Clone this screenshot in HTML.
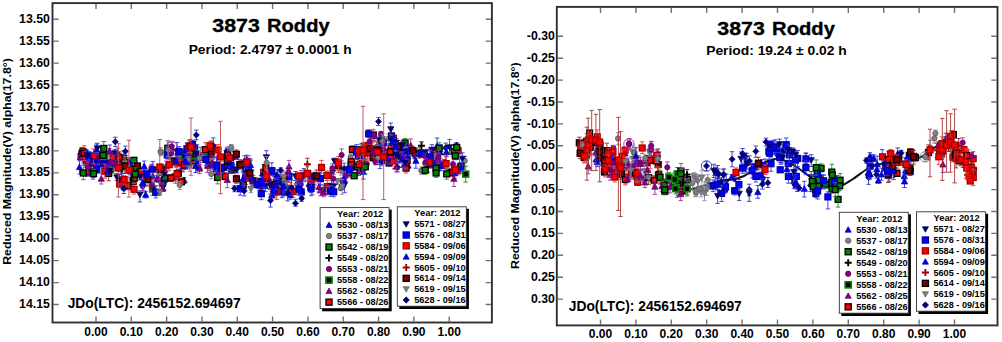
<!DOCTYPE html>
<html><head><meta charset="utf-8"><style>
html,body{margin:0;padding:0;background:#fff;width:1002px;height:342px;overflow:hidden}
svg{display:block}
text{font-family:"Liberation Sans", sans-serif;font-weight:bold;fill:#000}
</style></head><body>
<svg width="1002" height="342" viewBox="0 0 1002 342" font-family='"Liberation Sans", sans-serif' font-weight="bold">
<rect width="1002" height="342" fill="#fff"/>
<g></g>
<g><path d="M86.5 150.1V160.7M84.3 150.1H88.7M84.3 160.7H88.7" stroke="#2a2aff" stroke-width="0.9"/><path d="M86.50 152.37L89.65 158.06L83.35 158.06Z" fill="#0000ee" stroke="#000080" stroke-width="0.70"/><path d="M81.2 153.6V158.6M79.0 153.6H83.4M79.0 158.6H83.4" stroke="#209020" stroke-width="0.9"/><rect x="78.26" y="153.56" width="5.88" height="5.88" fill="#008000" stroke="#000000" stroke-width="1.30"/><path d="M88.5 157.8V170.6M86.3 157.8H90.7M86.3 170.6H90.7" stroke="#ff3030" stroke-width="0.9"/><rect x="85.56" y="160.86" width="5.88" height="5.88" fill="#ff0000" stroke="#000000" stroke-width="1.30"/><path d="M91.5 156.5V170.5M89.3 156.5H93.7M89.3 170.5H93.7" stroke="#2a2aff" stroke-width="0.9"/><path d="M91.50 160.56L94.65 166.26L88.35 166.26Z" fill="#0000ee" stroke="#000080" stroke-width="0.70"/><path d="M82.9 147.9V155.1M80.7 147.9H85.1M80.7 155.1H85.1" stroke="#a02828" stroke-width="0.9"/><rect x="79.96" y="148.46" width="5.88" height="5.88" fill="#800000" stroke="#000000" stroke-width="1.30"/><path d="M92.8 156.1V161.1M90.6 156.1H95.0M90.6 161.1H95.0" stroke="#2a2aff" stroke-width="0.9"/><path d="M92.80 155.77L95.95 161.47L89.65 161.47Z" fill="#0000ee" stroke="#000080" stroke-width="0.70"/><path d="M93.6 152.7V162.3M91.4 152.7H95.8M91.4 162.3H95.8" stroke="#3030ff" stroke-width="0.9"/><rect x="90.66" y="154.76" width="5.88" height="5.88" fill="#0000ff" stroke="#0000a0" stroke-width="1.30"/><path d="M95.9 157.0V168.5M93.7 157.0H98.1M93.7 168.5H98.1" stroke="#3030ff" stroke-width="0.9"/><rect x="92.96" y="159.46" width="5.88" height="5.88" fill="#0000ff" stroke="#0000a0" stroke-width="1.30"/><path d="M94.6 156.8V166.9M92.4 156.8H96.8M92.4 166.9H96.8" stroke="#a030a0" stroke-width="0.9"/><path d="M94.60 158.47L97.75 164.16L91.45 164.16Z" fill="#800080" stroke="#600060" stroke-width="0.70"/><path d="M83.0 149.5V163.1M80.8 149.5H85.2M80.8 163.1H85.2" stroke="#a030a0" stroke-width="0.9"/><circle cx="83.00" cy="156.20" r="2.64" fill="#800080" stroke="#600060" stroke-width="0.70"/><path d="M97.5 153.5V164.8M95.3 153.5H99.7M95.3 164.8H99.7" stroke="#3030ff" stroke-width="0.9"/><rect x="94.56" y="156.26" width="5.88" height="5.88" fill="#0000ff" stroke="#0000a0" stroke-width="1.30"/><path d="M96.8 166.8V172.8M94.6 166.8H99.0M94.6 172.8H99.0" stroke="#3030ff" stroke-width="0.9"/><rect x="93.86" y="166.66" width="5.88" height="5.88" fill="#0000ff" stroke="#0000a0" stroke-width="1.30"/><path d="M92.9 169.5V179.1M90.7 169.5H95.1M90.7 179.1H95.1" stroke="#3434c8" stroke-width="0.9"/><path d="M92.90 177.23L96.05 171.53L89.75 171.53Z" fill="#000080" stroke="#000040" stroke-width="0.70"/><path d="M80.5 154.1V160.3M78.3 154.1H82.7M78.3 160.3H82.7" stroke="#a030a0" stroke-width="0.9"/><path d="M80.50 153.77L83.65 159.47L77.35 159.47Z" fill="#800080" stroke="#600060" stroke-width="0.70"/><path d="M82.6 152.0V157.7M80.4 152.0H84.8M80.4 157.7H84.8" stroke="#a02828" stroke-width="0.9"/><rect x="79.66" y="151.96" width="5.88" height="5.88" fill="#800000" stroke="#000000" stroke-width="1.30"/><path d="M91.0 167.9V175.8M88.8 167.9H93.2M88.8 175.8H93.2" stroke="#a02828" stroke-width="0.9"/><rect x="88.06" y="168.96" width="5.88" height="5.88" fill="#800000" stroke="#000000" stroke-width="1.30"/><path d="M87.2 169.8V176.2M85.0 169.8H89.4M85.0 176.2H89.4" stroke="#a030a0" stroke-width="0.9"/><path d="M87.20 170.17L90.35 175.87L84.05 175.87Z" fill="#800080" stroke="#600060" stroke-width="0.70"/><path d="M84.7 159.1V164.0M82.5 159.1H86.9M82.5 164.0H86.9" stroke="#3434c8" stroke-width="0.9"/><path d="M84.70 164.73L87.85 159.03L81.55 159.03Z" fill="#000080" stroke="#000040" stroke-width="0.70"/><path d="M87.4 161.6V172.5M85.2 161.6H89.6M85.2 172.5H89.6" stroke="#a030a0" stroke-width="0.9"/><circle cx="87.40" cy="166.90" r="2.64" fill="#800080" stroke="#600060" stroke-width="0.70"/><path d="M93.5 148.8V164.0M91.3 148.8H95.7M91.3 164.0H95.7" stroke="#f03838" stroke-width="0.9"/><rect x="90.56" y="153.16" width="5.88" height="5.88" fill="#ff0000" stroke="#a00000" stroke-width="1.30"/><path d="M87.8 152.2V157.0M85.6 152.2H90.0M85.6 157.0H90.0" stroke="#3030ff" stroke-width="0.9"/><rect x="84.86" y="152.06" width="5.88" height="5.88" fill="#0000ff" stroke="#0000a0" stroke-width="1.30"/><path d="M84.2 150.1V154.4M82.0 150.1H86.4M82.0 154.4H86.4" stroke="#2a2aff" stroke-width="0.9"/><path d="M84.20 149.47L87.35 155.16L81.05 155.16Z" fill="#0000ee" stroke="#000080" stroke-width="0.70"/><path d="M82.0 147.6V158.7M79.8 147.6H84.2M79.8 158.7H84.2" stroke="#a02828" stroke-width="0.9"/><rect x="79.06" y="150.56" width="5.88" height="5.88" fill="#800000" stroke="#000000" stroke-width="1.30"/><path d="M85.0 149.4V164.8M82.8 149.4H87.2M82.8 164.8H87.2" stroke="#a030a0" stroke-width="0.9"/><path d="M85.00 153.47L88.15 159.16L81.85 159.16Z" fill="#800080" stroke="#600060" stroke-width="0.70"/><path d="M89.3 152.1V160.4M87.1 152.1H91.5M87.1 160.4H91.5" stroke="#2a2aff" stroke-width="0.9"/><path d="M89.30 153.37L92.45 159.06L86.15 159.06Z" fill="#0000ee" stroke="#000080" stroke-width="0.70"/><path d="M96.6 144.1V154.2M94.4 144.1H98.8M94.4 154.2H98.8" stroke="#3030ff" stroke-width="0.9"/><path d="M96.60 146.37L99.75 152.06L93.45 152.06Z" fill="#0000ff" stroke="#0000a0" stroke-width="0.70"/><path d="M109.8 145.0V159.8M107.6 145.0H112.0M107.6 159.8H112.0" stroke="#3030ff" stroke-width="0.9"/><path d="M109.80 149.06L112.95 154.76L106.65 154.76Z" fill="#0000ff" stroke="#0000a0" stroke-width="0.70"/><path d="M104.7 150.2V161.6M102.5 150.2H106.9M102.5 161.6H106.9" stroke="#a030a0" stroke-width="0.9"/><circle cx="104.70" cy="155.60" r="2.64" fill="#800080" stroke="#600060" stroke-width="0.70"/><path d="M105.9 152.2V167.2M103.7 152.2H108.1M103.7 167.2H108.1" stroke="#3030ff" stroke-width="0.9"/><path d="M105.90 156.27L109.05 161.97L102.75 161.97Z" fill="#0000ff" stroke="#0000a0" stroke-width="0.70"/><path d="M114.7 159.7V167.7M112.5 159.7H116.9M112.5 167.7H116.9" stroke="#3434c8" stroke-width="0.9"/><path d="M114.70 161.14L117.76 164.20L114.70 167.26L111.64 164.20Z" fill="#000080" stroke="#000060" stroke-width="0.70"/><path d="M100.5 146.9V162.4M98.3 146.9H102.7M98.3 162.4H102.7" stroke="#a030a0" stroke-width="0.9"/><circle cx="100.50" cy="154.70" r="2.64" fill="#800080" stroke="#600060" stroke-width="0.70"/><path d="M116.9 173.6V180.5M114.7 173.6H119.1M114.7 180.5H119.1" stroke="#3434c8" stroke-width="0.9"/><path d="M116.90 180.44L120.05 174.74L113.75 174.74Z" fill="#000080" stroke="#000040" stroke-width="0.70"/><path d="M103.5 149.9V164.1M101.3 149.9H105.7M101.3 164.1H105.7" stroke="#209020" stroke-width="0.9"/><rect x="100.56" y="154.06" width="5.88" height="5.88" fill="#000000" stroke="#008000" stroke-width="1.60"/><path d="M111.8 156.5V172.1M109.6 156.5H114.0M109.6 172.1H114.0" stroke="#3030ff" stroke-width="0.9"/><rect x="108.86" y="161.06" width="5.88" height="5.88" fill="#0000ff" stroke="#0000a0" stroke-width="1.30"/><path d="M113.5 153.8V163.0M111.3 153.8H115.7M111.3 163.0H115.7" stroke="#f03838" stroke-width="0.9"/><rect x="110.56" y="155.16" width="5.88" height="5.88" fill="#ff0000" stroke="#a00000" stroke-width="1.30"/><path d="M117.5 152.2V164.5M115.3 152.2H119.7M115.3 164.5H119.7" stroke="#3030ff" stroke-width="0.9"/><path d="M117.50 155.56L120.65 161.26L114.35 161.26Z" fill="#0000ff" stroke="#0000a0" stroke-width="0.70"/><path d="M102.3 155.6V162.9M100.1 155.6H104.5M100.1 162.9H104.5" stroke="#f03838" stroke-width="0.9"/><rect x="99.36" y="155.96" width="5.88" height="5.88" fill="#ff0000" stroke="#a00000" stroke-width="1.30"/><path d="M117.6 160.6V166.0M115.4 160.6H119.8M115.4 166.0H119.8" stroke="#3434c8" stroke-width="0.9"/><path d="M117.60 160.74L120.66 163.80L117.60 166.86L114.54 163.80Z" fill="#000080" stroke="#000060" stroke-width="0.70"/><path d="M117.5 160.6V171.1M115.3 160.6H119.7M115.3 171.1H119.7" stroke="#3030ff" stroke-width="0.9"/><path d="M117.50 162.37L120.65 168.06L114.35 168.06Z" fill="#0000ff" stroke="#0000a0" stroke-width="0.70"/><path d="M114.9 149.4V157.2M112.7 149.4H117.1M112.7 157.2H117.1" stroke="#3434c8" stroke-width="0.9"/><path d="M114.90 156.33L118.05 150.63L111.75 150.63Z" fill="#000080" stroke="#000040" stroke-width="0.70"/><path d="M104.7 151.9V160.7M102.5 151.9H106.9M102.5 160.7H106.9" stroke="#209020" stroke-width="0.9"/><rect x="101.76" y="153.36" width="5.88" height="5.88" fill="#000000" stroke="#008000" stroke-width="1.60"/><path d="M110.5 164.5V175.1M108.3 164.5H112.7M108.3 175.1H112.7" stroke="#209020" stroke-width="0.9"/><rect x="107.56" y="166.86" width="5.88" height="5.88" fill="#000000" stroke="#008000" stroke-width="1.60"/><path d="M109.4 148.6V154.2M107.2 148.6H111.6M107.2 154.2H111.6" stroke="#a030a0" stroke-width="0.9"/><path d="M109.40 147.97L112.55 153.66L106.25 153.66Z" fill="#800080" stroke="#600060" stroke-width="0.70"/><path d="M103.1 159.5V168.1M100.9 159.5H105.3M100.9 168.1H105.3" stroke="#3030ff" stroke-width="0.9"/><rect x="100.16" y="160.86" width="5.88" height="5.88" fill="#0000ff" stroke="#0000a0" stroke-width="1.30"/><path d="M110.0 160.0V167.3M107.8 160.0H112.2M107.8 167.3H112.2" stroke="#3030ff" stroke-width="0.9"/><rect x="107.06" y="160.96" width="5.88" height="5.88" fill="#0000ff" stroke="#0000a0" stroke-width="1.30"/><path d="M113.9 155.3V170.2M111.7 155.3H116.1M111.7 170.2H116.1" stroke="#a030a0" stroke-width="0.9"/><circle cx="113.90" cy="162.80" r="2.64" fill="#800080" stroke="#600060" stroke-width="0.70"/><path d="M111.0 157.2V167.3M108.8 157.2H113.2M108.8 167.3H113.2" stroke="#a030a0" stroke-width="0.9"/><circle cx="111.00" cy="162.20" r="2.64" fill="#800080" stroke="#600060" stroke-width="0.70"/><path d="M108.6 165.8V180.7M106.4 165.8H110.8M106.4 180.7H110.8" stroke="#a02828" stroke-width="0.9"/><rect x="105.66" y="170.56" width="5.88" height="5.88" fill="#800000" stroke="#000000" stroke-width="1.30"/><path d="M130.3 183.4V189.7M128.1 183.4H132.5M128.1 189.7H132.5" stroke="#a030a0" stroke-width="0.9"/><path d="M130.30 183.47L133.45 189.16L127.15 189.16Z" fill="#800080" stroke="#600060" stroke-width="0.70"/><path d="M119.6 153.0V167.4M117.4 153.0H121.8M117.4 167.4H121.8" stroke="#a030a0" stroke-width="0.9"/><circle cx="119.60" cy="159.80" r="2.64" fill="#800080" stroke="#600060" stroke-width="0.70"/><path d="M121.4 171.4V187.1M119.2 171.4H123.6M119.2 187.1H123.6" stroke="#a030a0" stroke-width="0.9"/><path d="M121.40 175.67L124.55 181.37L118.25 181.37Z" fill="#800080" stroke="#600060" stroke-width="0.70"/><path d="M122.8 173.5V190.0M120.6 173.5H125.0M120.6 190.0H125.0" stroke="#3434c8" stroke-width="0.9"/><path d="M122.80 178.34L125.86 181.40L122.80 184.46L119.74 181.40Z" fill="#000080" stroke="#000060" stroke-width="0.70"/><path d="M121.6 166.4V173.2M119.4 166.4H123.8M119.4 173.2H123.8" stroke="#3434c8" stroke-width="0.9"/><path d="M121.60 173.13L124.75 167.44L118.45 167.44Z" fill="#000080" stroke="#000040" stroke-width="0.70"/><path d="M133.9 157.7V162.6M131.7 157.7H136.1M131.7 162.6H136.1" stroke="#209020" stroke-width="0.9"/><rect x="130.96" y="157.36" width="5.88" height="5.88" fill="#008000" stroke="#000000" stroke-width="1.30"/><path d="M131.7 159.6V174.2M129.5 159.6H133.9M129.5 174.2H133.9" stroke="#3030ff" stroke-width="0.9"/><path d="M131.70 163.27L134.85 168.97L128.55 168.97Z" fill="#0000ff" stroke="#0000a0" stroke-width="0.70"/><path d="M120.3 156.0V163.2M118.1 156.0H122.5M118.1 163.2H122.5" stroke="#f03838" stroke-width="0.9"/><rect x="117.36" y="157.06" width="5.88" height="5.88" fill="#ff0000" stroke="#a00000" stroke-width="1.30"/><path d="M127.3 182.3V189.8M125.1 182.3H129.5M125.1 189.8H129.5" stroke="#ff3030" stroke-width="0.9"/><rect x="124.36" y="182.66" width="5.88" height="5.88" fill="#ff0000" stroke="#000000" stroke-width="1.30"/><path d="M130.6 165.1V177.5M128.4 165.1H132.8M128.4 177.5H132.8" stroke="#2a2aff" stroke-width="0.9"/><path d="M130.60 168.27L133.75 173.97L127.45 173.97Z" fill="#0000ee" stroke="#000080" stroke-width="0.70"/><path d="M119.6 181.0V187.7M117.4 181.0H121.8M117.4 187.7H121.8" stroke="#f03838" stroke-width="0.9"/><rect x="116.66" y="181.06" width="5.88" height="5.88" fill="#ff0000" stroke="#a00000" stroke-width="1.30"/><path d="M119.5 174.4V186.3M117.3 174.4H121.7M117.3 186.3H121.7" stroke="#3434c8" stroke-width="0.9"/><path d="M119.50 183.03L122.65 177.34L116.35 177.34Z" fill="#000080" stroke="#000040" stroke-width="0.70"/><path d="M123.9 159.6V165.1M121.7 159.6H126.1M121.7 165.1H126.1" stroke="#ff3030" stroke-width="0.9"/><rect x="120.96" y="159.76" width="5.88" height="5.88" fill="#ff0000" stroke="#000000" stroke-width="1.30"/><path d="M119.1 155.1V168.1M116.9 155.1H121.3M116.9 168.1H121.3" stroke="#3434c8" stroke-width="0.9"/><path d="M119.10 164.94L122.25 159.24L115.95 159.24Z" fill="#000080" stroke="#000040" stroke-width="0.70"/><path d="M129.0 157.8V164.6M126.8 157.8H131.2M126.8 164.6H131.2" stroke="#2a2aff" stroke-width="0.9"/><path d="M129.00 158.56L132.15 164.26L125.85 164.26Z" fill="#0000ee" stroke="#000080" stroke-width="0.70"/><path d="M134.1 161.3V175.8M131.9 161.3H136.3M131.9 175.8H136.3" stroke="#209020" stroke-width="0.9"/><rect x="131.16" y="165.96" width="5.88" height="5.88" fill="#008000" stroke="#000000" stroke-width="1.30"/><path d="M136.0 165.1V174.5M133.8 165.1H138.2M133.8 174.5H138.2" stroke="#a02828" stroke-width="0.9"/><rect x="133.06" y="166.86" width="5.88" height="5.88" fill="#800000" stroke="#000000" stroke-width="1.30"/><path d="M133.1 175.1V188.2M130.9 175.1H135.3M130.9 188.2H135.3" stroke="#a02828" stroke-width="0.9"/><rect x="130.16" y="178.56" width="5.88" height="5.88" fill="#800000" stroke="#000000" stroke-width="1.30"/><path d="M126.9 159.3V165.6M124.7 159.3H129.1M124.7 165.6H129.1" stroke="#a030a0" stroke-width="0.9"/><path d="M126.90 159.06L130.05 164.76L123.75 164.76Z" fill="#800080" stroke="#600060" stroke-width="0.70"/><path d="M123.6 150.8V165.7M121.4 150.8H125.8M121.4 165.7H125.8" stroke="#a02828" stroke-width="0.9"/><rect x="120.66" y="155.16" width="5.88" height="5.88" fill="#800000" stroke="#000000" stroke-width="1.30"/><path d="M124.2 159.2V165.9M122.0 159.2H126.4M122.0 165.9H126.4" stroke="#209020" stroke-width="0.9"/><rect x="121.26" y="159.66" width="5.88" height="5.88" fill="#008000" stroke="#000000" stroke-width="1.30"/><path d="M123.8 184.9V193.5M121.6 184.9H126.0M121.6 193.5H126.0" stroke="#3434c8" stroke-width="0.9"/><path d="M123.80 185.64L126.86 188.70L123.80 191.76L120.74 188.70Z" fill="#000080" stroke="#000060" stroke-width="0.70"/><path d="M124.8 156.7V166.9M122.6 156.7H127.0M122.6 166.9H127.0" stroke="#8888a8" stroke-width="0.9"/><circle cx="124.80" cy="161.80" r="2.64" fill="#808080" stroke="#505050" stroke-width="0.70"/><path d="M122.4 162.5V168.3M120.2 162.5H124.6M120.2 168.3H124.6" stroke="#3434c8" stroke-width="0.9"/><path d="M122.40 168.63L125.55 162.94L119.25 162.94Z" fill="#000080" stroke="#000040" stroke-width="0.70"/><path d="M118.9 151.6V163.1M116.7 151.6H121.1M116.7 163.1H121.1" stroke="#ff3030" stroke-width="0.9"/><rect x="115.96" y="154.36" width="5.88" height="5.88" fill="#ff0000" stroke="#000000" stroke-width="1.30"/><path d="M134.5 173.4V182.3M132.3 173.4H136.7M132.3 182.3H136.7" stroke="#a02828" stroke-width="0.9"/><rect x="131.56" y="175.06" width="5.88" height="5.88" fill="#800000" stroke="#000000" stroke-width="1.30"/><path d="M164.6 169.2V175.3M162.4 169.2H166.8M162.4 175.3H166.8" stroke="#a030a0" stroke-width="0.9"/><circle cx="164.60" cy="171.90" r="2.64" fill="#800080" stroke="#600060" stroke-width="0.70"/><path d="M162.3 179.9V186.5M160.1 179.9H164.5M160.1 186.5H164.5" stroke="#a02828" stroke-width="0.9"/><rect x="159.36" y="180.26" width="5.88" height="5.88" fill="#800000" stroke="#000000" stroke-width="1.30"/><path d="M152.6 183.2V195.4M150.4 183.2H154.8M150.4 195.4H154.8" stroke="#209020" stroke-width="0.9"/><rect x="149.66" y="185.96" width="5.88" height="5.88" fill="#000000" stroke="#008000" stroke-width="1.60"/><path d="M157.1 175.7V181.9M154.9 175.7H159.3M154.9 181.9H159.3" stroke="#2a2aff" stroke-width="0.9"/><path d="M157.10 175.77L160.25 181.47L153.95 181.47Z" fill="#0000ee" stroke="#000080" stroke-width="0.70"/><path d="M142.6 180.1V192.3M140.4 180.1H144.8M140.4 192.3H144.8" stroke="#a030a0" stroke-width="0.9"/><circle cx="142.60" cy="186.00" r="2.64" fill="#800080" stroke="#600060" stroke-width="0.70"/><path d="M152.2 164.1V174.7M150.0 164.1H154.4M150.0 174.7H154.4" stroke="#f03838" stroke-width="0.9"/><rect x="149.26" y="166.46" width="5.88" height="5.88" fill="#ff0000" stroke="#a00000" stroke-width="1.30"/><path d="M156.5 167.2V172.5M154.3 167.2H158.7M154.3 172.5H158.7" stroke="#3434c8" stroke-width="0.9"/><path d="M156.50 173.23L159.65 167.53L153.35 167.53Z" fill="#000080" stroke="#000040" stroke-width="0.70"/><path d="M158.2 168.2V178.4M156.0 168.2H160.4M156.0 178.4H160.4" stroke="#9090a8" stroke-width="0.9"/><path d="M158.20 176.53L161.35 170.84L155.05 170.84Z" fill="#808080" stroke="#606060" stroke-width="0.70"/><path d="M152.0 178.9V190.1M149.8 178.9H154.2M149.8 190.1H154.2" stroke="#a030a0" stroke-width="0.9"/><circle cx="152.00" cy="184.90" r="2.64" fill="#800080" stroke="#600060" stroke-width="0.70"/><path d="M143.7 169.0V179.2M141.5 169.0H145.9M141.5 179.2H145.9" stroke="#3434c8" stroke-width="0.9"/><path d="M143.70 177.73L146.85 172.03L140.55 172.03Z" fill="#000080" stroke="#000040" stroke-width="0.70"/><path d="M141.5 167.9V179.9M139.3 167.9H143.7M139.3 179.9H143.7" stroke="#f03838" stroke-width="0.9"/><rect x="138.56" y="171.16" width="5.88" height="5.88" fill="#ff0000" stroke="#a00000" stroke-width="1.30"/><path d="M152.9 168.9V183.1M150.7 168.9H155.1M150.7 183.1H155.1" stroke="#a030a0" stroke-width="0.9"/><path d="M152.90 173.17L156.05 178.87L149.75 178.87Z" fill="#800080" stroke="#600060" stroke-width="0.70"/><path d="M164.5 175.1V190.0M162.3 175.1H166.7M162.3 190.0H166.7" stroke="#3434c8" stroke-width="0.9"/><path d="M164.50 179.04L167.56 182.10L164.50 185.16L161.44 182.10Z" fill="#000080" stroke="#000060" stroke-width="0.70"/><path d="M151.2 165.0V172.5M149.0 165.0H153.4M149.0 172.5H153.4" stroke="#3030ff" stroke-width="0.9"/><path d="M151.20 165.56L154.35 171.26L148.05 171.26Z" fill="#0000ff" stroke="#0000a0" stroke-width="0.70"/><path d="M143.5 176.3V190.3M141.3 176.3H145.7M141.3 190.3H145.7" stroke="#a030a0" stroke-width="0.9"/><path d="M143.50 180.17L146.65 185.87L140.35 185.87Z" fill="#800080" stroke="#600060" stroke-width="0.70"/><path d="M162.2 173.9V183.3M160.0 173.9H164.4M160.0 183.3H164.4" stroke="#3030ff" stroke-width="0.9"/><path d="M162.20 175.97L165.35 181.66L159.05 181.66Z" fill="#0000ff" stroke="#0000a0" stroke-width="0.70"/><path d="M140.1 173.4V179.7M137.9 173.4H142.3M137.9 179.7H142.3" stroke="#3434c8" stroke-width="0.9"/><path d="M140.10 179.83L143.25 174.13L136.95 174.13Z" fill="#000080" stroke="#000040" stroke-width="0.70"/><path d="M147.9 172.5V186.0M145.7 172.5H150.1M145.7 186.0H150.1" stroke="#a02828" stroke-width="0.9"/><rect x="144.96" y="176.66" width="5.88" height="5.88" fill="#800000" stroke="#000000" stroke-width="1.30"/><path d="M163.2 182.7V191.5M161.0 182.7H165.4M161.0 191.5H165.4" stroke="#3434c8" stroke-width="0.9"/><path d="M163.20 190.33L166.35 184.63L160.05 184.63Z" fill="#000080" stroke="#000040" stroke-width="0.70"/><path d="M165.0 174.0V181.1M162.8 174.0H167.2M162.8 181.1H167.2" stroke="#209020" stroke-width="0.9"/><rect x="162.06" y="175.06" width="5.88" height="5.88" fill="#008000" stroke="#000000" stroke-width="1.30"/><path d="M142.5 178.9V186.2M140.3 178.9H144.7M140.3 186.2H144.7" stroke="#3030ff" stroke-width="0.9"/><path d="M142.50 179.67L145.65 185.37L139.35 185.37Z" fill="#0000ff" stroke="#0000a0" stroke-width="0.70"/><path d="M152.8 161.4V176.8M150.6 161.4H155.0M150.6 176.8H155.0" stroke="#3030ff" stroke-width="0.9"/><path d="M152.80 165.67L155.95 171.37L149.65 171.37Z" fill="#0000ff" stroke="#0000a0" stroke-width="0.70"/><path d="M155.8 185.8V197.9M153.6 185.8H158.0M153.6 197.9H158.0" stroke="#3030ff" stroke-width="0.9"/><rect x="152.86" y="189.36" width="5.88" height="5.88" fill="#0000ff" stroke="#0000a0" stroke-width="1.30"/><path d="M158.3 175.2V182.5M156.1 175.2H160.5M156.1 182.5H160.5" stroke="#a030a0" stroke-width="0.9"/><circle cx="158.30" cy="179.30" r="2.64" fill="#800080" stroke="#600060" stroke-width="0.70"/><path d="M163.2 164.4V173.1M161.0 164.4H165.4M161.0 173.1H165.4" stroke="#8888a8" stroke-width="0.9"/><circle cx="163.20" cy="168.50" r="2.64" fill="#808080" stroke="#505050" stroke-width="0.70"/><path d="M164.4 168.1V179.1M162.2 168.1H166.6M162.2 179.1H166.6" stroke="#3434c8" stroke-width="0.9"/><path d="M164.40 176.83L167.55 171.13L161.25 171.13Z" fill="#000080" stroke="#000040" stroke-width="0.70"/><path d="M144.2 161.0V170.9M142.0 161.0H146.4M142.0 170.9H146.4" stroke="#3030ff" stroke-width="0.9"/><path d="M144.20 163.06L147.35 168.76L141.05 168.76Z" fill="#0000ff" stroke="#0000a0" stroke-width="0.70"/><path d="M162.7 184.9V191.2M160.5 184.9H164.9M160.5 191.2H164.9" stroke="#a030a0" stroke-width="0.9"/><path d="M162.70 185.37L165.85 191.06L159.55 191.06Z" fill="#800080" stroke="#600060" stroke-width="0.70"/><path d="M171.8 146.0V158.0M169.6 146.0H174.0M169.6 158.0H174.0" stroke="#3434c8" stroke-width="0.9"/><path d="M171.80 154.73L174.95 149.03L168.65 149.03Z" fill="#000080" stroke="#000040" stroke-width="0.70"/><path d="M180.0 157.9V166.7M177.8 157.9H182.2M177.8 166.7H182.2" stroke="#3030ff" stroke-width="0.9"/><rect x="177.06" y="159.56" width="5.88" height="5.88" fill="#0000ff" stroke="#0000a0" stroke-width="1.30"/><path d="M166.2 161.0V171.8M164.0 161.0H168.4M164.0 171.8H168.4" stroke="#a030a0" stroke-width="0.9"/><path d="M166.20 163.17L169.35 168.87L163.05 168.87Z" fill="#800080" stroke="#600060" stroke-width="0.70"/><path d="M182.3 150.7V160.0M180.1 150.7H184.5M180.1 160.0H184.5" stroke="#ff3030" stroke-width="0.9"/><rect x="179.36" y="152.46" width="5.88" height="5.88" fill="#ff0000" stroke="#000000" stroke-width="1.30"/><path d="M184.1 177.6V183.4M181.9 177.6H186.3M181.9 183.4H186.3" stroke="#2a2aff" stroke-width="0.9"/><path d="M184.10 177.17L187.25 182.87L180.95 182.87Z" fill="#0000ee" stroke="#000080" stroke-width="0.70"/><path d="M182.9 161.7V171.9M180.7 161.7H185.1M180.7 171.9H185.1" stroke="#2a2aff" stroke-width="0.9"/><path d="M182.90 163.27L186.05 168.97L179.75 168.97Z" fill="#0000ee" stroke="#000080" stroke-width="0.70"/><path d="M181.5 178.7V184.2M179.3 178.7H183.7M179.3 184.2H183.7" stroke="#ff3030" stroke-width="0.9"/><rect x="178.56" y="178.86" width="5.88" height="5.88" fill="#ff0000" stroke="#000000" stroke-width="1.30"/><path d="M175.4 170.6V183.3M173.2 170.6H177.6M173.2 183.3H177.6" stroke="#f03838" stroke-width="0.9"/><rect x="172.46" y="173.76" width="5.88" height="5.88" fill="#ff0000" stroke="#a00000" stroke-width="1.30"/><path d="M174.1 157.4V165.8M171.9 157.4H176.3M171.9 165.8H176.3" stroke="#a02828" stroke-width="0.9"/><rect x="171.16" y="158.26" width="5.88" height="5.88" fill="#800000" stroke="#000000" stroke-width="1.30"/><path d="M177.9 149.8V162.2M175.7 149.8H180.1M175.7 162.2H180.1" stroke="#3434c8" stroke-width="0.9"/><path d="M177.90 158.94L181.05 153.24L174.75 153.24Z" fill="#000080" stroke="#000040" stroke-width="0.70"/><path d="M167.2 150.3V159.0M165.0 150.3H169.4M165.0 159.0H169.4" stroke="#3030ff" stroke-width="0.9"/><rect x="164.26" y="151.96" width="5.88" height="5.88" fill="#0000ff" stroke="#0000a0" stroke-width="1.30"/><path d="M177.0 142.5V158.4M174.8 142.5H179.2M174.8 158.4H179.2" stroke="#3434c8" stroke-width="0.9"/><path d="M177.00 147.24L180.06 150.30L177.00 153.36L173.94 150.30Z" fill="#000080" stroke="#000060" stroke-width="0.70"/><path d="M182.7 154.0V170.0M180.5 154.0H184.9M180.5 170.0H184.9" stroke="#ff3030" stroke-width="0.9"/><rect x="179.76" y="158.86" width="5.88" height="5.88" fill="#ff0000" stroke="#000000" stroke-width="1.30"/><path d="M171.1 148.4V157.5M168.9 148.4H173.3M168.9 157.5H173.3" stroke="#a030a0" stroke-width="0.9"/><circle cx="171.10" cy="153.20" r="2.64" fill="#800080" stroke="#600060" stroke-width="0.70"/><path d="M178.3 169.3V177.9M176.1 169.3H180.5M176.1 177.9H180.5" stroke="#2a2aff" stroke-width="0.9"/><path d="M178.30 170.56L181.45 176.26L175.15 176.26Z" fill="#0000ee" stroke="#000080" stroke-width="0.70"/><path d="M178.7 156.6V166.6M176.5 156.6H180.9M176.5 166.6H180.9" stroke="#f03838" stroke-width="0.9"/><rect x="175.76" y="158.96" width="5.88" height="5.88" fill="#ff0000" stroke="#a00000" stroke-width="1.30"/><path d="M184.4 161.5V169.4M182.2 161.5H186.6M182.2 169.4H186.6" stroke="#ff3030" stroke-width="0.9"/><rect x="181.46" y="162.26" width="5.88" height="5.88" fill="#ff0000" stroke="#000000" stroke-width="1.30"/><path d="M170.9 174.3V181.6M168.7 174.3H173.1M168.7 181.6H173.1" stroke="#ff3030" stroke-width="0.9"/><rect x="167.96" y="175.06" width="5.88" height="5.88" fill="#ff0000" stroke="#000000" stroke-width="1.30"/><path d="M178.3 169.6V177.9M176.1 169.6H180.5M176.1 177.9H180.5" stroke="#209020" stroke-width="0.9"/><rect x="175.36" y="170.36" width="5.88" height="5.88" fill="#008000" stroke="#000000" stroke-width="1.30"/><path d="M167.8 140.8V156.4M165.6 140.8H170.0M165.6 156.4H170.0" stroke="#209020" stroke-width="0.9"/><rect x="164.86" y="145.26" width="5.88" height="5.88" fill="#008000" stroke="#000000" stroke-width="1.30"/><path d="M179.7 181.5V189.4M177.5 181.5H181.9M177.5 189.4H181.9" stroke="#8888a8" stroke-width="0.9"/><circle cx="179.70" cy="185.00" r="2.64" fill="#808080" stroke="#505050" stroke-width="0.70"/><path d="M179.9 151.1V159.9M177.7 151.1H182.1M177.7 159.9H182.1" stroke="#8888a8" stroke-width="0.9"/><circle cx="179.90" cy="155.70" r="2.64" fill="#808080" stroke="#505050" stroke-width="0.70"/><path d="M168.4 142.0V156.8M166.2 142.0H170.6M166.2 156.8H170.6" stroke="#8888a8" stroke-width="0.9"/><circle cx="168.40" cy="149.80" r="2.64" fill="#808080" stroke="#505050" stroke-width="0.70"/><path d="M184.3 149.3V163.2M182.1 149.3H186.5M182.1 163.2H186.5" stroke="#209020" stroke-width="0.9"/><rect x="181.36" y="153.36" width="5.88" height="5.88" fill="#000000" stroke="#008000" stroke-width="1.60"/><path d="M186.5 152.2V159.1M184.3 152.2H188.7M184.3 159.1H188.7" stroke="#3030ff" stroke-width="0.9"/><path d="M186.50 152.67L189.65 158.37L183.35 158.37Z" fill="#0000ff" stroke="#0000a0" stroke-width="0.70"/><path d="M211.9 140.9V153.4M209.7 140.9H214.1M209.7 153.4H214.1" stroke="#a02828" stroke-width="0.9"/><rect x="208.96" y="144.66" width="5.88" height="5.88" fill="#800000" stroke="#000000" stroke-width="1.30"/><path d="M186.0 146.5V160.5M183.8 146.5H188.2M183.8 160.5H188.2" stroke="#3434c8" stroke-width="0.9"/><path d="M186.00 156.23L189.15 150.53L182.85 150.53Z" fill="#000080" stroke="#000040" stroke-width="0.70"/><path d="M195.2 153.6V161.9M193.0 153.6H197.4M193.0 161.9H197.4" stroke="#a030a0" stroke-width="0.9"/><circle cx="195.20" cy="157.50" r="2.64" fill="#800080" stroke="#600060" stroke-width="0.70"/><path d="M194.5 140.9V156.2M192.3 140.9H196.7M192.3 156.2H196.7" stroke="#a02828" stroke-width="0.9"/><rect x="191.56" y="145.46" width="5.88" height="5.88" fill="#800000" stroke="#000000" stroke-width="1.30"/><path d="M213.3 137.9V154.4M211.1 137.9H215.5M211.1 154.4H215.5" stroke="#3434c8" stroke-width="0.9"/><path d="M213.30 142.64L216.36 145.70L213.30 148.76L210.24 145.70Z" fill="#000080" stroke="#000060" stroke-width="0.70"/><path d="M196.6 144.4V159.0M194.4 144.4H198.8M194.4 159.0H198.8" stroke="#3434c8" stroke-width="0.9"/><path d="M196.60 148.94L199.66 152.00L196.60 155.06L193.54 152.00Z" fill="#000080" stroke="#000060" stroke-width="0.70"/><path d="M209.1 159.4V170.7M206.9 159.4H211.3M206.9 170.7H211.3" stroke="#a02828" stroke-width="0.9"/><rect x="206.16" y="162.26" width="5.88" height="5.88" fill="#800000" stroke="#000000" stroke-width="1.30"/><path d="M194.6 154.0V161.7M192.4 154.0H196.8M192.4 161.7H196.8" stroke="#2a2aff" stroke-width="0.9"/><path d="M194.60 154.47L197.75 160.16L191.45 160.16Z" fill="#0000ee" stroke="#000080" stroke-width="0.70"/><path d="M192.4 140.3V149.9M190.2 140.3H194.6M190.2 149.9H194.6" stroke="#3030ff" stroke-width="0.9"/><rect x="189.46" y="141.66" width="5.88" height="5.88" fill="#0000ff" stroke="#0000a0" stroke-width="1.30"/><path d="M211.5 161.7V167.7M209.3 161.7H213.7M209.3 167.7H213.7" stroke="#2a2aff" stroke-width="0.9"/><path d="M211.50 161.56L214.65 167.26L208.35 167.26Z" fill="#0000ee" stroke="#000080" stroke-width="0.70"/><path d="M206.3 148.0V160.2M204.1 148.0H208.5M204.1 160.2H208.5" stroke="#209020" stroke-width="0.9"/><rect x="203.36" y="150.96" width="5.88" height="5.88" fill="#008000" stroke="#000000" stroke-width="1.30"/><path d="M207.4 158.7V172.5M205.2 158.7H209.6M205.2 172.5H209.6" stroke="#a030a0" stroke-width="0.9"/><path d="M207.40 162.67L210.55 168.37L204.25 168.37Z" fill="#800080" stroke="#600060" stroke-width="0.70"/><path d="M202.0 153.4V160.7M199.8 153.4H204.2M199.8 160.7H204.2" stroke="#ff3030" stroke-width="0.9"/><rect x="199.06" y="154.36" width="5.88" height="5.88" fill="#ff0000" stroke="#000000" stroke-width="1.30"/><path d="M189.6 161.0V171.4M187.4 161.0H191.8M187.4 171.4H191.8" stroke="#8888a8" stroke-width="0.9"/><circle cx="189.60" cy="165.70" r="2.64" fill="#808080" stroke="#505050" stroke-width="0.70"/><path d="M200.2 147.3V162.5M198.0 147.3H202.4M198.0 162.5H202.4" stroke="#a030a0" stroke-width="0.9"/><circle cx="200.20" cy="155.30" r="2.64" fill="#800080" stroke="#600060" stroke-width="0.70"/><path d="M199.2 164.3V169.3M197.0 164.3H201.4M197.0 169.3H201.4" stroke="#3030ff" stroke-width="0.9"/><path d="M199.20 163.87L202.35 169.56L196.05 169.56Z" fill="#0000ff" stroke="#0000a0" stroke-width="0.70"/><path d="M188.6 148.5V163.5M186.4 148.5H190.8M186.4 163.5H190.8" stroke="#3030ff" stroke-width="0.9"/><rect x="185.66" y="153.16" width="5.88" height="5.88" fill="#0000ff" stroke="#0000a0" stroke-width="1.30"/><path d="M211.0 146.5V161.1M208.8 146.5H213.2M208.8 161.1H213.2" stroke="#a02828" stroke-width="0.9"/><rect x="208.06" y="151.26" width="5.88" height="5.88" fill="#800000" stroke="#000000" stroke-width="1.30"/><path d="M202.9 153.8V159.8M200.7 153.8H205.1M200.7 159.8H205.1" stroke="#8888a8" stroke-width="0.9"/><circle cx="202.90" cy="157.10" r="2.64" fill="#808080" stroke="#505050" stroke-width="0.70"/><path d="M192.6 158.3V163.1M190.4 158.3H194.8M190.4 163.1H194.8" stroke="#ff3030" stroke-width="0.9"/><rect x="189.66" y="157.96" width="5.88" height="5.88" fill="#ff0000" stroke="#000000" stroke-width="1.30"/><path d="M205.3 142.7V156.6M203.1 142.7H207.5M203.1 156.6H207.5" stroke="#ff3030" stroke-width="0.9"/><rect x="202.36" y="146.66" width="5.88" height="5.88" fill="#ff0000" stroke="#000000" stroke-width="1.30"/><path d="M186.9 142.8V154.0M184.7 142.8H189.1M184.7 154.0H189.1" stroke="#3030ff" stroke-width="0.9"/><rect x="183.96" y="145.86" width="5.88" height="5.88" fill="#0000ff" stroke="#0000a0" stroke-width="1.30"/><path d="M189.9 156.2V165.5M187.7 156.2H192.1M187.7 165.5H192.1" stroke="#3434c8" stroke-width="0.9"/><path d="M189.90 163.53L193.05 157.84L186.75 157.84Z" fill="#000080" stroke="#000040" stroke-width="0.70"/><path d="M194.4 150.1V165.6M192.2 150.1H196.6M192.2 165.6H196.6" stroke="#209020" stroke-width="0.9"/><rect x="191.46" y="154.46" width="5.88" height="5.88" fill="#008000" stroke="#000000" stroke-width="1.30"/><path d="M195.9 151.4V157.2M193.7 151.4H198.1M193.7 157.2H198.1" stroke="#ff3030" stroke-width="0.9"/><rect x="192.96" y="150.96" width="5.88" height="5.88" fill="#ff0000" stroke="#000000" stroke-width="1.30"/><path d="M197.7 157.8V167.2M195.5 157.8H199.9M195.5 167.2H199.9" stroke="#3030ff" stroke-width="0.9"/><path d="M197.70 159.67L200.85 165.37L194.55 165.37Z" fill="#0000ff" stroke="#0000a0" stroke-width="0.70"/><path d="M185.4 156.9V163.1M183.2 156.9H187.6M183.2 163.1H187.6" stroke="#3030ff" stroke-width="0.9"/><path d="M185.40 156.77L188.55 162.47L182.25 162.47Z" fill="#0000ff" stroke="#0000a0" stroke-width="0.70"/><path d="M196.1 148.8V160.4M193.9 148.8H198.3M193.9 160.4H198.3" stroke="#3434c8" stroke-width="0.9"/><path d="M196.10 157.33L199.25 151.63L192.95 151.63Z" fill="#000080" stroke="#000040" stroke-width="0.70"/><path d="M188.3 156.7V163.1M186.1 156.7H190.5M186.1 163.1H190.5" stroke="#9090a8" stroke-width="0.9"/><path d="M188.30 163.44L191.45 157.74L185.15 157.74Z" fill="#808080" stroke="#606060" stroke-width="0.70"/><path d="M213.3 158.9V173.9M211.1 158.9H215.5M211.1 173.9H215.5" stroke="#2a2aff" stroke-width="0.9"/><path d="M213.30 163.37L216.45 169.06L210.15 169.06Z" fill="#0000ee" stroke="#000080" stroke-width="0.70"/><path d="M212.1 156.2V169.3M209.9 156.2H214.3M209.9 169.3H214.3" stroke="#a030a0" stroke-width="0.9"/><path d="M212.10 159.87L215.25 165.56L208.95 165.56Z" fill="#800080" stroke="#600060" stroke-width="0.70"/><path d="M225.1 172.7V179.9M222.9 172.7H227.3M222.9 179.9H227.3" stroke="#ff3030" stroke-width="0.9"/><rect x="222.16" y="173.46" width="5.88" height="5.88" fill="#ff0000" stroke="#000000" stroke-width="1.30"/><path d="M227.9 150.9V164.7M225.7 150.9H230.1M225.7 164.7H230.1" stroke="#ff3030" stroke-width="0.9"/><rect x="224.96" y="154.46" width="5.88" height="5.88" fill="#ff0000" stroke="#000000" stroke-width="1.30"/><path d="M216.0 161.9V175.3M213.8 161.9H218.2M213.8 175.3H218.2" stroke="#2a2aff" stroke-width="0.9"/><path d="M216.00 165.87L219.15 171.56L212.85 171.56Z" fill="#0000ee" stroke="#000080" stroke-width="0.70"/><path d="M230.0 162.4V172.2M227.8 162.4H232.2M227.8 172.2H232.2" stroke="#3434c8" stroke-width="0.9"/><path d="M230.00 170.33L233.15 164.63L226.85 164.63Z" fill="#000080" stroke="#000040" stroke-width="0.70"/><path d="M225.6 165.0V170.5M223.4 165.0H227.8M223.4 170.5H227.8" stroke="#3434c8" stroke-width="0.9"/><path d="M225.60 164.54L228.66 167.60L225.60 170.66L222.54 167.60Z" fill="#000080" stroke="#000060" stroke-width="0.70"/><path d="M227.2 156.4V165.8M225.0 156.4H229.4M225.0 165.8H229.4" stroke="#a02828" stroke-width="0.9"/><rect x="224.26" y="158.46" width="5.88" height="5.88" fill="#800000" stroke="#000000" stroke-width="1.30"/><path d="M226.8 148.0V153.9M224.6 148.0H229.0M224.6 153.9H229.0" stroke="#3434c8" stroke-width="0.9"/><path d="M226.80 147.94L229.86 151.00L226.80 154.06L223.74 151.00Z" fill="#000080" stroke="#000060" stroke-width="0.70"/><path d="M227.8 148.9V162.5M225.6 148.9H230.0M225.6 162.5H230.0" stroke="#2a2aff" stroke-width="0.9"/><path d="M227.80 152.27L230.95 157.97L224.65 157.97Z" fill="#0000ee" stroke="#000080" stroke-width="0.70"/><path d="M227.8 146.4V161.1M225.6 146.4H230.0M225.6 161.1H230.0" stroke="#8888a8" stroke-width="0.9"/><circle cx="227.80" cy="154.10" r="2.64" fill="#808080" stroke="#505050" stroke-width="0.70"/><path d="M236.4 175.2V183.3M234.2 175.2H238.6M234.2 183.3H238.6" stroke="#a02828" stroke-width="0.9"/><rect x="233.46" y="175.86" width="5.88" height="5.88" fill="#800000" stroke="#000000" stroke-width="1.30"/><path d="M227.3 173.2V187.7M225.1 173.2H229.5M225.1 187.7H229.5" stroke="#a030a0" stroke-width="0.9"/><path d="M227.30 176.87L230.45 182.56L224.15 182.56Z" fill="#800080" stroke="#600060" stroke-width="0.70"/><path d="M216.6 156.6V171.0M214.4 156.6H218.8M214.4 171.0H218.8" stroke="#a030a0" stroke-width="0.9"/><path d="M216.60 160.87L219.75 166.56L213.45 166.56Z" fill="#800080" stroke="#600060" stroke-width="0.70"/><path d="M235.4 152.6V159.4M233.2 152.6H237.6M233.2 159.4H237.6" stroke="#3030ff" stroke-width="0.9"/><path d="M235.40 153.06L238.55 158.76L232.25 158.76Z" fill="#0000ff" stroke="#0000a0" stroke-width="0.70"/><path d="M227.7 151.5V159.2M225.5 151.5H229.9M225.5 159.2H229.9" stroke="#ff3030" stroke-width="0.9"/><rect x="224.76" y="151.96" width="5.88" height="5.88" fill="#ff0000" stroke="#000000" stroke-width="1.30"/><path d="M232.0 166.8V173.1M229.8 166.8H234.2M229.8 173.1H234.2" stroke="#a02828" stroke-width="0.9"/><rect x="229.06" y="166.96" width="5.88" height="5.88" fill="#800000" stroke="#000000" stroke-width="1.30"/><path d="M230.9 159.9V172.1M228.7 159.9H233.1M228.7 172.1H233.1" stroke="#3030ff" stroke-width="0.9"/><rect x="227.96" y="162.66" width="5.88" height="5.88" fill="#0000ff" stroke="#0000a0" stroke-width="1.30"/><path d="M217.6 170.6V183.9M215.4 170.6H219.8M215.4 183.9H219.8" stroke="#209020" stroke-width="0.9"/><rect x="214.66" y="174.56" width="5.88" height="5.88" fill="#008000" stroke="#000000" stroke-width="1.30"/><path d="M239.8 159.8V169.0M237.6 159.8H242.0M237.6 169.0H242.0" stroke="#a02828" stroke-width="0.9"/><rect x="236.86" y="161.76" width="5.88" height="5.88" fill="#800000" stroke="#000000" stroke-width="1.30"/><path d="M233.6 151.7V164.7M231.4 151.7H235.8M231.4 164.7H235.8" stroke="#3434c8" stroke-width="0.9"/><path d="M233.60 160.83L236.75 155.13L230.45 155.13Z" fill="#000080" stroke="#000040" stroke-width="0.70"/><path d="M229.6 163.4V168.1M227.4 163.4H231.8M227.4 168.1H231.8" stroke="#2a2aff" stroke-width="0.9"/><path d="M229.60 162.97L232.75 168.66L226.45 168.66Z" fill="#0000ee" stroke="#000080" stroke-width="0.70"/><path d="M230.4 159.9V165.8M228.2 159.9H232.6M228.2 165.8H232.6" stroke="#3030ff" stroke-width="0.9"/><path d="M230.40 159.97L233.55 165.66L227.25 165.66Z" fill="#0000ff" stroke="#0000a0" stroke-width="0.70"/><path d="M231.3 144.5V150.4M229.1 144.5H233.5M229.1 150.4H233.5" stroke="#8888a8" stroke-width="0.9"/><circle cx="231.30" cy="147.60" r="2.64" fill="#808080" stroke="#505050" stroke-width="0.70"/><path d="M220.6 161.6V173.4M218.4 161.6H222.8M218.4 173.4H222.8" stroke="#ff3030" stroke-width="0.9"/><rect x="217.66" y="164.56" width="5.88" height="5.88" fill="#ff0000" stroke="#000000" stroke-width="1.30"/><path d="M218.4 168.7V175.0M216.2 168.7H220.6M216.2 175.0H220.6" stroke="#a030a0" stroke-width="0.9"/><path d="M218.40 168.56L221.55 174.26L215.25 174.26Z" fill="#800080" stroke="#600060" stroke-width="0.70"/><path d="M236.8 167.3V172.8M234.6 167.3H239.0M234.6 172.8H239.0" stroke="#3434c8" stroke-width="0.9"/><path d="M236.80 173.03L239.95 167.34L233.65 167.34Z" fill="#000080" stroke="#000040" stroke-width="0.70"/><path d="M229.1 155.0V170.8M226.9 155.0H231.3M226.9 170.8H231.3" stroke="#3434c8" stroke-width="0.9"/><path d="M229.10 159.64L232.16 162.70L229.10 165.76L226.04 162.70Z" fill="#000080" stroke="#000060" stroke-width="0.70"/><path d="M221.2 163.9V172.8M219.0 163.9H223.4M219.0 172.8H223.4" stroke="#3030ff" stroke-width="0.9"/><rect x="218.26" y="165.66" width="5.88" height="5.88" fill="#0000ff" stroke="#0000a0" stroke-width="1.30"/><path d="M216.5 157.6V172.3M214.3 157.6H218.7M214.3 172.3H218.7" stroke="#3030ff" stroke-width="0.9"/><rect x="213.56" y="162.36" width="5.88" height="5.88" fill="#0000ff" stroke="#0000a0" stroke-width="1.30"/><path d="M246.0 171.3V184.6M243.8 171.3H248.2M243.8 184.6H248.2" stroke="#f03838" stroke-width="0.9"/><rect x="243.06" y="175.36" width="5.88" height="5.88" fill="#ff0000" stroke="#a00000" stroke-width="1.30"/><path d="M249.3 155.7V169.7M247.1 155.7H251.5M247.1 169.7H251.5" stroke="#9090a8" stroke-width="0.9"/><path d="M249.30 165.63L252.45 159.94L246.15 159.94Z" fill="#808080" stroke="#606060" stroke-width="0.70"/><path d="M240.2 182.1V195.2M238.0 182.1H242.4M238.0 195.2H242.4" stroke="#3030ff" stroke-width="0.9"/><rect x="237.26" y="185.76" width="5.88" height="5.88" fill="#0000ff" stroke="#0000a0" stroke-width="1.30"/><path d="M246.8 155.2V164.3M244.6 155.2H249.0M244.6 164.3H249.0" stroke="#2a2aff" stroke-width="0.9"/><path d="M246.80 156.37L249.95 162.06L243.65 162.06Z" fill="#0000ee" stroke="#000080" stroke-width="0.70"/><path d="M260.9 182.7V193.6M258.7 182.7H263.1M258.7 193.6H263.1" stroke="#3434c8" stroke-width="0.9"/><path d="M260.90 191.33L264.05 185.63L257.75 185.63Z" fill="#000080" stroke="#000040" stroke-width="0.70"/><path d="M263.7 164.4V179.4M261.5 164.4H265.9M261.5 179.4H265.9" stroke="#f03838" stroke-width="0.9"/><rect x="260.76" y="169.26" width="5.88" height="5.88" fill="#ff0000" stroke="#a00000" stroke-width="1.30"/><path d="M266.4 150.7V164.8M264.2 150.7H268.6M264.2 164.8H268.6" stroke="#3434c8" stroke-width="0.9"/><path d="M266.40 160.44L269.55 154.74L263.25 154.74Z" fill="#000080" stroke="#000040" stroke-width="0.70"/><path d="M262.4 171.7V180.1M260.2 171.7H264.6M260.2 180.1H264.6" stroke="#3434c8" stroke-width="0.9"/><path d="M262.40 172.44L265.46 175.50L262.40 178.56L259.34 175.50Z" fill="#000080" stroke="#000060" stroke-width="0.70"/><path d="M258.9 178.0V188.9M256.7 178.0H261.1M256.7 188.9H261.1" stroke="#a030a0" stroke-width="0.9"/><path d="M258.90 179.97L262.05 185.66L255.75 185.66Z" fill="#800080" stroke="#600060" stroke-width="0.70"/><path d="M260.9 179.0V189.9M258.7 179.0H263.1M258.7 189.9H263.1" stroke="#a02828" stroke-width="0.9"/><rect x="257.96" y="181.66" width="5.88" height="5.88" fill="#800000" stroke="#000000" stroke-width="1.30"/><path d="M246.4 169.1V174.7M244.2 169.1H248.6M244.2 174.7H248.6" stroke="#9090a8" stroke-width="0.9"/><path d="M246.40 175.53L249.55 169.84L243.25 169.84Z" fill="#808080" stroke="#606060" stroke-width="0.70"/><path d="M243.2 182.6V187.0M241.0 182.6H245.4M241.0 187.0H245.4" stroke="#ff3030" stroke-width="0.9"/><rect x="240.26" y="182.36" width="5.88" height="5.88" fill="#ff0000" stroke="#000000" stroke-width="1.30"/><path d="M260.8 178.9V184.8M258.6 178.9H263.0M258.6 184.8H263.0" stroke="#a02828" stroke-width="0.9"/><rect x="257.86" y="178.86" width="5.88" height="5.88" fill="#800000" stroke="#000000" stroke-width="1.30"/><path d="M250.9 186.1V192.6M248.7 186.1H253.1M248.7 192.6H253.1" stroke="#9090a8" stroke-width="0.9"/><path d="M250.90 192.13L254.05 186.44L247.75 186.44Z" fill="#808080" stroke="#606060" stroke-width="0.70"/><path d="M267.4 179.2V184.5M265.2 179.2H269.6M265.2 184.5H269.6" stroke="#3434c8" stroke-width="0.9"/><path d="M267.40 185.44L270.55 179.74L264.25 179.74Z" fill="#000080" stroke="#000040" stroke-width="0.70"/><path d="M265.4 180.1V191.6M263.2 180.1H267.6M263.2 191.6H267.6" stroke="#3030ff" stroke-width="0.9"/><path d="M265.40 182.97L268.55 188.66L262.25 188.66Z" fill="#0000ff" stroke="#0000a0" stroke-width="0.70"/><path d="M243.0 162.7V171.1M240.8 162.7H245.2M240.8 171.1H245.2" stroke="#3434c8" stroke-width="0.9"/><path d="M243.00 170.13L246.15 164.44L239.85 164.44Z" fill="#000080" stroke="#000040" stroke-width="0.70"/><path d="M240.6 160.2V168.9M238.4 160.2H242.8M238.4 168.9H242.8" stroke="#a02828" stroke-width="0.9"/><rect x="237.66" y="161.76" width="5.88" height="5.88" fill="#800000" stroke="#000000" stroke-width="1.30"/><path d="M268.9 177.6V182.8M266.7 177.6H271.1M266.7 182.8H271.1" stroke="#a030a0" stroke-width="0.9"/><circle cx="268.90" cy="180.30" r="2.64" fill="#800080" stroke="#600060" stroke-width="0.70"/><path d="M253.1 175.3V185.7M250.9 175.3H255.3M250.9 185.7H255.3" stroke="#a02828" stroke-width="0.9"/><rect x="250.16" y="177.86" width="5.88" height="5.88" fill="#800000" stroke="#000000" stroke-width="1.30"/><path d="M265.9 165.2V169.6M263.7 165.2H268.1M263.7 169.6H268.1" stroke="#ff3030" stroke-width="0.9"/><rect x="262.96" y="164.76" width="5.88" height="5.88" fill="#ff0000" stroke="#000000" stroke-width="1.30"/><path d="M262.9 176.5V187.5M260.7 176.5H265.1M260.7 187.5H265.1" stroke="#3030ff" stroke-width="0.9"/><rect x="259.96" y="178.76" width="5.88" height="5.88" fill="#0000ff" stroke="#0000a0" stroke-width="1.30"/><path d="M245.5 168.7V177.4M243.3 168.7H247.7M243.3 177.4H247.7" stroke="#3030ff" stroke-width="0.9"/><path d="M245.50 169.47L248.65 175.16L242.35 175.16Z" fill="#0000ff" stroke="#0000a0" stroke-width="0.70"/><path d="M248.5 166.5V173.0M246.3 166.5H250.7M246.3 173.0H250.7" stroke="#3030ff" stroke-width="0.9"/><rect x="245.56" y="166.66" width="5.88" height="5.88" fill="#0000ff" stroke="#0000a0" stroke-width="1.30"/><path d="M242.4 180.3V192.0M240.2 180.3H244.6M240.2 192.0H244.6" stroke="#3030ff" stroke-width="0.9"/><path d="M242.40 183.17L245.55 188.87L239.25 188.87Z" fill="#0000ff" stroke="#0000a0" stroke-width="0.70"/><path d="M252.0 170.2V184.0M249.8 170.2H254.2M249.8 184.0H254.2" stroke="#2a2aff" stroke-width="0.9"/><path d="M252.00 174.47L255.15 180.16L248.85 180.16Z" fill="#0000ee" stroke="#000080" stroke-width="0.70"/><path d="M246.2 169.3V179.3M244.0 169.3H248.4M244.0 179.3H248.4" stroke="#3030ff" stroke-width="0.9"/><rect x="243.26" y="170.96" width="5.88" height="5.88" fill="#0000ff" stroke="#0000a0" stroke-width="1.30"/><path d="M247.0 167.7V181.2M244.8 167.7H249.2M244.8 181.2H249.2" stroke="#a02828" stroke-width="0.9"/><rect x="244.06" y="171.36" width="5.88" height="5.88" fill="#800000" stroke="#000000" stroke-width="1.30"/><path d="M250.5 158.8V171.5M248.3 158.8H252.7M248.3 171.5H252.7" stroke="#3030ff" stroke-width="0.9"/><path d="M250.50 161.77L253.65 167.47L247.35 167.47Z" fill="#0000ff" stroke="#0000a0" stroke-width="0.70"/><path d="M245.1 174.0V180.3M242.9 174.0H247.3M242.9 180.3H247.3" stroke="#a030a0" stroke-width="0.9"/><circle cx="245.10" cy="177.20" r="2.64" fill="#800080" stroke="#600060" stroke-width="0.70"/><path d="M266.6 156.4V169.9M264.4 156.4H268.8M264.4 169.9H268.8" stroke="#8888a8" stroke-width="0.9"/><circle cx="266.60" cy="162.80" r="2.64" fill="#808080" stroke="#505050" stroke-width="0.70"/><path d="M244.6 155.8V165.9M242.4 155.8H246.8M242.4 165.9H246.8" stroke="#3434c8" stroke-width="0.9"/><path d="M244.60 158.14L247.66 161.20L244.60 164.26L241.54 161.20Z" fill="#000080" stroke="#000060" stroke-width="0.70"/><path d="M249.8 169.8V176.9M247.6 169.8H252.0M247.6 176.9H252.0" stroke="#a02828" stroke-width="0.9"/><rect x="246.86" y="169.96" width="5.88" height="5.88" fill="#800000" stroke="#000000" stroke-width="1.30"/><path d="M243.0 172.2V185.1M240.8 172.2H245.2M240.8 185.1H245.2" stroke="#3030ff" stroke-width="0.9"/><path d="M243.00 175.56L246.15 181.26L239.85 181.26Z" fill="#0000ff" stroke="#0000a0" stroke-width="0.70"/><path d="M275.9 177.1V185.4M273.7 177.1H278.1M273.7 185.4H278.1" stroke="#3434c8" stroke-width="0.9"/><path d="M275.90 184.83L279.05 179.13L272.75 179.13Z" fill="#000080" stroke="#000040" stroke-width="0.70"/><path d="M282.0 185.8V197.7M279.8 185.8H284.2M279.8 197.7H284.2" stroke="#3030ff" stroke-width="0.9"/><rect x="279.06" y="188.86" width="5.88" height="5.88" fill="#0000ff" stroke="#0000a0" stroke-width="1.30"/><path d="M274.3 176.8V191.7M272.1 176.8H276.5M272.1 191.7H276.5" stroke="#a02828" stroke-width="0.9"/><rect x="271.36" y="181.36" width="5.88" height="5.88" fill="#800000" stroke="#000000" stroke-width="1.30"/><path d="M287.2 181.3V195.0M285.0 181.3H289.4M285.0 195.0H289.4" stroke="#3434c8" stroke-width="0.9"/><path d="M287.20 190.94L290.35 185.24L284.05 185.24Z" fill="#000080" stroke="#000040" stroke-width="0.70"/><path d="M293.2 185.5V197.4M291.0 185.5H295.4M291.0 197.4H295.4" stroke="#f03838" stroke-width="0.9"/><rect x="290.26" y="188.56" width="5.88" height="5.88" fill="#ff0000" stroke="#a00000" stroke-width="1.30"/><path d="M279.4 174.6V188.6M277.2 174.6H281.6M277.2 188.6H281.6" stroke="#3030ff" stroke-width="0.9"/><rect x="276.46" y="178.46" width="5.88" height="5.88" fill="#0000ff" stroke="#0000a0" stroke-width="1.30"/><path d="M288.9 170.6V182.2M286.7 170.6H291.1M286.7 182.2H291.1" stroke="#3030ff" stroke-width="0.9"/><rect x="285.96" y="173.56" width="5.88" height="5.88" fill="#0000ff" stroke="#0000a0" stroke-width="1.30"/><path d="M290.3 182.4V195.8M288.1 182.4H292.5M288.1 195.8H292.5" stroke="#f03838" stroke-width="0.9"/><rect x="287.36" y="186.26" width="5.88" height="5.88" fill="#ff0000" stroke="#a00000" stroke-width="1.30"/><path d="M284.7 185.1V192.4M282.5 185.1H286.9M282.5 192.4H286.9" stroke="#3030ff" stroke-width="0.9"/><rect x="281.76" y="185.56" width="5.88" height="5.88" fill="#0000ff" stroke="#0000a0" stroke-width="1.30"/><path d="M298.2 173.4V184.8M296.0 173.4H300.4M296.0 184.8H300.4" stroke="#a030a0" stroke-width="0.9"/><circle cx="298.20" cy="178.90" r="2.64" fill="#800080" stroke="#600060" stroke-width="0.70"/><path d="M285.4 185.1V195.6M283.2 185.1H287.6M283.2 195.6H287.6" stroke="#3030ff" stroke-width="0.9"/><rect x="282.46" y="186.96" width="5.88" height="5.88" fill="#0000ff" stroke="#0000a0" stroke-width="1.30"/><path d="M276.3 182.8V190.1M274.1 182.8H278.5M274.1 190.1H278.5" stroke="#3030ff" stroke-width="0.9"/><path d="M276.30 182.87L279.45 188.56L273.15 188.56Z" fill="#0000ff" stroke="#0000a0" stroke-width="0.70"/><path d="M280.7 167.8V172.8M278.5 167.8H282.9M278.5 172.8H282.9" stroke="#3434c8" stroke-width="0.9"/><path d="M280.70 167.34L283.76 170.40L280.70 173.46L277.64 170.40Z" fill="#000080" stroke="#000060" stroke-width="0.70"/><path d="M282.6 182.1V190.0M280.4 182.1H284.8M280.4 190.0H284.8" stroke="#3434c8" stroke-width="0.9"/><path d="M282.60 188.94L285.75 183.24L279.45 183.24Z" fill="#000080" stroke="#000040" stroke-width="0.70"/><path d="M298.2 175.7V184.5M296.0 175.7H300.4M296.0 184.5H300.4" stroke="#3030ff" stroke-width="0.9"/><path d="M298.20 177.27L301.35 182.97L295.05 182.97Z" fill="#0000ff" stroke="#0000a0" stroke-width="0.70"/><path d="M273.9 187.7V198.0M271.7 187.7H276.1M271.7 198.0H276.1" stroke="#f03838" stroke-width="0.9"/><rect x="270.96" y="189.86" width="5.88" height="5.88" fill="#ff0000" stroke="#a00000" stroke-width="1.30"/><path d="M276.8 184.8V199.4M274.6 184.8H279.0M274.6 199.4H279.0" stroke="#f03838" stroke-width="0.9"/><rect x="273.86" y="188.86" width="5.88" height="5.88" fill="#ff0000" stroke="#a00000" stroke-width="1.30"/><path d="M284.0 171.8V185.7M281.8 171.8H286.2M281.8 185.7H286.2" stroke="#ff3030" stroke-width="0.9"/><rect x="281.06" y="175.96" width="5.88" height="5.88" fill="#ff0000" stroke="#000000" stroke-width="1.30"/><path d="M295.5 171.5V180.5M293.3 171.5H297.7M293.3 180.5H297.7" stroke="#3434c8" stroke-width="0.9"/><path d="M295.50 179.44L298.65 173.74L292.35 173.74Z" fill="#000080" stroke="#000040" stroke-width="0.70"/><path d="M270.1 181.3V189.6M267.9 181.3H272.3M267.9 189.6H272.3" stroke="#3434c8" stroke-width="0.9"/><path d="M270.10 188.63L273.25 182.94L266.95 182.94Z" fill="#000080" stroke="#000040" stroke-width="0.70"/><path d="M282.9 180.3V196.2M280.7 180.3H285.1M280.7 196.2H285.1" stroke="#3434c8" stroke-width="0.9"/><path d="M282.90 184.84L285.96 187.90L282.90 190.96L279.84 187.90Z" fill="#000080" stroke="#000060" stroke-width="0.70"/><path d="M271.7 191.7V198.9M269.5 191.7H273.9M269.5 198.9H273.9" stroke="#3030ff" stroke-width="0.9"/><path d="M271.70 191.87L274.85 197.56L268.55 197.56Z" fill="#0000ff" stroke="#0000a0" stroke-width="0.70"/><path d="M289.0 160.4V172.1M286.8 160.4H291.2M286.8 172.1H291.2" stroke="#a030a0" stroke-width="0.9"/><path d="M289.00 163.37L292.15 169.06L285.85 169.06Z" fill="#800080" stroke="#600060" stroke-width="0.70"/><path d="M273.0 167.5V175.6M270.8 167.5H275.2M270.8 175.6H275.2" stroke="#3030ff" stroke-width="0.9"/><path d="M273.00 168.77L276.15 174.47L269.85 174.47Z" fill="#0000ff" stroke="#0000a0" stroke-width="0.70"/><path d="M297.1 180.0V192.2M294.9 180.0H299.3M294.9 192.2H299.3" stroke="#9090a8" stroke-width="0.9"/><path d="M297.10 188.94L300.25 183.24L293.95 183.24Z" fill="#808080" stroke="#606060" stroke-width="0.70"/><path d="M290.1 191.6V199.2M287.9 191.6H292.3M287.9 199.2H292.3" stroke="#3030ff" stroke-width="0.9"/><path d="M290.10 192.06L293.25 197.76L286.95 197.76Z" fill="#0000ff" stroke="#0000a0" stroke-width="0.70"/><path d="M285.9 182.2V192.9M283.7 182.2H288.1M283.7 192.9H288.1" stroke="#9090a8" stroke-width="0.9"/><path d="M285.90 190.94L289.05 185.24L282.75 185.24Z" fill="#808080" stroke="#606060" stroke-width="0.70"/><path d="M277.0 169.6V179.1M274.8 169.6H279.2M274.8 179.1H279.2" stroke="#2a2aff" stroke-width="0.9"/><path d="M277.00 171.56L280.15 177.26L273.85 177.26Z" fill="#0000ee" stroke="#000080" stroke-width="0.70"/><path d="M284.7 180.9V186.6M282.5 180.9H286.9M282.5 186.6H286.9" stroke="#9090a8" stroke-width="0.9"/><path d="M284.70 186.53L287.85 180.84L281.55 180.84Z" fill="#808080" stroke="#606060" stroke-width="0.70"/><path d="M284.0 181.7V190.7M281.8 181.7H286.2M281.8 190.7H286.2" stroke="#3030ff" stroke-width="0.9"/><path d="M284.00 183.17L287.15 188.87L280.85 188.87Z" fill="#0000ff" stroke="#0000a0" stroke-width="0.70"/><path d="M328.8 172.7V178.3M326.6 172.7H331.0M326.6 178.3H331.0" stroke="#f03838" stroke-width="0.9"/><rect x="325.86" y="172.46" width="5.88" height="5.88" fill="#ff0000" stroke="#a00000" stroke-width="1.30"/><path d="M320.5 185.1V195.7M318.3 185.1H322.7M318.3 195.7H322.7" stroke="#a030a0" stroke-width="0.9"/><path d="M320.50 187.27L323.65 192.97L317.35 192.97Z" fill="#800080" stroke="#600060" stroke-width="0.70"/><path d="M326.9 171.0V180.5M324.7 171.0H329.1M324.7 180.5H329.1" stroke="#f03838" stroke-width="0.9"/><rect x="323.96" y="172.46" width="5.88" height="5.88" fill="#ff0000" stroke="#a00000" stroke-width="1.30"/><path d="M311.0 179.0V186.2M308.8 179.0H313.2M308.8 186.2H313.2" stroke="#3030ff" stroke-width="0.9"/><path d="M311.00 179.56L314.15 185.26L307.85 185.26Z" fill="#0000ff" stroke="#0000a0" stroke-width="0.70"/><path d="M312.7 180.5V194.5M310.5 180.5H314.9M310.5 194.5H314.9" stroke="#8888a8" stroke-width="0.9"/><circle cx="312.70" cy="187.60" r="2.64" fill="#808080" stroke="#505050" stroke-width="0.70"/><path d="M315.1 172.1V184.9M312.9 172.1H317.3M312.9 184.9H317.3" stroke="#a030a0" stroke-width="0.9"/><path d="M315.10 175.06L318.25 180.76L311.95 180.76Z" fill="#800080" stroke="#600060" stroke-width="0.70"/><path d="M309.9 171.0V183.6M307.7 171.0H312.1M307.7 183.6H312.1" stroke="#a030a0" stroke-width="0.9"/><circle cx="309.90" cy="177.00" r="2.64" fill="#800080" stroke="#600060" stroke-width="0.70"/><path d="M301.2 189.1V194.3M299.0 189.1H303.4M299.0 194.3H303.4" stroke="#3030ff" stroke-width="0.9"/><rect x="298.26" y="188.96" width="5.88" height="5.88" fill="#0000ff" stroke="#0000a0" stroke-width="1.30"/><path d="M300.2 174.8V187.6M298.0 174.8H302.4M298.0 187.6H302.4" stroke="#a030a0" stroke-width="0.9"/><circle cx="300.20" cy="180.90" r="2.64" fill="#800080" stroke="#600060" stroke-width="0.70"/><path d="M327.3 180.3V193.1M325.1 180.3H329.5M325.1 193.1H329.5" stroke="#f03838" stroke-width="0.9"/><rect x="324.36" y="183.66" width="5.88" height="5.88" fill="#ff0000" stroke="#a00000" stroke-width="1.30"/><path d="M320.4 171.9V184.5M318.2 171.9H322.6M318.2 184.5H322.6" stroke="#3030ff" stroke-width="0.9"/><rect x="317.46" y="175.66" width="5.88" height="5.88" fill="#0000ff" stroke="#0000a0" stroke-width="1.30"/><path d="M305.4 170.0V181.9M303.2 170.0H307.6M303.2 181.9H307.6" stroke="#9090a8" stroke-width="0.9"/><path d="M305.40 179.23L308.55 173.53L302.25 173.53Z" fill="#808080" stroke="#606060" stroke-width="0.70"/><path d="M324.7 185.6V193.8M322.5 185.6H326.9M322.5 193.8H326.9" stroke="#3434c8" stroke-width="0.9"/><path d="M324.70 192.94L327.85 187.24L321.55 187.24Z" fill="#000080" stroke="#000040" stroke-width="0.70"/><path d="M309.6 180.2V185.9M307.4 180.2H311.8M307.4 185.9H311.8" stroke="#a030a0" stroke-width="0.9"/><path d="M309.60 179.87L312.75 185.56L306.45 185.56Z" fill="#800080" stroke="#600060" stroke-width="0.70"/><path d="M301.2 170.6V185.6M299.0 170.6H303.4M299.0 185.6H303.4" stroke="#a030a0" stroke-width="0.9"/><circle cx="301.20" cy="178.20" r="2.64" fill="#800080" stroke="#600060" stroke-width="0.70"/><path d="M300.4 173.7V189.4M298.2 173.7H302.6M298.2 189.4H302.6" stroke="#a030a0" stroke-width="0.9"/><path d="M300.40 178.47L303.55 184.16L297.25 184.16Z" fill="#800080" stroke="#600060" stroke-width="0.70"/><path d="M312.4 172.8V178.5M310.2 172.8H314.6M310.2 178.5H314.6" stroke="#3434c8" stroke-width="0.9"/><path d="M312.40 179.23L315.55 173.53L309.25 173.53Z" fill="#000080" stroke="#000040" stroke-width="0.70"/><path d="M300.1 179.9V186.6M297.9 179.9H302.3M297.9 186.6H302.3" stroke="#a030a0" stroke-width="0.9"/><path d="M300.10 179.77L303.25 185.47L296.95 185.47Z" fill="#800080" stroke="#600060" stroke-width="0.70"/><path d="M303.9 168.6V181.0M301.7 168.6H306.1M301.7 181.0H306.1" stroke="#3434c8" stroke-width="0.9"/><path d="M303.90 178.23L307.05 172.53L300.75 172.53Z" fill="#000080" stroke="#000040" stroke-width="0.70"/><path d="M301.5 184.6V196.8M299.3 184.6H303.7M299.3 196.8H303.7" stroke="#3030ff" stroke-width="0.9"/><path d="M301.50 187.97L304.65 193.66L298.35 193.66Z" fill="#0000ff" stroke="#0000a0" stroke-width="0.70"/><path d="M318.9 183.1V191.8M316.7 183.1H321.1M316.7 191.8H321.1" stroke="#a030a0" stroke-width="0.9"/><path d="M318.90 183.87L322.05 189.56L315.75 189.56Z" fill="#800080" stroke="#600060" stroke-width="0.70"/><path d="M321.5 160.4V173.6M319.3 160.4H323.7M319.3 173.6H323.7" stroke="#f03838" stroke-width="0.9"/><rect x="318.56" y="164.46" width="5.88" height="5.88" fill="#ff0000" stroke="#a00000" stroke-width="1.30"/><path d="M309.3 179.1V188.6M307.1 179.1H311.5M307.1 188.6H311.5" stroke="#3030ff" stroke-width="0.9"/><path d="M309.30 181.17L312.45 186.87L306.15 186.87Z" fill="#0000ff" stroke="#0000a0" stroke-width="0.70"/><path d="M311.0 180.6V187.8M308.8 180.6H313.2M308.8 187.8H313.2" stroke="#f03838" stroke-width="0.9"/><rect x="308.06" y="180.96" width="5.88" height="5.88" fill="#ff0000" stroke="#a00000" stroke-width="1.30"/><path d="M310.9 182.9V192.7M308.7 182.9H313.1M308.7 192.7H313.1" stroke="#3030ff" stroke-width="0.9"/><rect x="307.96" y="184.56" width="5.88" height="5.88" fill="#0000ff" stroke="#0000a0" stroke-width="1.30"/><path d="M328.3 187.0V193.6M326.1 187.0H330.5M326.1 193.6H330.5" stroke="#8888a8" stroke-width="0.9"/><circle cx="328.30" cy="189.80" r="2.64" fill="#808080" stroke="#505050" stroke-width="0.70"/><path d="M342.7 173.3V189.7M340.5 173.3H344.9M340.5 189.7H344.9" stroke="#a030a0" stroke-width="0.9"/><circle cx="342.70" cy="181.20" r="2.64" fill="#800080" stroke="#600060" stroke-width="0.70"/><path d="M340.8 165.6V175.1M338.6 165.6H343.0M338.6 175.1H343.0" stroke="#9090a8" stroke-width="0.9"/><path d="M340.80 173.33L343.95 167.63L337.65 167.63Z" fill="#808080" stroke="#606060" stroke-width="0.70"/><path d="M340.8 185.8V190.3M338.6 185.8H343.0M338.6 190.3H343.0" stroke="#8888a8" stroke-width="0.9"/><circle cx="340.80" cy="188.30" r="2.64" fill="#808080" stroke="#505050" stroke-width="0.70"/><path d="M337.6 178.5V184.6M335.4 178.5H339.8M335.4 184.6H339.8" stroke="#9090a8" stroke-width="0.9"/><path d="M337.60 184.33L340.75 178.63L334.45 178.63Z" fill="#808080" stroke="#606060" stroke-width="0.70"/><path d="M344.6 177.7V192.7M342.4 177.7H346.8M342.4 192.7H346.8" stroke="#3434c8" stroke-width="0.9"/><path d="M344.60 188.03L347.75 182.34L341.45 182.34Z" fill="#000080" stroke="#000040" stroke-width="0.70"/><path d="M342.3 177.9V189.5M340.1 177.9H344.5M340.1 189.5H344.5" stroke="#2a2aff" stroke-width="0.9"/><path d="M342.30 180.27L345.45 185.97L339.15 185.97Z" fill="#0000ee" stroke="#000080" stroke-width="0.70"/><path d="M333.6 180.6V192.6M331.4 180.6H335.8M331.4 192.6H335.8" stroke="#3434c8" stroke-width="0.9"/><path d="M333.60 189.53L336.75 183.84L330.45 183.84Z" fill="#000080" stroke="#000040" stroke-width="0.70"/><path d="M338.4 158.9V172.6M336.2 158.9H340.6M336.2 172.6H340.6" stroke="#a02828" stroke-width="0.9"/><rect x="335.46" y="162.86" width="5.88" height="5.88" fill="#800000" stroke="#000000" stroke-width="1.30"/><path d="M331.6 180.1V192.3M329.4 180.1H333.8M329.4 192.3H333.8" stroke="#3434c8" stroke-width="0.9"/><path d="M331.60 188.94L334.75 183.24L328.45 183.24Z" fill="#000080" stroke="#000040" stroke-width="0.70"/><path d="M345.9 172.2V178.6M343.7 172.2H348.1M343.7 178.6H348.1" stroke="#a030a0" stroke-width="0.9"/><circle cx="345.90" cy="175.70" r="2.64" fill="#800080" stroke="#600060" stroke-width="0.70"/><path d="M333.3 173.9V183.3M331.1 173.9H335.5M331.1 183.3H335.5" stroke="#a030a0" stroke-width="0.9"/><circle cx="333.30" cy="178.60" r="2.64" fill="#800080" stroke="#600060" stroke-width="0.70"/><path d="M332.7 167.6V174.0M330.5 167.6H334.9M330.5 174.0H334.9" stroke="#3434c8" stroke-width="0.9"/><path d="M332.70 167.64L335.76 170.70L332.70 173.76L329.64 170.70Z" fill="#000080" stroke="#000060" stroke-width="0.70"/><path d="M344.2 163.2V173.0M342.0 163.2H346.4M342.0 173.0H346.4" stroke="#3434c8" stroke-width="0.9"/><path d="M344.20 165.54L347.26 168.60L344.20 171.66L341.14 168.60Z" fill="#000080" stroke="#000060" stroke-width="0.70"/><path d="M330.6 185.6V196.3M328.4 185.6H332.8M328.4 196.3H332.8" stroke="#3030ff" stroke-width="0.9"/><rect x="327.66" y="188.26" width="5.88" height="5.88" fill="#0000ff" stroke="#0000a0" stroke-width="1.30"/><path d="M344.0 172.0V186.9M341.8 172.0H346.2M341.8 186.9H346.2" stroke="#3030ff" stroke-width="0.9"/><path d="M344.00 175.87L347.15 181.56L340.85 181.56Z" fill="#0000ff" stroke="#0000a0" stroke-width="0.70"/><path d="M334.6 158.2V163.3M332.4 158.2H336.8M332.4 163.3H336.8" stroke="#3434c8" stroke-width="0.9"/><path d="M334.60 164.33L337.75 158.63L331.45 158.63Z" fill="#000080" stroke="#000040" stroke-width="0.70"/><path d="M357.5 159.2V173.3M355.3 159.2H359.7M355.3 173.3H359.7" stroke="#209020" stroke-width="0.9"/><rect x="354.56" y="163.76" width="5.88" height="5.88" fill="#008000" stroke="#000000" stroke-width="1.30"/><path d="M358.2 147.8V155.7M356.0 147.8H360.4M356.0 155.7H360.4" stroke="#209020" stroke-width="0.9"/><rect x="355.26" y="148.76" width="5.88" height="5.88" fill="#008000" stroke="#000000" stroke-width="1.30"/><path d="M358.9 166.1V175.4M356.7 166.1H361.1M356.7 175.4H361.1" stroke="#3434c8" stroke-width="0.9"/><path d="M358.90 168.04L361.96 171.10L358.90 174.16L355.84 171.10Z" fill="#000080" stroke="#000060" stroke-width="0.70"/><path d="M364.4 162.8V170.3M362.2 162.8H366.6M362.2 170.3H366.6" stroke="#2a2aff" stroke-width="0.9"/><path d="M364.40 163.56L367.55 169.26L361.25 169.26Z" fill="#0000ee" stroke="#000080" stroke-width="0.70"/><path d="M363.3 165.1V179.1M361.1 165.1H365.5M361.1 179.1H365.5" stroke="#2a2aff" stroke-width="0.9"/><path d="M363.30 168.77L366.45 174.47L360.15 174.47Z" fill="#0000ee" stroke="#000080" stroke-width="0.70"/><path d="M359.0 157.9V172.1M356.8 157.9H361.2M356.8 172.1H361.2" stroke="#ff3030" stroke-width="0.9"/><rect x="356.06" y="161.66" width="5.88" height="5.88" fill="#ff0000" stroke="#000000" stroke-width="1.30"/><path d="M359.5 151.8V157.6M357.3 151.8H361.7M357.3 157.6H361.7" stroke="#f03838" stroke-width="0.9"/><rect x="356.56" y="151.96" width="5.88" height="5.88" fill="#ff0000" stroke="#a00000" stroke-width="1.30"/><path d="M352.4 145.7V152.6M350.2 145.7H354.6M350.2 152.6H354.6" stroke="#ff3030" stroke-width="0.9"/><rect x="349.46" y="146.56" width="5.88" height="5.88" fill="#ff0000" stroke="#000000" stroke-width="1.30"/><path d="M359.5 147.0V153.3M357.3 147.0H361.7M357.3 153.3H361.7" stroke="#ff3030" stroke-width="0.9"/><rect x="356.56" y="146.76" width="5.88" height="5.88" fill="#ff0000" stroke="#000000" stroke-width="1.30"/><path d="M351.7 169.6V176.1M349.5 169.6H353.9M349.5 176.1H353.9" stroke="#3030ff" stroke-width="0.9"/><path d="M351.70 169.77L354.85 175.47L348.55 175.47Z" fill="#0000ff" stroke="#0000a0" stroke-width="0.70"/><path d="M349.6 167.5V177.2M347.4 167.5H351.8M347.4 177.2H351.8" stroke="#f03838" stroke-width="0.9"/><rect x="346.66" y="169.56" width="5.88" height="5.88" fill="#ff0000" stroke="#a00000" stroke-width="1.30"/><path d="M362.0 155.8V162.3M359.8 155.8H364.2M359.8 162.3H364.2" stroke="#ff3030" stroke-width="0.9"/><rect x="359.06" y="156.56" width="5.88" height="5.88" fill="#ff0000" stroke="#000000" stroke-width="1.30"/><path d="M360.1 151.6V159.4M357.9 151.6H362.3M357.9 159.4H362.3" stroke="#a02828" stroke-width="0.9"/><rect x="357.16" y="152.66" width="5.88" height="5.88" fill="#800000" stroke="#000000" stroke-width="1.30"/><path d="M350.6 153.7V160.5M348.4 153.7H352.8M348.4 160.5H352.8" stroke="#8888a8" stroke-width="0.9"/><circle cx="350.60" cy="157.10" r="2.64" fill="#808080" stroke="#505050" stroke-width="0.70"/><path d="M353.4 160.6V167.0M351.2 160.6H355.6M351.2 167.0H355.6" stroke="#a030a0" stroke-width="0.9"/><path d="M353.40 160.27L356.55 165.97L350.25 165.97Z" fill="#800080" stroke="#600060" stroke-width="0.70"/><path d="M359.4 147.6V154.8M357.2 147.6H361.6M357.2 154.8H361.6" stroke="#3434c8" stroke-width="0.9"/><path d="M359.40 154.63L362.55 148.94L356.25 148.94Z" fill="#000080" stroke="#000040" stroke-width="0.70"/><path d="M354.2 172.8V178.4M352.0 172.8H356.4M352.0 178.4H356.4" stroke="#209020" stroke-width="0.9"/><rect x="351.26" y="172.86" width="5.88" height="5.88" fill="#008000" stroke="#000000" stroke-width="1.30"/><path d="M363.2 142.9V157.7M361.0 142.9H365.4M361.0 157.7H365.4" stroke="#3434c8" stroke-width="0.9"/><path d="M363.20 153.94L366.35 148.24L360.05 148.24Z" fill="#000080" stroke="#000040" stroke-width="0.70"/><path d="M361.7 143.5V157.7M359.5 143.5H363.9M359.5 157.7H363.9" stroke="#2a2aff" stroke-width="0.9"/><path d="M361.70 147.47L364.85 153.16L358.55 153.16Z" fill="#0000ee" stroke="#000080" stroke-width="0.70"/><path d="M351.2 156.2V166.7M349.0 156.2H353.4M349.0 166.7H353.4" stroke="#ff3030" stroke-width="0.9"/><rect x="348.26" y="158.86" width="5.88" height="5.88" fill="#ff0000" stroke="#000000" stroke-width="1.30"/><path d="M351.1 164.4V169.4M348.9 164.4H353.3M348.9 169.4H353.3" stroke="#ff3030" stroke-width="0.9"/><rect x="348.16" y="164.36" width="5.88" height="5.88" fill="#ff0000" stroke="#000000" stroke-width="1.30"/><path d="M358.3 149.9V162.1M356.1 149.9H360.5M356.1 162.1H360.5" stroke="#ff3030" stroke-width="0.9"/><rect x="355.36" y="152.86" width="5.88" height="5.88" fill="#ff0000" stroke="#000000" stroke-width="1.30"/><path d="M361.8 150.5V163.3M359.6 150.5H364.0M359.6 163.3H364.0" stroke="#2a2aff" stroke-width="0.9"/><path d="M361.80 153.87L364.95 159.56L358.65 159.56Z" fill="#0000ee" stroke="#000080" stroke-width="0.70"/><path d="M360.3 144.6V159.6M358.1 144.6H362.5M358.1 159.6H362.5" stroke="#8888a8" stroke-width="0.9"/><circle cx="360.30" cy="151.70" r="2.64" fill="#808080" stroke="#505050" stroke-width="0.70"/><path d="M356.4 144.7V158.8M354.2 144.7H358.6M354.2 158.8H358.6" stroke="#3030ff" stroke-width="0.9"/><rect x="353.46" y="149.06" width="5.88" height="5.88" fill="#0000ff" stroke="#0000a0" stroke-width="1.30"/><path d="M351.2 160.2V169.4M349.0 160.2H353.4M349.0 169.4H353.4" stroke="#ff3030" stroke-width="0.9"/><rect x="348.26" y="161.76" width="5.88" height="5.88" fill="#ff0000" stroke="#000000" stroke-width="1.30"/><path d="M365.1 143.6V150.4M362.9 143.6H367.3M362.9 150.4H367.3" stroke="#a030a0" stroke-width="0.9"/><circle cx="365.10" cy="146.80" r="2.64" fill="#800080" stroke="#600060" stroke-width="0.70"/><path d="M389.5 150.1V159.8M387.3 150.1H391.7M387.3 159.8H391.7" stroke="#f03838" stroke-width="0.9"/><rect x="386.56" y="151.76" width="5.88" height="5.88" fill="#ff0000" stroke="#a00000" stroke-width="1.30"/><path d="M366.8 158.5V169.2M364.6 158.5H369.0M364.6 169.2H369.0" stroke="#a030a0" stroke-width="0.9"/><circle cx="366.80" cy="163.80" r="2.64" fill="#800080" stroke="#600060" stroke-width="0.70"/><path d="M381.1 136.6V142.8M378.9 136.6H383.3M378.9 142.8H383.3" stroke="#ff3030" stroke-width="0.9"/><rect x="378.16" y="137.16" width="5.88" height="5.88" fill="#ff0000" stroke="#000000" stroke-width="1.30"/><path d="M372.5 143.0V155.0M370.3 143.0H374.7M370.3 155.0H374.7" stroke="#ff3030" stroke-width="0.9"/><rect x="369.56" y="146.36" width="5.88" height="5.88" fill="#ff0000" stroke="#000000" stroke-width="1.30"/><path d="M365.5 144.5V156.5M363.3 144.5H367.7M363.3 156.5H367.7" stroke="#a030a0" stroke-width="0.9"/><circle cx="365.50" cy="150.90" r="2.64" fill="#800080" stroke="#600060" stroke-width="0.70"/><path d="M391.1 141.5V151.9M388.9 141.5H393.3M388.9 151.9H393.3" stroke="#ff3030" stroke-width="0.9"/><rect x="388.16" y="143.76" width="5.88" height="5.88" fill="#ff0000" stroke="#000000" stroke-width="1.30"/><path d="M373.4 129.3V141.6M371.2 129.3H375.6M371.2 141.6H375.6" stroke="#ff3030" stroke-width="0.9"/><rect x="370.46" y="132.16" width="5.88" height="5.88" fill="#ff0000" stroke="#000000" stroke-width="1.30"/><path d="M369.4 145.5V160.4M367.2 145.5H371.6M367.2 160.4H371.6" stroke="#ff3030" stroke-width="0.9"/><rect x="366.46" y="149.56" width="5.88" height="5.88" fill="#ff0000" stroke="#000000" stroke-width="1.30"/><path d="M376.7 144.8V155.1M374.5 144.8H378.9M374.5 155.1H378.9" stroke="#a030a0" stroke-width="0.9"/><circle cx="376.70" cy="149.50" r="2.64" fill="#800080" stroke="#600060" stroke-width="0.70"/><path d="M388.3 133.9V144.7M386.1 133.9H390.5M386.1 144.7H390.5" stroke="#8888a8" stroke-width="0.9"/><circle cx="388.30" cy="138.80" r="2.64" fill="#808080" stroke="#505050" stroke-width="0.70"/><path d="M389.1 160.2V165.8M386.9 160.2H391.3M386.9 165.8H391.3" stroke="#a02828" stroke-width="0.9"/><rect x="386.16" y="160.06" width="5.88" height="5.88" fill="#800000" stroke="#000000" stroke-width="1.30"/><path d="M393.7 149.7V161.4M391.5 149.7H395.9M391.5 161.4H395.9" stroke="#3030ff" stroke-width="0.9"/><rect x="390.76" y="152.76" width="5.88" height="5.88" fill="#0000ff" stroke="#0000a0" stroke-width="1.30"/><path d="M380.9 131.4V135.9M378.7 131.4H383.1M378.7 135.9H383.1" stroke="#a030a0" stroke-width="0.9"/><circle cx="380.90" cy="134.00" r="2.64" fill="#800080" stroke="#600060" stroke-width="0.70"/><path d="M394.1 153.9V168.6M391.9 153.9H396.3M391.9 168.6H396.3" stroke="#f03838" stroke-width="0.9"/><rect x="391.16" y="157.96" width="5.88" height="5.88" fill="#ff0000" stroke="#a00000" stroke-width="1.30"/><path d="M391.5 129.7V141.7M389.3 129.7H393.7M389.3 141.7H393.7" stroke="#ff3030" stroke-width="0.9"/><rect x="388.56" y="132.96" width="5.88" height="5.88" fill="#ff0000" stroke="#000000" stroke-width="1.30"/><path d="M381.3 155.2V165.8M379.1 155.2H383.5M379.1 165.8H383.5" stroke="#ff3030" stroke-width="0.9"/><rect x="378.36" y="157.66" width="5.88" height="5.88" fill="#ff0000" stroke="#000000" stroke-width="1.30"/><path d="M393.5 135.1V141.7M391.3 135.1H395.7M391.3 141.7H395.7" stroke="#f03838" stroke-width="0.9"/><rect x="390.56" y="135.36" width="5.88" height="5.88" fill="#ff0000" stroke="#a00000" stroke-width="1.30"/><path d="M393.7 138.7V148.8M391.5 138.7H395.9M391.5 148.8H395.9" stroke="#3030ff" stroke-width="0.9"/><rect x="390.76" y="141.16" width="5.88" height="5.88" fill="#0000ff" stroke="#0000a0" stroke-width="1.30"/><path d="M368.7 129.7V137.4M366.5 129.7H370.9M366.5 137.4H370.9" stroke="#3030ff" stroke-width="0.9"/><rect x="365.76" y="130.86" width="5.88" height="5.88" fill="#0000ff" stroke="#0000a0" stroke-width="1.30"/><path d="M367.6 147.5V159.0M365.4 147.5H369.8M365.4 159.0H369.8" stroke="#f03838" stroke-width="0.9"/><rect x="364.66" y="150.16" width="5.88" height="5.88" fill="#ff0000" stroke="#a00000" stroke-width="1.30"/><path d="M371.0 146.4V158.1M368.8 146.4H373.2M368.8 158.1H373.2" stroke="#a030a0" stroke-width="0.9"/><circle cx="371.00" cy="152.30" r="2.64" fill="#800080" stroke="#600060" stroke-width="0.70"/><path d="M374.3 131.3V140.7M372.1 131.3H376.5M372.1 140.7H376.5" stroke="#a030a0" stroke-width="0.9"/><circle cx="374.30" cy="135.90" r="2.64" fill="#800080" stroke="#600060" stroke-width="0.70"/><path d="M365.4 142.3V153.4M363.2 142.3H367.6M363.2 153.4H367.6" stroke="#ff3030" stroke-width="0.9"/><rect x="362.46" y="144.96" width="5.88" height="5.88" fill="#ff0000" stroke="#000000" stroke-width="1.30"/><path d="M373.5 154.4V160.3M371.3 154.4H375.7M371.3 160.3H375.7" stroke="#a02828" stroke-width="0.9"/><rect x="370.56" y="154.86" width="5.88" height="5.88" fill="#800000" stroke="#000000" stroke-width="1.30"/><path d="M391.1 134.3V144.6M388.9 134.3H393.3M388.9 144.6H393.3" stroke="#3434c8" stroke-width="0.9"/><path d="M391.10 136.14L394.16 139.20L391.10 142.26L388.04 139.20Z" fill="#000080" stroke="#000060" stroke-width="0.70"/><path d="M368.3 142.4V148.7M366.1 142.4H370.5M366.1 148.7H370.5" stroke="#f03838" stroke-width="0.9"/><rect x="365.36" y="142.76" width="5.88" height="5.88" fill="#ff0000" stroke="#a00000" stroke-width="1.30"/><path d="M375.6 146.5V160.6M373.4 146.5H377.8M373.4 160.6H377.8" stroke="#a02828" stroke-width="0.9"/><rect x="372.66" y="150.56" width="5.88" height="5.88" fill="#800000" stroke="#000000" stroke-width="1.30"/><path d="M387.2 150.6V164.6M385.0 150.6H389.4M385.0 164.6H389.4" stroke="#3030ff" stroke-width="0.9"/><rect x="384.26" y="154.46" width="5.88" height="5.88" fill="#0000ff" stroke="#0000a0" stroke-width="1.30"/><path d="M392.4 135.1V148.7M390.2 135.1H394.6M390.2 148.7H394.6" stroke="#2a2aff" stroke-width="0.9"/><path d="M392.40 138.67L395.55 144.37L389.25 144.37Z" fill="#0000ee" stroke="#000080" stroke-width="0.70"/><path d="M379.9 154.2V168.6M377.7 154.2H382.1M377.7 168.6H382.1" stroke="#3030ff" stroke-width="0.9"/><rect x="376.96" y="158.06" width="5.88" height="5.88" fill="#0000ff" stroke="#0000a0" stroke-width="1.30"/><path d="M383.2 136.5V149.1M381.0 136.5H385.4M381.0 149.1H385.4" stroke="#3030ff" stroke-width="0.9"/><rect x="380.26" y="140.06" width="5.88" height="5.88" fill="#0000ff" stroke="#0000a0" stroke-width="1.30"/><path d="M376.7 140.1V154.4M374.5 140.1H378.9M374.5 154.4H378.9" stroke="#8888a8" stroke-width="0.9"/><circle cx="376.70" cy="146.90" r="2.64" fill="#808080" stroke="#505050" stroke-width="0.70"/><path d="M380.0 137.7V144.4M377.8 137.7H382.2M377.8 144.4H382.2" stroke="#3434c8" stroke-width="0.9"/><path d="M380.00 144.13L383.15 138.44L376.85 138.44Z" fill="#000080" stroke="#000040" stroke-width="0.70"/><path d="M382.4 134.2V149.1M380.2 134.2H384.6M380.2 149.1H384.6" stroke="#8888a8" stroke-width="0.9"/><circle cx="382.40" cy="141.30" r="2.64" fill="#808080" stroke="#505050" stroke-width="0.70"/><path d="M393.8 135.1V139.4M391.6 135.1H396.0M391.6 139.4H396.0" stroke="#3030ff" stroke-width="0.9"/><path d="M393.80 134.56L396.95 140.26L390.65 140.26Z" fill="#0000ff" stroke="#0000a0" stroke-width="0.70"/><path d="M381.9 147.3V159.3M379.7 147.3H384.1M379.7 159.3H384.1" stroke="#a02828" stroke-width="0.9"/><rect x="378.96" y="149.86" width="5.88" height="5.88" fill="#800000" stroke="#000000" stroke-width="1.30"/><path d="M380.5 145.6V154.8M378.3 145.6H382.7M378.3 154.8H382.7" stroke="#3434c8" stroke-width="0.9"/><path d="M380.50 147.04L383.56 150.10L380.50 153.16L377.44 150.10Z" fill="#000080" stroke="#000060" stroke-width="0.70"/><path d="M375.5 159.0V164.8M373.3 159.0H377.7M373.3 164.8H377.7" stroke="#a030a0" stroke-width="0.9"/><circle cx="375.50" cy="162.00" r="2.64" fill="#800080" stroke="#600060" stroke-width="0.70"/><path d="M377.0 142.0V157.6M374.8 142.0H379.2M374.8 157.6H379.2" stroke="#a02828" stroke-width="0.9"/><rect x="374.06" y="146.86" width="5.88" height="5.88" fill="#800000" stroke="#000000" stroke-width="1.30"/><path d="M378.2 152.0V163.4M376.0 152.0H380.4M376.0 163.4H380.4" stroke="#8888a8" stroke-width="0.9"/><circle cx="378.20" cy="157.40" r="2.64" fill="#808080" stroke="#505050" stroke-width="0.70"/><path d="M370.1 143.3V153.1M367.9 143.3H372.3M367.9 153.1H372.3" stroke="#a02828" stroke-width="0.9"/><rect x="367.16" y="145.66" width="5.88" height="5.88" fill="#800000" stroke="#000000" stroke-width="1.30"/><path d="M391.8 149.4V164.0M389.6 149.4H394.0M389.6 164.0H394.0" stroke="#a030a0" stroke-width="0.9"/><path d="M391.80 153.67L394.95 159.37L388.65 159.37Z" fill="#800080" stroke="#600060" stroke-width="0.70"/><path d="M369.7 137.8V144.2M367.5 137.8H371.9M367.5 144.2H371.9" stroke="#a030a0" stroke-width="0.9"/><circle cx="369.70" cy="141.30" r="2.64" fill="#800080" stroke="#600060" stroke-width="0.70"/><path d="M383.9 141.8V152.9M381.7 141.8H386.1M381.7 152.9H386.1" stroke="#a030a0" stroke-width="0.9"/><path d="M383.90 144.67L387.05 150.37L380.75 150.37Z" fill="#800080" stroke="#600060" stroke-width="0.70"/><path d="M377.3 149.8V154.4M375.1 149.8H379.5M375.1 154.4H379.5" stroke="#f03838" stroke-width="0.9"/><rect x="374.36" y="149.36" width="5.88" height="5.88" fill="#ff0000" stroke="#a00000" stroke-width="1.30"/><path d="M390.3 146.6V157.1M388.1 146.6H392.5M388.1 157.1H392.5" stroke="#ff3030" stroke-width="0.9"/><rect x="387.36" y="148.86" width="5.88" height="5.88" fill="#ff0000" stroke="#000000" stroke-width="1.30"/><path d="M373.0 145.9V157.1M370.8 145.9H375.2M370.8 157.1H375.2" stroke="#a030a0" stroke-width="0.9"/><path d="M373.00 148.47L376.15 154.16L369.85 154.16Z" fill="#800080" stroke="#600060" stroke-width="0.70"/><path d="M398.0 149.1V154.6M395.8 149.1H400.2M395.8 154.6H400.2" stroke="#2a2aff" stroke-width="0.9"/><path d="M398.00 149.06L401.15 154.76L394.85 154.76Z" fill="#0000ee" stroke="#000080" stroke-width="0.70"/><path d="M408.1 162.8V167.5M405.9 162.8H410.3M405.9 167.5H410.3" stroke="#3030ff" stroke-width="0.9"/><path d="M408.10 162.47L411.25 168.16L404.95 168.16Z" fill="#0000ff" stroke="#0000a0" stroke-width="0.70"/><path d="M414.3 152.0V158.4M412.1 152.0H416.5M412.1 158.4H416.5" stroke="#3434c8" stroke-width="0.9"/><path d="M414.30 152.34L417.36 155.40L414.30 158.46L411.24 155.40Z" fill="#000080" stroke="#000060" stroke-width="0.70"/><path d="M397.5 162.1V171.8M395.3 162.1H399.7M395.3 171.8H399.7" stroke="#3434c8" stroke-width="0.9"/><path d="M397.50 164.04L400.56 167.10L397.50 170.16L394.44 167.10Z" fill="#000080" stroke="#000060" stroke-width="0.70"/><path d="M396.4 161.9V172.0M394.2 161.9H398.6M394.2 172.0H398.6" stroke="#a030a0" stroke-width="0.9"/><path d="M396.40 163.67L399.55 169.37L393.25 169.37Z" fill="#800080" stroke="#600060" stroke-width="0.70"/><path d="M401.2 147.3V156.5M399.0 147.3H403.4M399.0 156.5H403.4" stroke="#209020" stroke-width="0.9"/><rect x="398.26" y="148.56" width="5.88" height="5.88" fill="#008000" stroke="#000000" stroke-width="1.30"/><path d="M415.4 148.5V159.8M413.2 148.5H417.6M413.2 159.8H417.6" stroke="#a030a0" stroke-width="0.9"/><path d="M415.40 150.56L418.55 156.26L412.25 156.26Z" fill="#800080" stroke="#600060" stroke-width="0.70"/><path d="M401.1 152.8V162.0M398.9 152.8H403.3M398.9 162.0H403.3" stroke="#3434c8" stroke-width="0.9"/><path d="M401.10 160.13L404.25 154.44L397.95 154.44Z" fill="#000080" stroke="#000040" stroke-width="0.70"/><path d="M407.1 156.2V164.5M404.9 156.2H409.3M404.9 164.5H409.3" stroke="#ff3030" stroke-width="0.9"/><rect x="404.16" y="157.76" width="5.88" height="5.88" fill="#ff0000" stroke="#000000" stroke-width="1.30"/><path d="M419.3 147.6V158.2M417.1 147.6H421.5M417.1 158.2H421.5" stroke="#ff3030" stroke-width="0.9"/><rect x="416.36" y="150.06" width="5.88" height="5.88" fill="#ff0000" stroke="#000000" stroke-width="1.30"/><path d="M405.1 138.5V146.8M402.9 138.5H407.3M402.9 146.8H407.3" stroke="#209020" stroke-width="0.9"/><rect x="402.16" y="139.96" width="5.88" height="5.88" fill="#008000" stroke="#000000" stroke-width="1.30"/><path d="M399.8 142.9V154.9M397.6 142.9H402.0M397.6 154.9H402.0" stroke="#2a2aff" stroke-width="0.9"/><path d="M399.80 145.97L402.95 151.66L396.65 151.66Z" fill="#0000ee" stroke="#000080" stroke-width="0.70"/><path d="M398.9 149.9V163.3M396.7 149.9H401.1M396.7 163.3H401.1" stroke="#3434c8" stroke-width="0.9"/><path d="M398.90 160.13L402.05 154.44L395.75 154.44Z" fill="#000080" stroke="#000040" stroke-width="0.70"/><path d="M406.1 163.7V173.0M403.9 163.7H408.3M403.9 173.0H408.3" stroke="#ff3030" stroke-width="0.9"/><rect x="403.16" y="165.16" width="5.88" height="5.88" fill="#ff0000" stroke="#000000" stroke-width="1.30"/><path d="M404.4 158.8V168.8M402.2 158.8H406.6M402.2 168.8H406.6" stroke="#a030a0" stroke-width="0.9"/><path d="M404.40 160.97L407.55 166.66L401.25 166.66Z" fill="#800080" stroke="#600060" stroke-width="0.70"/><path d="M406.3 143.6V158.6M404.1 143.6H408.5M404.1 158.6H408.5" stroke="#3434c8" stroke-width="0.9"/><path d="M406.30 154.13L409.45 148.44L403.15 148.44Z" fill="#000080" stroke="#000040" stroke-width="0.70"/><path d="M404.2 145.2V159.0M402.0 145.2H406.4M402.0 159.0H406.4" stroke="#3434c8" stroke-width="0.9"/><path d="M404.20 155.63L407.35 149.94L401.05 149.94Z" fill="#000080" stroke="#000040" stroke-width="0.70"/><path d="M407.8 150.8V160.3M405.6 150.8H410.0M405.6 160.3H410.0" stroke="#3030ff" stroke-width="0.9"/><path d="M407.80 152.27L410.95 157.97L404.65 157.97Z" fill="#0000ff" stroke="#0000a0" stroke-width="0.70"/><path d="M409.2 148.0V155.7M407.0 148.0H411.4M407.0 155.7H411.4" stroke="#2a2aff" stroke-width="0.9"/><path d="M409.20 148.37L412.35 154.06L406.05 154.06Z" fill="#0000ee" stroke="#000080" stroke-width="0.70"/><path d="M403.0 151.8V160.8M400.8 151.8H405.2M400.8 160.8H405.2" stroke="#a030a0" stroke-width="0.9"/><circle cx="403.00" cy="156.30" r="2.64" fill="#800080" stroke="#600060" stroke-width="0.70"/><path d="M402.4 141.8V148.6M400.2 141.8H404.6M400.2 148.6H404.6" stroke="#3434c8" stroke-width="0.9"/><path d="M402.40 148.13L405.55 142.44L399.25 142.44Z" fill="#000080" stroke="#000040" stroke-width="0.70"/><path d="M402.1 152.0V167.5M399.9 152.0H404.3M399.9 167.5H404.3" stroke="#3030ff" stroke-width="0.9"/><path d="M402.10 156.27L405.25 161.97L398.95 161.97Z" fill="#0000ff" stroke="#0000a0" stroke-width="0.70"/><path d="M398.3 140.5V152.5M396.1 140.5H400.5M396.1 152.5H400.5" stroke="#a02828" stroke-width="0.9"/><rect x="395.36" y="143.66" width="5.88" height="5.88" fill="#800000" stroke="#000000" stroke-width="1.30"/><path d="M405.3 155.7V169.8M403.1 155.7H407.5M403.1 169.8H407.5" stroke="#3434c8" stroke-width="0.9"/><path d="M405.30 166.03L408.45 160.34L402.15 160.34Z" fill="#000080" stroke="#000040" stroke-width="0.70"/><path d="M410.7 138.9V152.4M408.5 138.9H412.9M408.5 152.4H412.9" stroke="#a030a0" stroke-width="0.9"/><path d="M410.70 142.27L413.85 147.97L407.55 147.97Z" fill="#800080" stroke="#600060" stroke-width="0.70"/><path d="M396.0 138.5V146.6M393.8 138.5H398.2M393.8 146.6H398.2" stroke="#3434c8" stroke-width="0.9"/><path d="M396.00 145.83L399.15 140.13L392.85 140.13Z" fill="#000080" stroke="#000040" stroke-width="0.70"/><path d="M396.0 147.2V161.6M393.8 147.2H398.2M393.8 161.6H398.2" stroke="#3434c8" stroke-width="0.9"/><path d="M396.00 157.44L399.15 151.74L392.85 151.74Z" fill="#000080" stroke="#000040" stroke-width="0.70"/><path d="M412.9 146.3V154.1M410.7 146.3H415.1M410.7 154.1H415.1" stroke="#a02828" stroke-width="0.9"/><rect x="409.96" y="147.76" width="5.88" height="5.88" fill="#800000" stroke="#000000" stroke-width="1.30"/><path d="M415.9 153.6V168.2M413.7 153.6H418.1M413.7 168.2H418.1" stroke="#2a2aff" stroke-width="0.9"/><path d="M415.90 157.67L419.05 163.37L412.75 163.37Z" fill="#0000ee" stroke="#000080" stroke-width="0.70"/><path d="M396.2 143.1V151.3M394.0 143.1H398.4M394.0 151.3H398.4" stroke="#3030ff" stroke-width="0.9"/><path d="M396.20 143.67L399.35 149.37L393.05 149.37Z" fill="#0000ff" stroke="#0000a0" stroke-width="0.70"/><path d="M455.2 145.1V159.0M453.0 145.1H457.4M453.0 159.0H457.4" stroke="#3030ff" stroke-width="0.9"/><rect x="452.26" y="148.76" width="5.88" height="5.88" fill="#0000ff" stroke="#0000a0" stroke-width="1.30"/><path d="M433.2 147.3V162.9M431.0 147.3H435.4M431.0 162.9H435.4" stroke="#3030ff" stroke-width="0.9"/><rect x="430.26" y="151.96" width="5.88" height="5.88" fill="#0000ff" stroke="#0000a0" stroke-width="1.30"/><path d="M454.7 166.4V172.4M452.5 166.4H456.9M452.5 172.4H456.9" stroke="#3030ff" stroke-width="0.9"/><rect x="451.76" y="166.26" width="5.88" height="5.88" fill="#0000ff" stroke="#0000a0" stroke-width="1.30"/><path d="M440.1 158.4V170.9M437.9 158.4H442.3M437.9 170.9H442.3" stroke="#ff3030" stroke-width="0.9"/><rect x="437.16" y="162.16" width="5.88" height="5.88" fill="#ff0000" stroke="#000000" stroke-width="1.30"/><path d="M453.0 156.3V172.2M450.8 156.3H455.2M450.8 172.2H455.2" stroke="#a030a0" stroke-width="0.9"/><circle cx="453.00" cy="164.10" r="2.64" fill="#800080" stroke="#600060" stroke-width="0.70"/><path d="M445.6 143.1V152.1M443.4 143.1H447.8M443.4 152.1H447.8" stroke="#3434c8" stroke-width="0.9"/><path d="M445.60 144.84L448.66 147.90L445.60 150.96L442.54 147.90Z" fill="#000080" stroke="#000060" stroke-width="0.70"/><path d="M434.6 149.3V156.4M432.4 149.3H436.8M432.4 156.4H436.8" stroke="#a02828" stroke-width="0.9"/><rect x="431.66" y="150.16" width="5.88" height="5.88" fill="#800000" stroke="#000000" stroke-width="1.30"/><path d="M444.2 159.4V168.4M442.0 159.4H446.4M442.0 168.4H446.4" stroke="#3434c8" stroke-width="0.9"/><path d="M444.20 160.44L447.26 163.50L444.20 166.56L441.14 163.50Z" fill="#000080" stroke="#000060" stroke-width="0.70"/><path d="M426.7 153.5V165.0M424.5 153.5H428.9M424.5 165.0H428.9" stroke="#3030ff" stroke-width="0.9"/><path d="M426.70 155.87L429.85 161.56L423.55 161.56Z" fill="#0000ff" stroke="#0000a0" stroke-width="0.70"/><path d="M428.0 158.1V172.2M425.8 158.1H430.2M425.8 172.2H430.2" stroke="#3030ff" stroke-width="0.9"/><rect x="425.06" y="161.86" width="5.88" height="5.88" fill="#0000ff" stroke="#0000a0" stroke-width="1.30"/><path d="M425.4 149.8V155.0M423.2 149.8H427.6M423.2 155.0H427.6" stroke="#3434c8" stroke-width="0.9"/><path d="M425.40 155.73L428.55 150.03L422.25 150.03Z" fill="#000080" stroke="#000040" stroke-width="0.70"/><path d="M429.3 159.5V168.0M427.1 159.5H431.5M427.1 168.0H431.5" stroke="#ff3030" stroke-width="0.9"/><rect x="426.36" y="160.86" width="5.88" height="5.88" fill="#ff0000" stroke="#000000" stroke-width="1.30"/><path d="M437.1 138.0V154.5M434.9 138.0H439.3M434.9 154.5H439.3" stroke="#2a2aff" stroke-width="0.9"/><path d="M437.10 142.87L440.25 148.56L433.95 148.56Z" fill="#0000ee" stroke="#000080" stroke-width="0.70"/><path d="M423.9 167.7V173.9M421.7 167.7H426.1M421.7 173.9H426.1" stroke="#a030a0" stroke-width="0.9"/><circle cx="423.90" cy="170.80" r="2.64" fill="#800080" stroke="#600060" stroke-width="0.70"/><path d="M440.4 144.8V160.2M438.2 144.8H442.6M438.2 160.2H442.6" stroke="#2a2aff" stroke-width="0.9"/><path d="M440.40 149.27L443.55 154.97L437.25 154.97Z" fill="#0000ee" stroke="#000080" stroke-width="0.70"/><path d="M449.5 168.2V175.2M447.3 168.2H451.7M447.3 175.2H451.7" stroke="#3434c8" stroke-width="0.9"/><path d="M449.50 175.23L452.65 169.53L446.35 169.53Z" fill="#000080" stroke="#000040" stroke-width="0.70"/><path d="M421.3 167.0V174.3M419.1 167.0H423.5M419.1 174.3H423.5" stroke="#8888a8" stroke-width="0.9"/><circle cx="421.30" cy="170.50" r="2.64" fill="#808080" stroke="#505050" stroke-width="0.70"/><path d="M459.7 158.8V173.5M457.5 158.8H461.9M457.5 173.5H461.9" stroke="#3030ff" stroke-width="0.9"/><path d="M459.70 162.77L462.85 168.47L456.55 168.47Z" fill="#0000ff" stroke="#0000a0" stroke-width="0.70"/><path d="M435.4 151.2V160.3M433.2 151.2H437.6M433.2 160.3H437.6" stroke="#8888a8" stroke-width="0.9"/><circle cx="435.40" cy="155.70" r="2.64" fill="#808080" stroke="#505050" stroke-width="0.70"/><path d="M437.4 158.9V170.4M435.2 158.9H439.6M435.2 170.4H439.6" stroke="#2a2aff" stroke-width="0.9"/><path d="M437.40 161.37L440.55 167.06L434.25 167.06Z" fill="#0000ee" stroke="#000080" stroke-width="0.70"/><path d="M458.5 164.4V174.8M456.3 164.4H460.7M456.3 174.8H460.7" stroke="#a030a0" stroke-width="0.9"/><path d="M458.50 166.47L461.65 172.16L455.35 172.16Z" fill="#800080" stroke="#600060" stroke-width="0.70"/><path d="M427.4 149.3V161.2M425.2 149.3H429.6M425.2 161.2H429.6" stroke="#2a2aff" stroke-width="0.9"/><path d="M427.40 152.47L430.55 158.16L424.25 158.16Z" fill="#0000ee" stroke="#000080" stroke-width="0.70"/><path d="M440.8 161.1V170.3M438.6 161.1H443.0M438.6 170.3H443.0" stroke="#2a2aff" stroke-width="0.9"/><path d="M440.80 162.87L443.95 168.56L437.65 168.56Z" fill="#0000ee" stroke="#000080" stroke-width="0.70"/><path d="M454.0 144.6V158.1M451.8 144.6H456.2M451.8 158.1H456.2" stroke="#209020" stroke-width="0.9"/><rect x="451.06" y="148.46" width="5.88" height="5.88" fill="#008000" stroke="#000000" stroke-width="1.30"/><path d="M433.3 159.3V167.9M431.1 159.3H435.5M431.1 167.9H435.5" stroke="#3030ff" stroke-width="0.9"/><rect x="430.36" y="160.76" width="5.88" height="5.88" fill="#0000ff" stroke="#0000a0" stroke-width="1.30"/><path d="M451.3 168.4V176.5M449.1 168.4H453.5M449.1 176.5H453.5" stroke="#ff3030" stroke-width="0.9"/><rect x="448.36" y="169.56" width="5.88" height="5.88" fill="#ff0000" stroke="#000000" stroke-width="1.30"/><path d="M446.5 147.7V156.2M444.3 147.7H448.7M444.3 156.2H448.7" stroke="#2a2aff" stroke-width="0.9"/><path d="M446.50 148.87L449.65 154.56L443.35 154.56Z" fill="#0000ee" stroke="#000080" stroke-width="0.70"/><path d="M465.7 166.3V182.1M463.5 166.3H467.9M463.5 182.1H467.9" stroke="#209020" stroke-width="0.9"/><rect x="462.76" y="171.16" width="5.88" height="5.88" fill="#000000" stroke="#008000" stroke-width="1.60"/><path d="M458.1 146.7V155.1M455.9 146.7H460.3M455.9 155.1H460.3" stroke="#f03838" stroke-width="0.9"/><rect x="455.16" y="147.86" width="5.88" height="5.88" fill="#ff0000" stroke="#a00000" stroke-width="1.30"/><path d="M464.8 156.4V166.0M462.6 156.4H467.0M462.6 166.0H467.0" stroke="#8888a8" stroke-width="0.9"/><circle cx="464.80" cy="160.80" r="2.64" fill="#808080" stroke="#505050" stroke-width="0.70"/><path d="M421.3 151.0V157.3M419.1 151.0H423.5M419.1 157.3H423.5" stroke="#3030ff" stroke-width="0.9"/><rect x="418.36" y="151.06" width="5.88" height="5.88" fill="#0000ff" stroke="#0000a0" stroke-width="1.30"/><path d="M437.5 154.9V165.9M435.3 154.9H439.7M435.3 165.9H439.7" stroke="#a030a0" stroke-width="0.9"/><circle cx="437.50" cy="160.50" r="2.64" fill="#800080" stroke="#600060" stroke-width="0.70"/><path d="M425.4 153.3V160.2M423.2 153.3H427.6M423.2 160.2H427.6" stroke="#a030a0" stroke-width="0.9"/><circle cx="425.40" cy="156.40" r="2.64" fill="#800080" stroke="#600060" stroke-width="0.70"/><path d="M431.9 144.7V155.2M429.7 144.7H434.1M429.7 155.2H434.1" stroke="#3434c8" stroke-width="0.9"/><path d="M431.90 153.03L435.05 147.34L428.75 147.34Z" fill="#000080" stroke="#000040" stroke-width="0.70"/><path d="M430.6 150.8V161.4M428.4 150.8H432.8M428.4 161.4H432.8" stroke="#a030a0" stroke-width="0.9"/><circle cx="430.60" cy="156.50" r="2.64" fill="#800080" stroke="#600060" stroke-width="0.70"/><path d="M439.2 142.7V154.2M437.0 142.7H441.4M437.0 154.2H441.4" stroke="#209020" stroke-width="0.9"/><rect x="436.26" y="145.26" width="5.88" height="5.88" fill="#008000" stroke="#000000" stroke-width="1.30"/><path d="M455.6 152.9V159.7M453.4 152.9H457.8M453.4 159.7H457.8" stroke="#3030ff" stroke-width="0.9"/><path d="M455.60 152.87L458.75 158.56L452.45 158.56Z" fill="#0000ff" stroke="#0000a0" stroke-width="0.70"/><path d="M438.4 150.3V163.1M436.2 150.3H440.6M436.2 163.1H440.6" stroke="#a030a0" stroke-width="0.9"/><circle cx="438.40" cy="157.10" r="2.64" fill="#800080" stroke="#600060" stroke-width="0.70"/><path d="M456.5 142.7V148.1M454.3 142.7H458.7M454.3 148.1H458.7" stroke="#3434c8" stroke-width="0.9"/><path d="M456.50 142.24L459.56 145.30L456.50 148.36L453.44 145.30Z" fill="#000080" stroke="#000060" stroke-width="0.70"/><path d="M430.0 149.7V164.7M427.8 149.7H432.2M427.8 164.7H432.2" stroke="#3030ff" stroke-width="0.9"/><rect x="427.06" y="154.16" width="5.88" height="5.88" fill="#0000ff" stroke="#0000a0" stroke-width="1.30"/><path d="M461.0 162.8V170.1M458.8 162.8H463.2M458.8 170.1H463.2" stroke="#209020" stroke-width="0.9"/><rect x="458.06" y="163.26" width="5.88" height="5.88" fill="#008000" stroke="#000000" stroke-width="1.30"/><path d="M436.0 165.0V171.1M433.8 165.0H438.2M433.8 171.1H438.2" stroke="#209020" stroke-width="0.9"/><rect x="433.06" y="165.26" width="5.88" height="5.88" fill="#008000" stroke="#000000" stroke-width="1.30"/><path d="M454.7 167.5V178.3M452.5 167.5H456.9M452.5 178.3H456.9" stroke="#2a2aff" stroke-width="0.9"/><path d="M454.70 170.17L457.85 175.87L451.55 175.87Z" fill="#0000ee" stroke="#000080" stroke-width="0.70"/><path d="M445.8 156.0V167.9M443.6 156.0H448.0M443.6 167.9H448.0" stroke="#a030a0" stroke-width="0.9"/><path d="M445.80 159.06L448.95 164.76L442.65 164.76Z" fill="#800080" stroke="#600060" stroke-width="0.70"/><path d="M429.1 159.3V164.6M426.9 159.3H431.3M426.9 164.6H431.3" stroke="#f03838" stroke-width="0.9"/><rect x="426.16" y="159.46" width="5.88" height="5.88" fill="#ff0000" stroke="#a00000" stroke-width="1.30"/><path d="M425.2 158.9V167.5M423.0 158.9H427.4M423.0 167.5H427.4" stroke="#a030a0" stroke-width="0.9"/><circle cx="425.20" cy="163.00" r="2.64" fill="#800080" stroke="#600060" stroke-width="0.70"/><path d="M81.4 149.6V158.1M79.2 149.6H83.6M79.2 158.1H83.6" stroke="#a030a0" stroke-width="0.9"/><path d="M81.40 151.06L84.55 156.76L78.25 156.76Z" fill="#800080" stroke="#600060" stroke-width="0.70"/><path d="M84.2 145.8V160.5M82.0 145.8H86.4M82.0 160.5H86.4" stroke="#ff3030" stroke-width="0.9"/><rect x="81.26" y="150.16" width="5.88" height="5.88" fill="#ff0000" stroke="#000000" stroke-width="1.30"/><path d="M79.5 160.8V174.0M77.3 160.8H81.7M77.3 174.0H81.7" stroke="#2a2aff" stroke-width="0.9"/><path d="M79.50 163.97L82.65 169.66L76.35 169.66Z" fill="#0000ee" stroke="#000080" stroke-width="0.70"/><path d="M83.3 165.3V179.7M81.1 165.3H85.5M81.1 179.7H85.5" stroke="#209020" stroke-width="0.9"/><rect x="80.36" y="170.06" width="5.88" height="5.88" fill="#008000" stroke="#000000" stroke-width="1.30"/><path d="M93.6 169.3V177.4M91.4 169.3H95.8M91.4 177.4H95.8" stroke="#209020" stroke-width="0.9"/><rect x="90.66" y="170.76" width="5.88" height="5.88" fill="#008000" stroke="#000000" stroke-width="1.30"/><path d="M86.8 150.1V161.4M84.6 150.1H89.0M84.6 161.4H89.0" stroke="#3434c8" stroke-width="0.9"/><path d="M86.80 158.53L89.95 152.84L83.65 152.84Z" fill="#000080" stroke="#000040" stroke-width="0.70"/><path d="M97.3 143.2V152.4M95.1 143.2H99.5M95.1 152.4H99.5" stroke="#3434c8" stroke-width="0.9"/><path d="M97.30 151.53L100.45 145.84L94.15 145.84Z" fill="#000080" stroke="#000040" stroke-width="0.70"/><path d="M103.8 141.5V154.4M101.6 141.5H106.0M101.6 154.4H106.0" stroke="#209020" stroke-width="0.9"/><rect x="100.86" y="145.46" width="5.88" height="5.88" fill="#008000" stroke="#000000" stroke-width="1.30"/><path d="M103.1 151.9V159.5M100.9 151.9H105.3M100.9 159.5H105.3" stroke="#209020" stroke-width="0.9"/><rect x="100.16" y="152.46" width="5.88" height="5.88" fill="#008000" stroke="#000000" stroke-width="1.30"/><path d="M115.3 137.2V146.5M113.1 137.2H117.5M113.1 146.5H117.5" stroke="#3434c8" stroke-width="0.9"/><path d="M115.30 138.74L118.36 141.80L115.30 144.86L112.24 141.80Z" fill="#000080" stroke="#000060" stroke-width="0.70"/><path d="M117.6 148.0V160.2M115.4 148.0H119.8M115.4 160.2H119.8" stroke="#a030a0" stroke-width="0.9"/><circle cx="117.60" cy="154.20" r="2.64" fill="#800080" stroke="#600060" stroke-width="0.70"/><path d="M125.4 146.1V155.6M123.2 146.1H127.6M123.2 155.6H127.6" stroke="#3434c8" stroke-width="0.9"/><path d="M125.40 148.14L128.46 151.20L125.40 154.26L122.34 151.20Z" fill="#000080" stroke="#000060" stroke-width="0.70"/><path d="M104.8 164.2V178.2M102.6 164.2H107.0M102.6 178.2H107.0" stroke="#f03838" stroke-width="0.9"/><rect x="101.86" y="168.36" width="5.88" height="5.88" fill="#ff0000" stroke="#a00000" stroke-width="1.30"/><path d="M124.7 158.7V173.5M122.5 158.7H126.9M122.5 173.5H126.9" stroke="#a02828" stroke-width="0.9"/><rect x="121.76" y="163.06" width="5.88" height="5.88" fill="#800000" stroke="#000000" stroke-width="1.30"/><path d="M137.5 163.1V168.6M135.3 163.1H139.7M135.3 168.6H139.7" stroke="#a02828" stroke-width="0.9"/><rect x="134.56" y="163.06" width="5.88" height="5.88" fill="#800000" stroke="#000000" stroke-width="1.30"/><path d="M124.2 175.8V184.0M122.0 175.8H126.4M122.0 184.0H126.4" stroke="#f03838" stroke-width="0.9"/><rect x="121.26" y="176.56" width="5.88" height="5.88" fill="#ff0000" stroke="#a00000" stroke-width="1.30"/><path d="M134.0 183.6V194.1M131.8 183.6H136.2M131.8 194.1H136.2" stroke="#f03838" stroke-width="0.9"/><rect x="131.06" y="186.36" width="5.88" height="5.88" fill="#ff0000" stroke="#a00000" stroke-width="1.30"/><path d="M139.9 190.7V202.0M137.7 190.7H142.1M137.7 202.0H142.1" stroke="#3434c8" stroke-width="0.9"/><path d="M139.90 197.83L143.05 192.13L136.75 192.13Z" fill="#000080" stroke="#000040" stroke-width="0.70"/><path d="M145.7 191.3V197.9M143.5 191.3H147.9M143.5 197.9H147.9" stroke="#2a2aff" stroke-width="0.9"/><path d="M145.70 191.56L148.85 197.26L142.55 197.26Z" fill="#0000ee" stroke="#000080" stroke-width="0.70"/><path d="M101.3 173.7V184.0M99.1 173.7H103.5M99.1 184.0H103.5" stroke="#a030a0" stroke-width="0.9"/><path d="M101.30 175.67L104.45 181.37L98.15 181.37Z" fill="#800080" stroke="#600060" stroke-width="0.70"/><path d="M107.6 166.0V174.9M105.4 166.0H109.8M105.4 174.9H109.8" stroke="#2a2aff" stroke-width="0.9"/><path d="M107.60 167.47L110.75 173.16L104.45 173.16Z" fill="#0000ee" stroke="#000080" stroke-width="0.70"/><path d="M160.9 149.4V154.6M158.7 149.4H163.1M158.7 154.6H163.1" stroke="#8888a8" stroke-width="0.9"/><circle cx="160.90" cy="151.90" r="2.64" fill="#808080" stroke="#505050" stroke-width="0.70"/><path d="M146.9 169.8V177.5M144.7 169.8H149.1M144.7 177.5H149.1" stroke="#3030ff" stroke-width="0.9"/><rect x="143.96" y="171.16" width="5.88" height="5.88" fill="#0000ff" stroke="#0000a0" stroke-width="1.30"/><path d="M160.9 164.4V175.4M158.7 164.4H163.1M158.7 175.4H163.1" stroke="#a02828" stroke-width="0.9"/><rect x="157.96" y="166.46" width="5.88" height="5.88" fill="#800000" stroke="#000000" stroke-width="1.30"/><path d="M159.8 190.1V194.8M157.6 190.1H162.0M157.6 194.8H162.0" stroke="#9090a8" stroke-width="0.9"/><path d="M159.80 195.94L162.95 190.24L156.65 190.24Z" fill="#808080" stroke="#606060" stroke-width="0.70"/><path d="M135.2 167.9V179.8M133.0 167.9H137.4M133.0 179.8H137.4" stroke="#209020" stroke-width="0.9"/><rect x="132.26" y="171.16" width="5.88" height="5.88" fill="#008000" stroke="#000000" stroke-width="1.30"/><path d="M196.3 130.0V139.7M194.1 130.0H198.5M194.1 139.7H198.5" stroke="#3434c8" stroke-width="0.9"/><path d="M196.30 131.94L199.36 135.00L196.30 138.06L193.24 135.00Z" fill="#000080" stroke="#000060" stroke-width="0.70"/><path d="M160.5 147.6V155.6M158.3 147.6H162.7M158.3 155.6H162.7" stroke="#8888a8" stroke-width="0.9"/><circle cx="160.50" cy="151.60" r="2.64" fill="#808080" stroke="#505050" stroke-width="0.70"/><path d="M171.8 142.4V150.4M169.6 142.4H174.0M169.6 150.4H174.0" stroke="#a030a0" stroke-width="0.9"/><circle cx="171.80" cy="146.30" r="2.64" fill="#800080" stroke="#600060" stroke-width="0.70"/><circle cx="171.8" cy="146.3" r="5.2" fill="none" stroke="#a030a0" stroke-width="0.9"/><path d="M179.0 146.6V159.6M176.8 146.6H181.2M176.8 159.6H181.2" stroke="#3030ff" stroke-width="0.9"/><rect x="176.06" y="148.66" width="5.88" height="5.88" fill="#0000ff" stroke="#0000a0" stroke-width="1.30"/><path d="M175.8 155.4V167.1M173.6 155.4H178.0M173.6 167.1H178.0" stroke="#3030ff" stroke-width="0.9"/><path d="M175.80 157.67L178.95 163.37L172.65 163.37Z" fill="#0000ff" stroke="#0000a0" stroke-width="0.70"/><path d="M186.3 154.0V169.0M184.1 154.0H188.5M184.1 169.0H188.5" stroke="#3030ff" stroke-width="0.9"/><path d="M186.30 158.87L189.45 164.56L183.15 164.56Z" fill="#0000ff" stroke="#0000a0" stroke-width="0.70"/><path d="M169.2 159.1V170.8M167.0 159.1H171.4M167.0 170.8H171.4" stroke="#f03838" stroke-width="0.9"/><rect x="166.26" y="161.76" width="5.88" height="5.88" fill="#ff0000" stroke="#a00000" stroke-width="1.30"/><path d="M177.1 166.7V181.8M174.9 166.7H179.3M174.9 181.8H179.3" stroke="#f03838" stroke-width="0.9"/><rect x="174.16" y="171.06" width="5.88" height="5.88" fill="#ff0000" stroke="#a00000" stroke-width="1.30"/><path d="M189.0 140.3V152.6M186.8 140.3H191.2M186.8 152.6H191.2" stroke="#f03838" stroke-width="0.9"/><rect x="186.06" y="143.36" width="5.88" height="5.88" fill="#ff0000" stroke="#a00000" stroke-width="1.30"/><path d="M210.0 141.3V149.9M207.8 141.3H212.2M207.8 149.9H212.2" stroke="#f03838" stroke-width="0.9"/><rect x="207.06" y="142.86" width="5.88" height="5.88" fill="#ff0000" stroke="#a00000" stroke-width="1.30"/><path d="M190.3 139.4V153.9M188.1 139.4H192.5M188.1 153.9H192.5" stroke="#a02828" stroke-width="0.9"/><rect x="187.36" y="143.36" width="5.88" height="5.88" fill="#800000" stroke="#000000" stroke-width="1.30"/><path d="M199.5 150.5V166.2M197.3 150.5H201.7M197.3 166.2H201.7" stroke="#8888a8" stroke-width="0.9"/><circle cx="199.50" cy="158.20" r="2.64" fill="#808080" stroke="#505050" stroke-width="0.70"/><path d="M199.5 164.5V173.4M197.3 164.5H201.7M197.3 173.4H201.7" stroke="#a030a0" stroke-width="0.9"/><path d="M199.50 165.56L202.65 171.26L196.35 171.26Z" fill="#800080" stroke="#600060" stroke-width="0.70"/><path d="M195.5 159.4V172.6M193.3 159.4H197.7M193.3 172.6H197.7" stroke="#2a2aff" stroke-width="0.9"/><path d="M195.50 162.87L198.65 168.56L192.35 168.56Z" fill="#0000ee" stroke="#000080" stroke-width="0.70"/><path d="M206.0 153.5V165.2M203.8 153.5H208.2M203.8 165.2H208.2" stroke="#3030ff" stroke-width="0.9"/><rect x="203.06" y="156.56" width="5.88" height="5.88" fill="#0000ff" stroke="#0000a0" stroke-width="1.30"/><path d="M218.0 144.5V155.3M215.8 144.5H220.2M215.8 155.3H220.2" stroke="#f03838" stroke-width="0.9"/><rect x="215.06" y="147.06" width="5.88" height="5.88" fill="#ff0000" stroke="#a00000" stroke-width="1.30"/><path d="M229.7 155.2V160.5M227.5 155.2H231.9M227.5 160.5H231.9" stroke="#f03838" stroke-width="0.9"/><rect x="226.76" y="155.06" width="5.88" height="5.88" fill="#ff0000" stroke="#a00000" stroke-width="1.30"/><path d="M236.3 149.9V159.5M234.1 149.9H238.5M234.1 159.5H238.5" stroke="#a02828" stroke-width="0.9"/><rect x="233.36" y="151.26" width="5.88" height="5.88" fill="#800000" stroke="#000000" stroke-width="1.30"/><path d="M211.3 168.9V178.9M209.1 168.9H213.5M209.1 178.9H213.5" stroke="#8888a8" stroke-width="0.9"/><circle cx="211.30" cy="174.00" r="2.64" fill="#808080" stroke="#505050" stroke-width="0.70"/><path d="M246.8 158.2V165.3M244.6 158.2H249.0M244.6 165.3H249.0" stroke="#f03838" stroke-width="0.9"/><rect x="243.86" y="159.06" width="5.88" height="5.88" fill="#ff0000" stroke="#a00000" stroke-width="1.30"/><path d="M257.4 180.1V188.2M255.2 180.1H259.6M255.2 188.2H259.6" stroke="#3030ff" stroke-width="0.9"/><rect x="254.46" y="181.56" width="5.88" height="5.88" fill="#0000ff" stroke="#0000a0" stroke-width="1.30"/><path d="M261.3 189.7V199.7M259.1 189.7H263.5M259.1 199.7H263.5" stroke="#3030ff" stroke-width="0.9"/><rect x="258.36" y="190.76" width="5.88" height="5.88" fill="#0000ff" stroke="#0000a0" stroke-width="1.30"/><path d="M234.5 185.9V191.7M232.3 185.9H236.7M232.3 191.7H236.7" stroke="#3434c8" stroke-width="0.9"/><path d="M234.50 185.34L237.56 188.40L234.50 191.46L231.44 188.40Z" fill="#000080" stroke="#000060" stroke-width="0.70"/><path d="M244.2 186.0V195.9M242.0 186.0H246.4M242.0 195.9H246.4" stroke="#3434c8" stroke-width="0.9"/><path d="M244.20 187.94L247.26 191.00L244.20 194.06L241.14 191.00Z" fill="#000080" stroke="#000060" stroke-width="0.70"/><path d="M266.6 177.6V188.4M264.4 177.6H268.8M264.4 188.4H268.8" stroke="#3434c8" stroke-width="0.9"/><path d="M266.60 186.33L269.75 180.63L263.45 180.63Z" fill="#000080" stroke="#000040" stroke-width="0.70"/><path d="M271.8 162.8V175.8M269.6 162.8H274.0M269.6 175.8H274.0" stroke="#3030ff" stroke-width="0.9"/><rect x="268.86" y="167.86" width="5.88" height="5.88" fill="#0000ff" stroke="#0000a0" stroke-width="1.30"/><path d="M262.6 179.2V185.2M260.4 179.2H264.8M260.4 185.2H264.8" stroke="#3030ff" stroke-width="0.9"/><rect x="259.66" y="179.66" width="5.88" height="5.88" fill="#0000ff" stroke="#0000a0" stroke-width="1.30"/><path d="M274.5 186.3V194.3M272.3 186.3H276.7M272.3 194.3H276.7" stroke="#3030ff" stroke-width="0.9"/><rect x="271.56" y="187.56" width="5.88" height="5.88" fill="#0000ff" stroke="#0000a0" stroke-width="1.30"/><path d="M270.5 194.0V207.1M268.3 194.0H272.7M268.3 207.1H272.7" stroke="#3434c8" stroke-width="0.9"/><path d="M270.50 197.44L273.56 200.50L270.50 203.56L267.44 200.50Z" fill="#000080" stroke="#000060" stroke-width="0.70"/><path d="M291.6 180.2V195.2M289.4 180.2H293.8M289.4 195.2H293.8" stroke="#3434c8" stroke-width="0.9"/><path d="M291.60 184.84L294.66 187.90L291.60 190.96L288.54 187.90Z" fill="#000080" stroke="#000060" stroke-width="0.70"/><path d="M287.6 185.6V200.9M285.4 185.6H289.8M285.4 200.9H289.8" stroke="#3434c8" stroke-width="0.9"/><path d="M287.60 190.14L290.66 193.20L287.60 196.26L284.54 193.20Z" fill="#000080" stroke="#000060" stroke-width="0.70"/><path d="M283.7 174.5V179.7M281.5 174.5H285.9M281.5 179.7H285.9" stroke="#9090a8" stroke-width="0.9"/><path d="M283.70 180.53L286.85 174.84L280.55 174.84Z" fill="#808080" stroke="#606060" stroke-width="0.70"/><path d="M266.6 170.3V182.7M264.4 170.3H268.8M264.4 182.7H268.8" stroke="#f03838" stroke-width="0.9"/><rect x="263.66" y="173.06" width="5.88" height="5.88" fill="#ff0000" stroke="#a00000" stroke-width="1.30"/><path d="M288.4 166.3V175.8M286.2 166.3H290.6M286.2 175.8H290.6" stroke="#a030a0" stroke-width="0.9"/><path d="M288.40 167.67L291.55 173.37L285.25 173.37Z" fill="#800080" stroke="#600060" stroke-width="0.70"/><path d="M275.8 179.1V189.6M273.6 179.1H278.0M273.6 189.6H278.0" stroke="#2a2aff" stroke-width="0.9"/><path d="M275.80 180.87L278.95 186.56L272.65 186.56Z" fill="#0000ee" stroke="#000080" stroke-width="0.70"/><path d="M307.4 158.2V170.2M305.2 158.2H309.6M305.2 170.2H309.6" stroke="#a01818" stroke-width="0.9"/><path d="M303.95 164.20H310.85M307.40 160.75V167.65" stroke="#a00000" stroke-width="1.90"/><path d="M299.0 173.1V178.8M296.8 173.1H301.2M296.8 178.8H301.2" stroke="#f03838" stroke-width="0.9"/><rect x="296.06" y="173.06" width="5.88" height="5.88" fill="#ff0000" stroke="#a00000" stroke-width="1.30"/><path d="M307.4 166.0V180.4M305.2 166.0H309.6M305.2 180.4H309.6" stroke="#f03838" stroke-width="0.9"/><rect x="304.46" y="170.46" width="5.88" height="5.88" fill="#ff0000" stroke="#a00000" stroke-width="1.30"/><path d="M295.5 199.3V206.2M293.3 199.3H297.7M293.3 206.2H297.7" stroke="#3434c8" stroke-width="0.9"/><path d="M295.50 200.14L298.56 203.20L295.50 206.26L292.44 203.20Z" fill="#000080" stroke="#000060" stroke-width="0.70"/><path d="M301.6 195.0V201.3M299.4 195.0H303.8M299.4 201.3H303.8" stroke="#3434c8" stroke-width="0.9"/><path d="M301.60 195.34L304.66 198.40L301.60 201.46L298.54 198.40Z" fill="#000080" stroke="#000060" stroke-width="0.70"/><path d="M299.0 182.8V195.0M296.8 182.8H301.2M296.8 195.0H301.2" stroke="#3030ff" stroke-width="0.9"/><rect x="296.06" y="186.26" width="5.88" height="5.88" fill="#0000ff" stroke="#0000a0" stroke-width="1.30"/><path d="M323.7 187.9V196.7M321.5 187.9H325.9M321.5 196.7H325.9" stroke="#a030a0" stroke-width="0.9"/><path d="M323.70 189.47L326.85 195.16L320.55 195.16Z" fill="#800080" stroke="#600060" stroke-width="0.70"/><path d="M311.3 183.4V195.7M309.1 183.4H313.5M309.1 195.7H313.5" stroke="#3030ff" stroke-width="0.9"/><path d="M311.30 186.06L314.45 191.76L308.15 191.76Z" fill="#0000ff" stroke="#0000a0" stroke-width="0.70"/><path d="M316.6 169.9V181.5M314.4 169.9H318.8M314.4 181.5H318.8" stroke="#a02828" stroke-width="0.9"/><rect x="313.66" y="173.06" width="5.88" height="5.88" fill="#800000" stroke="#000000" stroke-width="1.30"/><path d="M338.4 156.4V170.4M336.2 156.4H340.6M336.2 170.4H340.6" stroke="#f03838" stroke-width="0.9"/><rect x="335.46" y="159.96" width="5.88" height="5.88" fill="#ff0000" stroke="#a00000" stroke-width="1.30"/><path d="M333.7 186.0V196.8M331.5 186.0H335.9M331.5 196.8H335.9" stroke="#3030ff" stroke-width="0.9"/><rect x="330.76" y="188.86" width="5.88" height="5.88" fill="#0000ff" stroke="#0000a0" stroke-width="1.30"/><path d="M342.1 179.6V194.3M339.9 179.6H344.3M339.9 194.3H344.3" stroke="#9090a8" stroke-width="0.9"/><path d="M342.10 189.73L345.25 184.03L338.95 184.03Z" fill="#808080" stroke="#606060" stroke-width="0.70"/><path d="M332.4 163.8V171.8M330.2 163.8H334.6M330.2 171.8H334.6" stroke="#a030a0" stroke-width="0.9"/><circle cx="332.40" cy="168.20" r="2.64" fill="#800080" stroke="#600060" stroke-width="0.70"/><path d="M358.7 147.5V154.6M356.5 147.5H360.9M356.5 154.6H360.9" stroke="#f03838" stroke-width="0.9"/><rect x="355.76" y="148.06" width="5.88" height="5.88" fill="#ff0000" stroke="#a00000" stroke-width="1.30"/><path d="M364.0 145.1V160.0M361.8 145.1H366.2M361.8 160.0H366.2" stroke="#f03838" stroke-width="0.9"/><rect x="361.06" y="149.46" width="5.88" height="5.88" fill="#ff0000" stroke="#a00000" stroke-width="1.30"/><path d="M365.3 159.2V173.8M363.1 159.2H367.5M363.1 173.8H367.5" stroke="#209020" stroke-width="0.9"/><rect x="362.36" y="163.86" width="5.88" height="5.88" fill="#008000" stroke="#000000" stroke-width="1.30"/><path d="M349.5 165.2V174.3M347.3 165.2H351.7M347.3 174.3H351.7" stroke="#3030ff" stroke-width="0.9"/><rect x="346.56" y="166.56" width="5.88" height="5.88" fill="#0000ff" stroke="#0000a0" stroke-width="1.30"/><path d="M341.6 148.9V160.9M339.4 148.9H343.8M339.4 160.9H343.8" stroke="#a030a0" stroke-width="0.9"/><circle cx="341.60" cy="155.00" r="2.64" fill="#800080" stroke="#600060" stroke-width="0.70"/><path d="M378.5 117.5V125.5M376.3 117.5H380.7M376.3 125.5H380.7" stroke="#3434c8" stroke-width="0.9"/><path d="M378.50 118.44L381.56 121.50L378.50 124.56L375.44 121.50Z" fill="#000080" stroke="#000060" stroke-width="0.70"/><path d="M390.8 123.0V135.1M388.6 123.0H393.0M388.6 135.1H393.0" stroke="#3434c8" stroke-width="0.9"/><path d="M390.80 132.33L393.95 126.63L387.65 126.63Z" fill="#000080" stroke="#000040" stroke-width="0.70"/><path d="M421.5 141.8V149.8M419.3 141.8H423.7M419.3 149.8H423.7" stroke="#202020" stroke-width="0.9"/><path d="M418.05 145.80H424.95M421.50 142.35V149.25" stroke="#000000" stroke-width="1.90"/><path d="M456.7 144.5V149.9M454.5 144.5H458.9M454.5 149.9H458.9" stroke="#209020" stroke-width="0.9"/><rect x="453.76" y="144.36" width="5.88" height="5.88" fill="#008000" stroke="#000000" stroke-width="1.30"/><path d="M455.3 153.1V158.9M453.1 153.1H457.5M453.1 158.9H457.5" stroke="#209020" stroke-width="0.9"/><rect x="452.36" y="152.96" width="5.88" height="5.88" fill="#008000" stroke="#000000" stroke-width="1.30"/><path d="M436.1 168.7V177.3M433.9 168.7H438.3M433.9 177.3H438.3" stroke="#209020" stroke-width="0.9"/><rect x="433.16" y="170.06" width="5.88" height="5.88" fill="#008000" stroke="#000000" stroke-width="1.30"/><path d="M446.7 168.1V179.2M444.5 168.1H448.9M444.5 179.2H448.9" stroke="#209020" stroke-width="0.9"/><rect x="443.76" y="170.96" width="5.88" height="5.88" fill="#008000" stroke="#000000" stroke-width="1.30"/><path d="M425.2 165.2V174.3M423.0 165.2H427.4M423.0 174.3H427.4" stroke="#209020" stroke-width="0.9"/><rect x="422.26" y="167.26" width="5.88" height="5.88" fill="#008000" stroke="#000000" stroke-width="1.30"/><path d="M453.9 171.2V186.5M451.7 171.2H456.1M451.7 186.5H456.1" stroke="#a030a0" stroke-width="0.9"/><path d="M453.90 175.67L457.05 181.37L450.75 181.37Z" fill="#800080" stroke="#600060" stroke-width="0.70"/><path d="M449.6 139.4V154.3M447.4 139.4H451.8M447.4 154.3H451.8" stroke="#3434c8" stroke-width="0.9"/><path d="M449.60 150.44L452.75 144.74L446.45 144.74Z" fill="#000080" stroke="#000040" stroke-width="0.70"/><path d="M462.4 152.8V165.0M460.2 152.8H464.6M460.2 165.0H464.6" stroke="#3434c8" stroke-width="0.9"/><path d="M462.40 161.83L465.55 156.13L459.25 156.13Z" fill="#000080" stroke="#000040" stroke-width="0.70"/><path d="M461.0 163.0V170.8M458.8 163.0H463.2M458.8 170.8H463.2" stroke="#3030ff" stroke-width="0.9"/><path d="M461.00 164.17L464.15 169.87L457.85 169.87Z" fill="#0000ff" stroke="#0000a0" stroke-width="0.70"/><path d="M455.3 166.8V172.8M453.1 166.8H457.5M453.1 172.8H457.5" stroke="#f03838" stroke-width="0.9"/><rect x="452.36" y="167.26" width="5.88" height="5.88" fill="#ff0000" stroke="#a00000" stroke-width="1.30"/><path d="M446.1 156.9V169.5M443.9 156.9H448.3M443.9 169.5H448.3" stroke="#f03838" stroke-width="0.9"/><rect x="443.16" y="160.66" width="5.88" height="5.88" fill="#ff0000" stroke="#a00000" stroke-width="1.30"/><path d="M118.4 143.7V197.0M116.2 143.7H120.6M116.2 197.0H120.6" stroke="#b84c4c" stroke-width="0.9"/><rect x="115.46" y="165.06" width="5.88" height="5.88" fill="#ff0000" stroke="#a00000" stroke-width="1.30"/><path d="M128.9 140.2V197.0M126.7 140.2H131.1M126.7 197.0H131.1" stroke="#b84c4c" stroke-width="0.9"/><rect x="125.96" y="167.06" width="5.88" height="5.88" fill="#ff0000" stroke="#a00000" stroke-width="1.30"/><path d="M159.8 139.5V195.2M157.6 139.5H162.0M157.6 195.2H162.0" stroke="#b84c4c" stroke-width="0.9"/><rect x="156.86" y="164.06" width="5.88" height="5.88" fill="#ff0000" stroke="#a00000" stroke-width="1.30"/><path d="M191.0 118.0V175.3M188.8 118.0H193.2M188.8 175.3H193.2" stroke="#b84c4c" stroke-width="0.9"/><rect x="188.06" y="144.06" width="5.88" height="5.88" fill="#ff0000" stroke="#a00000" stroke-width="1.30"/><path d="M220.5 121.3V193.7M218.3 121.3H222.7M218.3 193.7H222.7" stroke="#b84c4c" stroke-width="0.9"/><rect x="217.56" y="154.06" width="5.88" height="5.88" fill="#ff0000" stroke="#a00000" stroke-width="1.30"/><path d="M363.0 106.3V199.6M360.8 106.3H365.2M360.8 199.6H365.2" stroke="#b84c4c" stroke-width="0.9"/><rect x="360.06" y="147.06" width="5.88" height="5.88" fill="#ff0000" stroke="#a00000" stroke-width="1.30"/><path d="M383.7 113.8V199.6M381.5 113.8H385.9M381.5 199.6H385.9" stroke="#b84c4c" stroke-width="0.9"/><rect x="380.76" y="154.06" width="5.88" height="5.88" fill="#ff0000" stroke="#a00000" stroke-width="1.30"/></g>
<path d="M96.00 4.10V9.10M96.00 321.50V316.50M131.32 4.10V9.10M131.32 321.50V316.50M166.64 4.10V9.10M166.64 321.50V316.50M201.96 4.10V9.10M201.96 321.50V316.50M237.28 4.10V9.10M237.28 321.50V316.50M272.60 4.10V9.10M272.60 321.50V316.50M307.92 4.10V9.10M307.92 321.50V316.50M343.24 4.10V9.10M343.24 321.50V316.50M378.56 4.10V9.10M378.56 321.50V316.50M413.88 4.10V9.10M413.88 321.50V316.50M449.20 4.10V9.10M449.20 321.50V316.50M53.50 19.20H58.70M490.90 19.20H485.70M53.50 41.15H58.70M490.90 41.15H485.70M53.50 63.10H58.70M490.90 63.10H485.70M53.50 85.05H58.70M490.90 85.05H485.70M53.50 107.00H58.70M490.90 107.00H485.70M53.50 128.95H58.70M490.90 128.95H485.70M53.50 150.90H58.70M490.90 150.90H485.70M53.50 172.85H58.70M490.90 172.85H485.70M53.50 194.80H58.70M490.90 194.80H485.70M53.50 216.75H58.70M490.90 216.75H485.70M53.50 238.70H58.70M490.90 238.70H485.70M53.50 260.65H58.70M490.90 260.65H485.70M53.50 282.60H58.70M490.90 282.60H485.70M53.50 304.55H58.70M490.90 304.55H485.70" stroke="#707070" stroke-width="1.4" fill="none"/>
<rect x="52.50" y="3.10" width="439.40" height="319.40" fill="none" stroke="#303030" stroke-width="1.9"/>
<text x="96.00" y="335.50" font-size="12" text-anchor="middle" >0.00</text>
<text x="131.32" y="335.50" font-size="12" text-anchor="middle" >0.10</text>
<text x="166.64" y="335.50" font-size="12" text-anchor="middle" >0.20</text>
<text x="201.96" y="335.50" font-size="12" text-anchor="middle" >0.30</text>
<text x="237.28" y="335.50" font-size="12" text-anchor="middle" >0.40</text>
<text x="272.60" y="335.50" font-size="12" text-anchor="middle" >0.50</text>
<text x="307.92" y="335.50" font-size="12" text-anchor="middle" >0.60</text>
<text x="343.24" y="335.50" font-size="12" text-anchor="middle" >0.70</text>
<text x="378.56" y="335.50" font-size="12" text-anchor="middle" >0.80</text>
<text x="413.88" y="335.50" font-size="12" text-anchor="middle" >0.90</text>
<text x="449.20" y="335.50" font-size="12" text-anchor="middle" >1.00</text>
<text x="49.90" y="22.80" font-size="12.3" text-anchor="end" >13.50</text>
<text x="49.90" y="44.75" font-size="12.3" text-anchor="end" >13.55</text>
<text x="49.90" y="66.70" font-size="12.3" text-anchor="end" >13.60</text>
<text x="49.90" y="88.65" font-size="12.3" text-anchor="end" >13.65</text>
<text x="49.90" y="110.60" font-size="12.3" text-anchor="end" >13.70</text>
<text x="49.90" y="132.55" font-size="12.3" text-anchor="end" >13.75</text>
<text x="49.90" y="154.50" font-size="12.3" text-anchor="end" >13.80</text>
<text x="49.90" y="176.45" font-size="12.3" text-anchor="end" >13.85</text>
<text x="49.90" y="198.40" font-size="12.3" text-anchor="end" >13.90</text>
<text x="49.90" y="220.35" font-size="12.3" text-anchor="end" >13.95</text>
<text x="49.90" y="242.30" font-size="12.3" text-anchor="end" >14.00</text>
<text x="49.90" y="264.25" font-size="12.3" text-anchor="end" >14.05</text>
<text x="49.90" y="286.20" font-size="12.3" text-anchor="end" >14.10</text>
<text x="49.90" y="308.15" font-size="12.3" text-anchor="end" >14.15</text>
<text x="212.30" y="32.00" font-size="19.1" text-anchor="start" textLength="47.6" lengthAdjust="spacingAndGlyphs" stroke="#000" stroke-width="0.35">3873</text>
<text x="267.10" y="32.00" font-size="19.1" text-anchor="start" textLength="62.5" lengthAdjust="spacingAndGlyphs" stroke="#000" stroke-width="0.35">Roddy</text>
<text x="188.70" y="53.80" font-size="13.6" text-anchor="start" textLength="162.9" lengthAdjust="spacingAndGlyphs" >Period: 2.4797 ± 0.0001 h</text>
<text x="67.70" y="308.10" font-size="13.8" text-anchor="start" textLength="173.0" lengthAdjust="spacingAndGlyphs" >JDo(LTC): 2456152.694697</text>
<text transform="translate(11.40,264.80) rotate(-90)" x="0" y="0" font-size="11" textLength="206.6" lengthAdjust="spacingAndGlyphs">Reduced Magnitude(V) alpha(17.8°)</text>
<rect x="322.10" y="209.60" width="69.60" height="101.70" fill="#000"/>
<rect x="320.10" y="207.60" width="69.00" height="100.90" fill="#fff" stroke="#303030" stroke-width="0.9"/>
<text x="337.10" y="217.10" font-size="9.7" text-anchor="start" textLength="46.2" lengthAdjust="spacingAndGlyphs" >Year: 2012</text>
<path d="M329.00 221.97L332.05 227.48L325.95 227.48Z" fill="#0000ee" stroke="#000080" stroke-width="0.70"/>
<text x="337.00" y="228.10" font-size="9.7" text-anchor="start" textLength="51.4" lengthAdjust="spacingAndGlyphs" >5530 - 08/13</text>
<circle cx="329.00" cy="236.02" r="2.73" fill="#808080" stroke="#505050" stroke-width="0.70"/>
<text x="337.00" y="239.12" font-size="9.7" text-anchor="start" textLength="51.4" lengthAdjust="spacingAndGlyphs" >5537 - 08/17</text>
<rect x="325.96" y="244.00" width="6.08" height="6.08" fill="#008000" stroke="#000000" stroke-width="1.30"/>
<text x="337.00" y="250.14" font-size="9.7" text-anchor="start" textLength="51.4" lengthAdjust="spacingAndGlyphs" >5542 - 08/19</text>
<path d="M325.44 258.06H332.56M329.00 254.50V261.62" stroke="#000000" stroke-width="1.90"/>
<text x="337.00" y="261.16" font-size="9.7" text-anchor="start" textLength="51.4" lengthAdjust="spacingAndGlyphs" >5549 - 08/20</text>
<circle cx="329.00" cy="269.08" r="2.73" fill="#800080" stroke="#600060" stroke-width="0.70"/>
<text x="337.00" y="272.18" font-size="9.7" text-anchor="start" textLength="51.4" lengthAdjust="spacingAndGlyphs" >5553 - 08/21</text>
<rect x="325.96" y="277.06" width="6.08" height="6.08" fill="#000000" stroke="#008000" stroke-width="1.60"/>
<text x="337.00" y="283.20" font-size="9.7" text-anchor="start" textLength="51.4" lengthAdjust="spacingAndGlyphs" >5558 - 08/22</text>
<path d="M329.00 288.09L332.05 293.60L325.95 293.60Z" fill="#800080" stroke="#600060" stroke-width="0.70"/>
<text x="337.00" y="294.22" font-size="9.7" text-anchor="start" textLength="51.4" lengthAdjust="spacingAndGlyphs" >5562 - 08/25</text>
<rect x="325.96" y="299.10" width="6.08" height="6.08" fill="#ff0000" stroke="#000000" stroke-width="1.30"/>
<text x="337.00" y="305.24" font-size="9.7" text-anchor="start" textLength="51.4" lengthAdjust="spacingAndGlyphs" >5566 - 08/26</text>
<rect x="399.30" y="208.80" width="69.60" height="100.20" fill="#000"/>
<rect x="397.30" y="206.80" width="69.00" height="99.40" fill="#fff" stroke="#303030" stroke-width="0.9"/>
<text x="414.30" y="216.30" font-size="9.7" text-anchor="start" textLength="46.2" lengthAdjust="spacingAndGlyphs" >Year: 2012</text>
<path d="M406.20 227.23L409.25 221.72L403.15 221.72Z" fill="#000080" stroke="#000040" stroke-width="0.70"/>
<text x="414.20" y="227.30" font-size="9.7" text-anchor="start" textLength="51.4" lengthAdjust="spacingAndGlyphs" >5571 - 08/27</text>
<rect x="403.16" y="231.99" width="6.08" height="6.08" fill="#0000ff" stroke="#0000a0" stroke-width="1.30"/>
<text x="414.20" y="238.13" font-size="9.7" text-anchor="start" textLength="51.4" lengthAdjust="spacingAndGlyphs" >5576 - 08/31</text>
<rect x="403.16" y="242.82" width="6.08" height="6.08" fill="#ff0000" stroke="#a00000" stroke-width="1.30"/>
<text x="414.20" y="248.96" font-size="9.7" text-anchor="start" textLength="51.4" lengthAdjust="spacingAndGlyphs" >5584 - 09/06</text>
<path d="M406.20 253.66L409.25 259.17L403.15 259.17Z" fill="#0000ff" stroke="#0000a0" stroke-width="0.70"/>
<text x="414.20" y="259.79" font-size="9.7" text-anchor="start" textLength="51.4" lengthAdjust="spacingAndGlyphs" >5594 - 09/09</text>
<path d="M402.63 267.52H409.76M406.20 263.96V271.09" stroke="#a00000" stroke-width="1.90"/>
<text x="414.20" y="270.62" font-size="9.7" text-anchor="start" textLength="51.4" lengthAdjust="spacingAndGlyphs" >5605 - 09/10</text>
<rect x="403.16" y="275.31" width="6.08" height="6.08" fill="#800000" stroke="#000000" stroke-width="1.30"/>
<text x="414.20" y="281.45" font-size="9.7" text-anchor="start" textLength="51.4" lengthAdjust="spacingAndGlyphs" >5614 - 09/14</text>
<path d="M406.20 292.21L409.25 286.70L403.15 286.70Z" fill="#808080" stroke="#606060" stroke-width="0.70"/>
<text x="414.20" y="292.28" font-size="9.7" text-anchor="start" textLength="51.4" lengthAdjust="spacingAndGlyphs" >5619 - 09/15</text>
<path d="M406.20 296.85L409.36 300.01L406.20 303.17L403.04 300.01Z" fill="#000080" stroke="#000060" stroke-width="0.70"/>
<text x="414.20" y="303.11" font-size="9.7" text-anchor="start" textLength="51.4" lengthAdjust="spacingAndGlyphs" >5628 - 09/16</text>
<path d="M660 178C664.0 179.9 677.5 188.0 684 189.5C690.5 191.0 694.0 188.2 699 187C704.0 185.8 709.2 183.7 714 182.5C718.8 181.3 723.0 181.1 728 180C733.0 178.9 739.2 178.2 744 176C748.8 173.8 753.0 169.5 757 167C761.0 164.5 764.2 162.3 768 161C771.8 159.7 775.5 158.2 780 159C784.5 159.8 790.2 163.2 795 166C799.8 168.8 804.3 172.8 809 176C813.7 179.2 818.2 183.2 823 185C827.8 186.8 833.0 188.0 838 187C843.0 186.0 848.2 182.0 853 179C857.8 176.0 863.3 171.3 867 169C870.7 166.7 871.0 166.0 875 165C879.0 164.0 885.8 163.7 891 163C896.2 162.3 901.0 162.0 906 161C911.0 160.0 916.7 159.0 921 157C925.3 155.0 928.0 151.3 932 149C936.0 146.7 942.8 144.0 945 143" fill="none" stroke="#111" stroke-width="2.0"/>
<g></g>
<g><path d="M587.1 146.4V157.9M584.9 146.4H589.3M584.9 157.9H589.3" stroke="#a02828" stroke-width="0.9"/><rect x="584.16" y="149.06" width="5.88" height="5.88" fill="#800000" stroke="#000000" stroke-width="1.30"/><path d="M585.0 145.8V159.1M582.8 145.8H587.2M582.8 159.1H587.2" stroke="#f03838" stroke-width="0.9"/><rect x="582.06" y="149.26" width="5.88" height="5.88" fill="#ff0000" stroke="#a00000" stroke-width="1.30"/><path d="M586.8 147.1V156.6M584.6 147.1H589.0M584.6 156.6H589.0" stroke="#202020" stroke-width="0.9"/><path d="M583.35 152.10H590.25M586.80 148.65V155.55" stroke="#000000" stroke-width="1.90"/><path d="M584.2 152.4V162.9M582.0 152.4H586.4M582.0 162.9H586.4" stroke="#ff3030" stroke-width="0.9"/><rect x="581.26" y="154.56" width="5.88" height="5.88" fill="#ff0000" stroke="#000000" stroke-width="1.30"/><path d="M586.7 148.2V160.7M584.5 148.2H588.9M584.5 160.7H588.9" stroke="#f03838" stroke-width="0.9"/><rect x="583.76" y="151.96" width="5.88" height="5.88" fill="#ff0000" stroke="#a00000" stroke-width="1.30"/><path d="M579.3 137.2V147.7M577.1 137.2H581.5M577.1 147.7H581.5" stroke="#a02828" stroke-width="0.9"/><rect x="576.36" y="139.86" width="5.88" height="5.88" fill="#800000" stroke="#000000" stroke-width="1.30"/><path d="M588.4 141.0V155.0M586.2 141.0H590.6M586.2 155.0H590.6" stroke="#ff3030" stroke-width="0.9"/><rect x="585.46" y="144.66" width="5.88" height="5.88" fill="#ff0000" stroke="#000000" stroke-width="1.30"/><path d="M580.6 139.3V155.1M578.4 139.3H582.8M578.4 155.1H582.8" stroke="#f03838" stroke-width="0.9"/><rect x="577.66" y="144.26" width="5.88" height="5.88" fill="#ff0000" stroke="#a00000" stroke-width="1.30"/><path d="M585.4 148.6V158.0M583.2 148.6H587.6M583.2 158.0H587.6" stroke="#a02828" stroke-width="0.9"/><rect x="582.46" y="149.96" width="5.88" height="5.88" fill="#800000" stroke="#000000" stroke-width="1.30"/><path d="M580.1 148.6V158.7M577.9 148.6H582.3M577.9 158.7H582.3" stroke="#a02828" stroke-width="0.9"/><rect x="577.16" y="150.36" width="5.88" height="5.88" fill="#800000" stroke="#000000" stroke-width="1.30"/><path d="M586.7 133.5V149.2M584.5 133.5H588.9M584.5 149.2H588.9" stroke="#ff3030" stroke-width="0.9"/><rect x="583.76" y="138.26" width="5.88" height="5.88" fill="#ff0000" stroke="#000000" stroke-width="1.30"/><path d="M588.7 132.8V139.8M586.5 132.8H590.9M586.5 139.8H590.9" stroke="#a01818" stroke-width="0.9"/><path d="M585.25 136.60H592.15M588.70 133.15V140.05" stroke="#a00000" stroke-width="1.90"/><path d="M595.1 137.8V145.3M592.9 137.8H597.3M592.9 145.3H597.3" stroke="#ff3030" stroke-width="0.9"/><rect x="592.16" y="138.56" width="5.88" height="5.88" fill="#ff0000" stroke="#000000" stroke-width="1.30"/><path d="M587.9 141.0V154.9M585.7 141.0H590.1M585.7 154.9H590.1" stroke="#f03838" stroke-width="0.9"/><rect x="584.96" y="144.66" width="5.88" height="5.88" fill="#ff0000" stroke="#a00000" stroke-width="1.30"/><path d="M589.4 135.5V142.7M587.2 135.5H591.6M587.2 142.7H591.6" stroke="#ff3030" stroke-width="0.9"/><rect x="586.46" y="135.96" width="5.88" height="5.88" fill="#ff0000" stroke="#000000" stroke-width="1.30"/><path d="M593.2 137.2V145.3M591.0 137.2H595.4M591.0 145.3H595.4" stroke="#ff3030" stroke-width="0.9"/><rect x="590.26" y="137.96" width="5.88" height="5.88" fill="#ff0000" stroke="#000000" stroke-width="1.30"/><path d="M590.3 139.2V154.7M588.1 139.2H592.5M588.1 154.7H592.5" stroke="#f03838" stroke-width="0.9"/><rect x="587.36" y="143.56" width="5.88" height="5.88" fill="#ff0000" stroke="#a00000" stroke-width="1.30"/><path d="M589.6 130.4V136.4M587.4 130.4H591.8M587.4 136.4H591.8" stroke="#ff3030" stroke-width="0.9"/><rect x="586.66" y="130.06" width="5.88" height="5.88" fill="#ff0000" stroke="#000000" stroke-width="1.30"/><path d="M587.8 135.1V146.8M585.6 135.1H590.0M585.6 146.8H590.0" stroke="#f03838" stroke-width="0.9"/><rect x="584.86" y="138.46" width="5.88" height="5.88" fill="#ff0000" stroke="#a00000" stroke-width="1.30"/><path d="M590.1 139.4V154.3M587.9 139.4H592.3M587.9 154.3H592.3" stroke="#ff3030" stroke-width="0.9"/><rect x="587.16" y="144.36" width="5.88" height="5.88" fill="#ff0000" stroke="#000000" stroke-width="1.30"/><path d="M597.3 156.6V166.6M595.1 156.6H599.5M595.1 166.6H599.5" stroke="#2a2aff" stroke-width="0.9"/><path d="M597.30 158.77L600.45 164.47L594.15 164.47Z" fill="#0000ee" stroke="#000080" stroke-width="0.70"/><path d="M600.0 140.7V149.9M597.8 140.7H602.2M597.8 149.9H602.2" stroke="#a02828" stroke-width="0.9"/><rect x="597.06" y="141.96" width="5.88" height="5.88" fill="#800000" stroke="#000000" stroke-width="1.30"/><path d="M595.7 148.8V156.2M593.5 148.8H597.9M593.5 156.2H597.9" stroke="#a030a0" stroke-width="0.9"/><path d="M595.70 149.17L598.85 154.87L592.55 154.87Z" fill="#800080" stroke="#600060" stroke-width="0.70"/><path d="M596.1 155.1V163.9M593.9 155.1H598.3M593.9 163.9H598.3" stroke="#2a2aff" stroke-width="0.9"/><path d="M596.10 156.37L599.25 162.06L592.95 162.06Z" fill="#0000ee" stroke="#000080" stroke-width="0.70"/><path d="M606.9 143.2V158.4M604.7 143.2H609.1M604.7 158.4H609.1" stroke="#a02828" stroke-width="0.9"/><rect x="603.96" y="147.66" width="5.88" height="5.88" fill="#800000" stroke="#000000" stroke-width="1.30"/><path d="M597.8 145.5V151.0M595.6 145.5H600.0M595.6 151.0H600.0" stroke="#2a2aff" stroke-width="0.9"/><path d="M597.80 145.06L600.95 150.76L594.65 150.76Z" fill="#0000ee" stroke="#000080" stroke-width="0.70"/><path d="M599.7 149.0V161.9M597.5 149.0H601.9M597.5 161.9H601.9" stroke="#2a2aff" stroke-width="0.9"/><path d="M599.70 152.17L602.85 157.87L596.55 157.87Z" fill="#0000ee" stroke="#000080" stroke-width="0.70"/><path d="M601.6 150.6V165.6M599.4 150.6H603.8M599.4 165.6H603.8" stroke="#a02828" stroke-width="0.9"/><rect x="598.66" y="154.96" width="5.88" height="5.88" fill="#800000" stroke="#000000" stroke-width="1.30"/><path d="M599.6 147.2V156.2M597.4 147.2H601.8M597.4 156.2H601.8" stroke="#a02828" stroke-width="0.9"/><rect x="596.66" y="148.86" width="5.88" height="5.88" fill="#800000" stroke="#000000" stroke-width="1.30"/><path d="M614.1 155.9V168.4M611.9 155.9H616.3M611.9 168.4H616.3" stroke="#ff3030" stroke-width="0.9"/><rect x="611.16" y="158.76" width="5.88" height="5.88" fill="#ff0000" stroke="#000000" stroke-width="1.30"/><path d="M609.9 162.2V168.6M607.7 162.2H612.1M607.7 168.6H612.1" stroke="#f03838" stroke-width="0.9"/><rect x="606.96" y="162.86" width="5.88" height="5.88" fill="#ff0000" stroke="#a00000" stroke-width="1.30"/><path d="M625.8 170.9V183.2M623.6 170.9H628.0M623.6 183.2H628.0" stroke="#ff3030" stroke-width="0.9"/><rect x="622.86" y="174.26" width="5.88" height="5.88" fill="#ff0000" stroke="#000000" stroke-width="1.30"/><path d="M620.4 160.9V166.4M618.2 160.9H622.6M618.2 166.4H622.6" stroke="#2a2aff" stroke-width="0.9"/><path d="M620.40 160.27L623.55 165.97L617.25 165.97Z" fill="#0000ee" stroke="#000080" stroke-width="0.70"/><path d="M626.0 162.2V170.0M623.8 162.2H628.2M623.8 170.0H628.2" stroke="#2a2aff" stroke-width="0.9"/><path d="M626.00 162.87L629.15 168.56L622.85 168.56Z" fill="#0000ee" stroke="#000080" stroke-width="0.70"/><path d="M623.1 158.7V169.7M620.9 158.7H625.3M620.9 169.7H625.3" stroke="#f03838" stroke-width="0.9"/><rect x="620.16" y="161.16" width="5.88" height="5.88" fill="#ff0000" stroke="#a00000" stroke-width="1.30"/><path d="M621.3 157.9V165.6M619.1 157.9H623.5M619.1 165.6H623.5" stroke="#8888a8" stroke-width="0.9"/><circle cx="621.30" cy="161.60" r="2.64" fill="#808080" stroke="#505050" stroke-width="0.70"/><path d="M610.2 169.4V180.1M608.0 169.4H612.4M608.0 180.1H612.4" stroke="#a030a0" stroke-width="0.9"/><path d="M610.20 171.67L613.35 177.37L607.05 177.37Z" fill="#800080" stroke="#600060" stroke-width="0.70"/><path d="M609.0 155.3V166.1M606.8 155.3H611.2M606.8 166.1H611.2" stroke="#8888a8" stroke-width="0.9"/><circle cx="609.00" cy="160.70" r="2.64" fill="#808080" stroke="#505050" stroke-width="0.70"/><path d="M625.0 148.4V158.7M622.8 148.4H627.2M622.8 158.7H627.2" stroke="#a030a0" stroke-width="0.9"/><path d="M625.00 150.27L628.15 155.97L621.85 155.97Z" fill="#800080" stroke="#600060" stroke-width="0.70"/><path d="M625.3 174.9V184.8M623.1 174.9H627.5M623.1 184.8H627.5" stroke="#ff3030" stroke-width="0.9"/><rect x="622.36" y="176.56" width="5.88" height="5.88" fill="#ff0000" stroke="#000000" stroke-width="1.30"/><path d="M625.1 147.1V153.0M622.9 147.1H627.3M622.9 153.0H627.3" stroke="#f03838" stroke-width="0.9"/><rect x="622.16" y="147.26" width="5.88" height="5.88" fill="#ff0000" stroke="#a00000" stroke-width="1.30"/><path d="M624.7 159.7V170.1M622.5 159.7H626.9M622.5 170.1H626.9" stroke="#ff3030" stroke-width="0.9"/><rect x="621.76" y="161.46" width="5.88" height="5.88" fill="#ff0000" stroke="#000000" stroke-width="1.30"/><path d="M621.8 156.2V168.9M619.6 156.2H624.0M619.6 168.9H624.0" stroke="#a030a0" stroke-width="0.9"/><path d="M621.80 159.77L624.95 165.47L618.65 165.47Z" fill="#800080" stroke="#600060" stroke-width="0.70"/><path d="M621.4 156.8V165.5M619.2 156.8H623.6M619.2 165.5H623.6" stroke="#f03838" stroke-width="0.9"/><rect x="618.46" y="158.36" width="5.88" height="5.88" fill="#ff0000" stroke="#a00000" stroke-width="1.30"/><path d="M613.3 145.3V150.3M611.1 145.3H615.5M611.1 150.3H615.5" stroke="#a030a0" stroke-width="0.9"/><circle cx="613.30" cy="148.10" r="2.64" fill="#800080" stroke="#600060" stroke-width="0.70"/><path d="M622.4 149.3V162.7M620.2 149.3H624.6M620.2 162.7H624.6" stroke="#f03838" stroke-width="0.9"/><rect x="619.46" y="153.46" width="5.88" height="5.88" fill="#ff0000" stroke="#a00000" stroke-width="1.30"/><path d="M620.2 163.1V177.1M618.0 163.1H622.4M618.0 177.1H622.4" stroke="#a02828" stroke-width="0.9"/><rect x="617.26" y="167.06" width="5.88" height="5.88" fill="#800000" stroke="#000000" stroke-width="1.30"/><path d="M613.0 145.5V157.9M610.8 145.5H615.2M610.8 157.9H615.2" stroke="#f03838" stroke-width="0.9"/><rect x="610.06" y="148.96" width="5.88" height="5.88" fill="#ff0000" stroke="#a00000" stroke-width="1.30"/><path d="M614.0 167.8V177.2M611.8 167.8H616.2M611.8 177.2H616.2" stroke="#f03838" stroke-width="0.9"/><rect x="611.06" y="169.46" width="5.88" height="5.88" fill="#ff0000" stroke="#a00000" stroke-width="1.30"/><path d="M628.0 158.1V167.5M625.8 158.1H630.2M625.8 167.5H630.2" stroke="#a030a0" stroke-width="0.9"/><path d="M628.00 159.47L631.15 165.16L624.85 165.16Z" fill="#800080" stroke="#600060" stroke-width="0.70"/><path d="M611.9 151.3V162.1M609.7 151.3H614.1M609.7 162.1H614.1" stroke="#f03838" stroke-width="0.9"/><rect x="608.96" y="153.76" width="5.88" height="5.88" fill="#ff0000" stroke="#a00000" stroke-width="1.30"/><path d="M627.3 160.0V170.0M625.1 160.0H629.5M625.1 170.0H629.5" stroke="#a030a0" stroke-width="0.9"/><circle cx="627.30" cy="165.00" r="2.64" fill="#800080" stroke="#600060" stroke-width="0.70"/><path d="M625.7 157.0V166.8M623.5 157.0H627.9M623.5 166.8H627.9" stroke="#9090a8" stroke-width="0.9"/><path d="M625.70 165.03L628.85 159.34L622.55 159.34Z" fill="#808080" stroke="#606060" stroke-width="0.70"/><path d="M616.8 170.5V179.0M614.6 170.5H619.0M614.6 179.0H619.0" stroke="#a030a0" stroke-width="0.9"/><path d="M616.80 172.06L619.95 177.76L613.65 177.76Z" fill="#800080" stroke="#600060" stroke-width="0.70"/><path d="M621.4 166.3V172.0M619.2 166.3H623.6M619.2 172.0H623.6" stroke="#a030a0" stroke-width="0.9"/><path d="M621.40 166.27L624.55 171.97L618.25 171.97Z" fill="#800080" stroke="#600060" stroke-width="0.70"/><path d="M605.1 161.0V174.4M602.9 161.0H607.3M602.9 174.4H607.3" stroke="#ff3030" stroke-width="0.9"/><rect x="602.16" y="164.66" width="5.88" height="5.88" fill="#ff0000" stroke="#000000" stroke-width="1.30"/><path d="M604.5 169.1V175.1M602.3 169.1H606.7M602.3 175.1H606.7" stroke="#a02828" stroke-width="0.9"/><rect x="601.56" y="168.96" width="5.88" height="5.88" fill="#800000" stroke="#000000" stroke-width="1.30"/><path d="M614.3 165.9V179.8M612.1 165.9H616.5M612.1 179.8H616.5" stroke="#a030a0" stroke-width="0.9"/><path d="M614.30 170.06L617.45 175.76L611.15 175.76Z" fill="#800080" stroke="#600060" stroke-width="0.70"/><path d="M612.0 154.6V162.1M609.8 154.6H614.2M609.8 162.1H614.2" stroke="#2a2aff" stroke-width="0.9"/><path d="M612.00 155.47L615.15 161.16L608.85 161.16Z" fill="#0000ee" stroke="#000080" stroke-width="0.70"/><path d="M611.5 157.5V168.0M609.3 157.5H613.7M609.3 168.0H613.7" stroke="#a030a0" stroke-width="0.9"/><circle cx="611.50" cy="162.80" r="2.64" fill="#800080" stroke="#600060" stroke-width="0.70"/><path d="M604.4 157.0V170.9M602.2 157.0H606.6M602.2 170.9H606.6" stroke="#a030a0" stroke-width="0.9"/><path d="M604.40 161.06L607.55 166.76L601.25 166.76Z" fill="#800080" stroke="#600060" stroke-width="0.70"/><path d="M608.5 148.2V158.3M606.3 148.2H610.7M606.3 158.3H610.7" stroke="#f03838" stroke-width="0.9"/><rect x="605.56" y="150.36" width="5.88" height="5.88" fill="#ff0000" stroke="#a00000" stroke-width="1.30"/><path d="M618.8 157.3V172.6M616.6 157.3H621.0M616.6 172.6H621.0" stroke="#f03838" stroke-width="0.9"/><rect x="615.86" y="161.96" width="5.88" height="5.88" fill="#ff0000" stroke="#a00000" stroke-width="1.30"/><path d="M604.4 154.5V165.4M602.2 154.5H606.6M602.2 165.4H606.6" stroke="#a02828" stroke-width="0.9"/><rect x="601.46" y="157.16" width="5.88" height="5.88" fill="#800000" stroke="#000000" stroke-width="1.30"/><path d="M610.4 162.6V176.6M608.2 162.6H612.6M608.2 176.6H612.6" stroke="#a030a0" stroke-width="0.9"/><path d="M610.40 166.37L613.55 172.06L607.25 172.06Z" fill="#800080" stroke="#600060" stroke-width="0.70"/><path d="M643.6 176.7V182.2M641.4 176.7H645.8M641.4 182.2H645.8" stroke="#9090a8" stroke-width="0.9"/><path d="M643.60 182.63L646.75 176.94L640.45 176.94Z" fill="#808080" stroke="#606060" stroke-width="0.70"/><path d="M649.2 152.9V163.8M647.0 152.9H651.4M647.0 163.8H651.4" stroke="#ff3030" stroke-width="0.9"/><rect x="646.26" y="155.76" width="5.88" height="5.88" fill="#ff0000" stroke="#000000" stroke-width="1.30"/><path d="M657.7 167.3V180.1M655.5 167.3H659.9M655.5 180.1H659.9" stroke="#a030a0" stroke-width="0.9"/><circle cx="657.70" cy="173.50" r="2.64" fill="#800080" stroke="#600060" stroke-width="0.70"/><path d="M638.8 155.8V170.3M636.6 155.8H641.0M636.6 170.3H641.0" stroke="#f03838" stroke-width="0.9"/><rect x="635.86" y="160.36" width="5.88" height="5.88" fill="#ff0000" stroke="#a00000" stroke-width="1.30"/><path d="M633.0 154.1V164.0M630.8 154.1H635.2M630.8 164.0H635.2" stroke="#9090a8" stroke-width="0.9"/><path d="M633.00 162.03L636.15 156.34L629.85 156.34Z" fill="#808080" stroke="#606060" stroke-width="0.70"/><path d="M637.7 179.5V185.5M635.5 179.5H639.9M635.5 185.5H639.9" stroke="#f03838" stroke-width="0.9"/><rect x="634.76" y="179.36" width="5.88" height="5.88" fill="#ff0000" stroke="#a00000" stroke-width="1.30"/><path d="M631.3 168.4V179.4M629.1 168.4H633.5M629.1 179.4H633.5" stroke="#f03838" stroke-width="0.9"/><rect x="628.36" y="171.16" width="5.88" height="5.88" fill="#ff0000" stroke="#a00000" stroke-width="1.30"/><path d="M646.8 155.6V169.1M644.6 155.6H649.0M644.6 169.1H649.0" stroke="#a02828" stroke-width="0.9"/><rect x="643.86" y="159.76" width="5.88" height="5.88" fill="#800000" stroke="#000000" stroke-width="1.30"/><path d="M654.0 175.5V185.0M651.8 175.5H656.2M651.8 185.0H656.2" stroke="#ff3030" stroke-width="0.9"/><rect x="651.06" y="177.16" width="5.88" height="5.88" fill="#ff0000" stroke="#000000" stroke-width="1.30"/><path d="M636.7 155.7V168.6M634.5 155.7H638.9M634.5 168.6H638.9" stroke="#a030a0" stroke-width="0.9"/><circle cx="636.70" cy="162.20" r="2.64" fill="#800080" stroke="#600060" stroke-width="0.70"/><path d="M650.4 152.6V168.8M648.2 152.6H652.6M648.2 168.8H652.6" stroke="#ff3030" stroke-width="0.9"/><rect x="647.46" y="157.26" width="5.88" height="5.88" fill="#ff0000" stroke="#000000" stroke-width="1.30"/><path d="M658.2 158.0V171.2M656.0 158.0H660.4M656.0 171.2H660.4" stroke="#a02828" stroke-width="0.9"/><rect x="655.26" y="161.66" width="5.88" height="5.88" fill="#800000" stroke="#000000" stroke-width="1.30"/><path d="M657.9 148.5V160.2M655.7 148.5H660.1M655.7 160.2H660.1" stroke="#9090a8" stroke-width="0.9"/><path d="M657.90 157.44L661.05 151.74L654.75 151.74Z" fill="#808080" stroke="#606060" stroke-width="0.70"/><path d="M632.7 145.3V159.0M630.5 145.3H634.9M630.5 159.0H634.9" stroke="#9090a8" stroke-width="0.9"/><path d="M632.70 155.53L635.85 149.84L629.55 149.84Z" fill="#808080" stroke="#606060" stroke-width="0.70"/><path d="M657.7 149.8V159.5M655.5 149.8H659.9M655.5 159.5H659.9" stroke="#2a2aff" stroke-width="0.9"/><path d="M657.70 151.06L660.85 156.76L654.55 156.76Z" fill="#0000ee" stroke="#000080" stroke-width="0.70"/><path d="M649.7 146.7V154.9M647.5 146.7H651.9M647.5 154.9H651.9" stroke="#8888a8" stroke-width="0.9"/><circle cx="649.70" cy="150.60" r="2.64" fill="#808080" stroke="#505050" stroke-width="0.70"/><path d="M635.4 167.1V177.5M633.2 167.1H637.6M633.2 177.5H637.6" stroke="#ff3030" stroke-width="0.9"/><rect x="632.46" y="169.76" width="5.88" height="5.88" fill="#ff0000" stroke="#000000" stroke-width="1.30"/><path d="M646.5 174.6V180.0M644.3 174.6H648.7M644.3 180.0H648.7" stroke="#a030a0" stroke-width="0.9"/><circle cx="646.50" cy="177.30" r="2.64" fill="#800080" stroke="#600060" stroke-width="0.70"/><path d="M632.9 161.5V170.1M630.7 161.5H635.1M630.7 170.1H635.1" stroke="#a030a0" stroke-width="0.9"/><circle cx="632.90" cy="165.90" r="2.64" fill="#800080" stroke="#600060" stroke-width="0.70"/><path d="M649.9 147.3V156.6M647.7 147.3H652.1M647.7 156.6H652.1" stroke="#9090a8" stroke-width="0.9"/><path d="M649.90 154.73L653.05 149.03L646.75 149.03Z" fill="#808080" stroke="#606060" stroke-width="0.70"/><path d="M656.2 153.7V167.6M654.0 153.7H658.4M654.0 167.6H658.4" stroke="#ff3030" stroke-width="0.9"/><rect x="653.26" y="158.06" width="5.88" height="5.88" fill="#ff0000" stroke="#000000" stroke-width="1.30"/><path d="M644.9 158.8V165.7M642.7 158.8H647.1M642.7 165.7H647.1" stroke="#a030a0" stroke-width="0.9"/><circle cx="644.90" cy="162.20" r="2.64" fill="#800080" stroke="#600060" stroke-width="0.70"/><path d="M645.2 154.7V161.2M643.0 154.7H647.4M643.0 161.2H647.4" stroke="#8888a8" stroke-width="0.9"/><circle cx="645.20" cy="158.30" r="2.64" fill="#808080" stroke="#505050" stroke-width="0.70"/><path d="M637.2 175.8V181.9M635.0 175.8H639.4M635.0 181.9H639.4" stroke="#9090a8" stroke-width="0.9"/><path d="M637.20 181.53L640.35 175.84L634.05 175.84Z" fill="#808080" stroke="#606060" stroke-width="0.70"/><path d="M644.7 173.2V181.3M642.5 173.2H646.9M642.5 181.3H646.9" stroke="#a030a0" stroke-width="0.9"/><path d="M644.70 173.87L647.85 179.56L641.55 179.56Z" fill="#800080" stroke="#600060" stroke-width="0.70"/><path d="M634.6 147.3V157.5M632.4 147.3H636.8M632.4 157.5H636.8" stroke="#8888a8" stroke-width="0.9"/><circle cx="634.60" cy="152.60" r="2.64" fill="#808080" stroke="#505050" stroke-width="0.70"/><path d="M656.7 149.7V161.8M654.5 149.7H658.9M654.5 161.8H658.9" stroke="#f03838" stroke-width="0.9"/><rect x="653.76" y="152.56" width="5.88" height="5.88" fill="#ff0000" stroke="#a00000" stroke-width="1.30"/><path d="M651.3 141.8V156.7M649.1 141.8H653.5M649.1 156.7H653.5" stroke="#a030a0" stroke-width="0.9"/><circle cx="651.30" cy="149.70" r="2.64" fill="#800080" stroke="#600060" stroke-width="0.70"/><path d="M648.5 170.7V184.6M646.3 170.7H650.7M646.3 184.6H650.7" stroke="#a02828" stroke-width="0.9"/><rect x="645.56" y="174.76" width="5.88" height="5.88" fill="#800000" stroke="#000000" stroke-width="1.30"/><path d="M657.6 154.0V162.6M655.4 154.0H659.8M655.4 162.6H659.8" stroke="#8888a8" stroke-width="0.9"/><circle cx="657.60" cy="158.70" r="2.64" fill="#808080" stroke="#505050" stroke-width="0.70"/><path d="M637.3 172.5V180.6M635.1 172.5H639.5M635.1 180.6H639.5" stroke="#f03838" stroke-width="0.9"/><rect x="634.36" y="173.96" width="5.88" height="5.88" fill="#ff0000" stroke="#a00000" stroke-width="1.30"/><path d="M635.9 147.8V164.4M633.7 147.8H638.1M633.7 164.4H638.1" stroke="#2a2aff" stroke-width="0.9"/><path d="M635.90 152.67L639.05 158.37L632.75 158.37Z" fill="#0000ee" stroke="#000080" stroke-width="0.70"/><path d="M644.4 164.6V178.1M642.2 164.6H646.6M642.2 178.1H646.6" stroke="#9090a8" stroke-width="0.9"/><path d="M644.40 174.33L647.55 168.63L641.25 168.63Z" fill="#808080" stroke="#606060" stroke-width="0.70"/><path d="M636.0 173.1V179.5M633.8 173.1H638.2M633.8 179.5H638.2" stroke="#a030a0" stroke-width="0.9"/><path d="M636.00 172.97L639.15 178.66L632.85 178.66Z" fill="#800080" stroke="#600060" stroke-width="0.70"/><path d="M640.5 157.2V169.7M638.3 157.2H642.7M638.3 169.7H642.7" stroke="#a030a0" stroke-width="0.9"/><path d="M640.50 160.67L643.65 166.37L637.35 166.37Z" fill="#800080" stroke="#600060" stroke-width="0.70"/><path d="M654.9 179.5V194.3M652.7 179.5H657.1M652.7 194.3H657.1" stroke="#a030a0" stroke-width="0.9"/><path d="M654.90 183.47L658.05 189.16L651.75 189.16Z" fill="#800080" stroke="#600060" stroke-width="0.70"/><path d="M647.7 162.7V176.9M645.5 162.7H649.9M645.5 176.9H649.9" stroke="#a030a0" stroke-width="0.9"/><path d="M647.70 166.87L650.85 172.56L644.55 172.56Z" fill="#800080" stroke="#600060" stroke-width="0.70"/><path d="M658.8 167.0V183.2M656.6 167.0H661.0M656.6 183.2H661.0" stroke="#ff3030" stroke-width="0.9"/><rect x="655.86" y="171.86" width="5.88" height="5.88" fill="#ff0000" stroke="#000000" stroke-width="1.30"/><path d="M637.6 168.3V177.8M635.4 168.3H639.8M635.4 177.8H639.8" stroke="#f03838" stroke-width="0.9"/><rect x="634.66" y="170.36" width="5.88" height="5.88" fill="#ff0000" stroke="#a00000" stroke-width="1.30"/><path d="M644.8 177.7V187.6M642.6 177.7H647.0M642.6 187.6H647.0" stroke="#a030a0" stroke-width="0.9"/><path d="M644.80 179.27L647.95 184.97L641.65 184.97Z" fill="#800080" stroke="#600060" stroke-width="0.70"/><path d="M682.2 186.1V194.7M680.0 186.1H684.4M680.0 194.7H684.4" stroke="#a02828" stroke-width="0.9"/><rect x="679.26" y="187.86" width="5.88" height="5.88" fill="#800000" stroke="#000000" stroke-width="1.30"/><path d="M678.3 180.7V195.5M676.1 180.7H680.5M676.1 195.5H680.5" stroke="#a030a0" stroke-width="0.9"/><path d="M678.30 184.67L681.45 190.37L675.15 190.37Z" fill="#800080" stroke="#600060" stroke-width="0.70"/><path d="M660.1 170.3V184.1M657.9 170.3H662.3M657.9 184.1H662.3" stroke="#209020" stroke-width="0.9"/><rect x="657.16" y="174.36" width="5.88" height="5.88" fill="#008000" stroke="#000000" stroke-width="1.30"/><path d="M676.9 175.5V185.0M674.7 175.5H679.1M674.7 185.0H679.1" stroke="#209020" stroke-width="0.9"/><rect x="673.96" y="176.96" width="5.88" height="5.88" fill="#008000" stroke="#000000" stroke-width="1.30"/><path d="M677.3 167.5V180.1M675.1 167.5H679.5M675.1 180.1H679.5" stroke="#209020" stroke-width="0.9"/><rect x="674.36" y="170.96" width="5.88" height="5.88" fill="#000000" stroke="#008000" stroke-width="1.60"/><path d="M678.5 182.2V188.3M676.3 182.2H680.7M676.3 188.3H680.7" stroke="#a030a0" stroke-width="0.9"/><path d="M678.50 181.77L681.65 187.47L675.35 187.47Z" fill="#800080" stroke="#600060" stroke-width="0.70"/><path d="M665.2 178.8V187.0M663.0 178.8H667.4M663.0 187.0H667.4" stroke="#a030a0" stroke-width="0.9"/><circle cx="665.20" cy="182.50" r="2.64" fill="#800080" stroke="#600060" stroke-width="0.70"/><path d="M677.1 181.7V197.3M674.9 181.7H679.3M674.9 197.3H679.3" stroke="#a030a0" stroke-width="0.9"/><circle cx="677.10" cy="189.50" r="2.64" fill="#800080" stroke="#600060" stroke-width="0.70"/><path d="M687.7 174.1V183.9M685.5 174.1H689.9M685.5 183.9H689.9" stroke="#209020" stroke-width="0.9"/><rect x="684.76" y="176.56" width="5.88" height="5.88" fill="#008000" stroke="#000000" stroke-width="1.30"/><path d="M664.9 187.3V194.8M662.7 187.3H667.1M662.7 194.8H667.1" stroke="#a02828" stroke-width="0.9"/><rect x="661.96" y="188.26" width="5.88" height="5.88" fill="#800000" stroke="#000000" stroke-width="1.30"/><path d="M662.8 182.7V192.7M660.6 182.7H665.0M660.6 192.7H665.0" stroke="#a030a0" stroke-width="0.9"/><circle cx="662.80" cy="187.30" r="2.64" fill="#800080" stroke="#600060" stroke-width="0.70"/><path d="M685.0 176.7V187.5M682.8 176.7H687.2M682.8 187.5H687.2" stroke="#a030a0" stroke-width="0.9"/><path d="M685.00 178.47L688.15 184.16L681.85 184.16Z" fill="#800080" stroke="#600060" stroke-width="0.70"/><path d="M670.1 181.8V192.9M667.9 181.8H672.3M667.9 192.9H672.3" stroke="#a030a0" stroke-width="0.9"/><circle cx="670.10" cy="187.20" r="2.64" fill="#800080" stroke="#600060" stroke-width="0.70"/><path d="M685.4 178.3V184.6M683.2 178.3H687.6M683.2 184.6H687.6" stroke="#9090a8" stroke-width="0.9"/><path d="M685.40 184.23L688.55 178.53L682.25 178.53Z" fill="#808080" stroke="#606060" stroke-width="0.70"/><path d="M679.1 175.7V191.0M676.9 175.7H681.3M676.9 191.0H681.3" stroke="#a030a0" stroke-width="0.9"/><path d="M679.10 179.97L682.25 185.66L675.95 185.66Z" fill="#800080" stroke="#600060" stroke-width="0.70"/><path d="M681.0 163.4V179.6M678.8 163.4H683.2M678.8 179.6H683.2" stroke="#209020" stroke-width="0.9"/><rect x="678.06" y="168.16" width="5.88" height="5.88" fill="#008000" stroke="#000000" stroke-width="1.30"/><path d="M664.0 180.4V190.3M661.8 180.4H666.2M661.8 190.3H666.2" stroke="#209020" stroke-width="0.9"/><rect x="661.06" y="182.16" width="5.88" height="5.88" fill="#008000" stroke="#000000" stroke-width="1.30"/><path d="M678.0 175.2V186.0M675.8 175.2H680.2M675.8 186.0H680.2" stroke="#209020" stroke-width="0.9"/><rect x="675.06" y="177.76" width="5.88" height="5.88" fill="#000000" stroke="#008000" stroke-width="1.60"/><path d="M687.4 184.1V194.2M685.2 184.1H689.6M685.2 194.2H689.6" stroke="#a030a0" stroke-width="0.9"/><path d="M687.40 185.56L690.55 191.26L684.25 191.26Z" fill="#800080" stroke="#600060" stroke-width="0.70"/><path d="M679.9 178.4V190.4M677.7 178.4H682.1M677.7 190.4H682.1" stroke="#209020" stroke-width="0.9"/><rect x="676.96" y="181.16" width="5.88" height="5.88" fill="#008000" stroke="#000000" stroke-width="1.30"/><path d="M682.2 168.3V182.2M680.0 168.3H684.4M680.0 182.2H684.4" stroke="#a030a0" stroke-width="0.9"/><circle cx="682.20" cy="175.60" r="2.64" fill="#800080" stroke="#600060" stroke-width="0.70"/><path d="M680.7 169.7V177.7M678.5 169.7H682.9M678.5 177.7H682.9" stroke="#209020" stroke-width="0.9"/><rect x="677.76" y="170.86" width="5.88" height="5.88" fill="#008000" stroke="#000000" stroke-width="1.30"/><path d="M687.1 181.1V195.9M684.9 181.1H689.3M684.9 195.9H689.3" stroke="#209020" stroke-width="0.9"/><rect x="684.16" y="185.86" width="5.88" height="5.88" fill="#000000" stroke="#008000" stroke-width="1.60"/><path d="M669.0 172.5V181.6M666.8 172.5H671.2M666.8 181.6H671.2" stroke="#209020" stroke-width="0.9"/><rect x="666.06" y="174.26" width="5.88" height="5.88" fill="#000000" stroke="#008000" stroke-width="1.60"/><path d="M687.0 169.6V180.3M684.8 169.6H689.2M684.8 180.3H689.2" stroke="#202020" stroke-width="0.9"/><path d="M683.55 174.60H690.45M687.00 171.15V178.05" stroke="#000000" stroke-width="1.90"/><path d="M677.8 179.6V192.9M675.6 179.6H680.0M675.6 192.9H680.0" stroke="#209020" stroke-width="0.9"/><rect x="674.86" y="183.36" width="5.88" height="5.88" fill="#008000" stroke="#000000" stroke-width="1.30"/><path d="M675.6 184.1V193.9M673.4 184.1H677.8M673.4 193.9H677.8" stroke="#209020" stroke-width="0.9"/><rect x="672.66" y="185.66" width="5.88" height="5.88" fill="#000000" stroke="#008000" stroke-width="1.60"/><path d="M674.8 172.8V185.3M672.6 172.8H677.0M672.6 185.3H677.0" stroke="#209020" stroke-width="0.9"/><rect x="671.86" y="176.56" width="5.88" height="5.88" fill="#000000" stroke="#008000" stroke-width="1.60"/><path d="M683.1 178.4V185.8M680.9 178.4H685.3M680.9 185.8H685.3" stroke="#202020" stroke-width="0.9"/><path d="M679.65 182.40H686.55M683.10 178.95V185.85" stroke="#000000" stroke-width="1.90"/><path d="M662.0 181.3V191.5M659.8 181.3H664.2M659.8 191.5H664.2" stroke="#a030a0" stroke-width="0.9"/><path d="M662.00 182.97L665.15 188.66L658.85 188.66Z" fill="#800080" stroke="#600060" stroke-width="0.70"/><path d="M692.4 177.1V189.5M690.2 177.1H694.6M690.2 189.5H694.6" stroke="#8888a8" stroke-width="0.9"/><circle cx="692.40" cy="183.10" r="2.64" fill="#808080" stroke="#505050" stroke-width="0.70"/><path d="M707.0 182.4V191.0M704.8 182.4H709.2M704.8 191.0H709.2" stroke="#9090a8" stroke-width="0.9"/><path d="M707.00 189.94L710.15 184.24L703.85 184.24Z" fill="#808080" stroke="#606060" stroke-width="0.70"/><path d="M707.7 174.7V185.6M705.5 174.7H709.9M705.5 185.6H709.9" stroke="#8888a8" stroke-width="0.9"/><circle cx="707.70" cy="180.10" r="2.64" fill="#808080" stroke="#505050" stroke-width="0.70"/><path d="M704.7 185.6V191.2M702.5 185.6H706.9M702.5 191.2H706.9" stroke="#9090a8" stroke-width="0.9"/><path d="M704.70 191.63L707.85 185.94L701.55 185.94Z" fill="#808080" stroke="#606060" stroke-width="0.70"/><path d="M701.0 187.3V196.9M698.8 187.3H703.2M698.8 196.9H703.2" stroke="#9090a8" stroke-width="0.9"/><path d="M701.00 195.13L704.15 189.44L697.85 189.44Z" fill="#808080" stroke="#606060" stroke-width="0.70"/><path d="M696.0 189.5V196.5M693.8 189.5H698.2M693.8 196.5H698.2" stroke="#8888a8" stroke-width="0.9"/><circle cx="696.00" cy="192.80" r="2.64" fill="#808080" stroke="#505050" stroke-width="0.70"/><path d="M706.6 181.6V195.4M704.4 181.6H708.8M704.4 195.4H708.8" stroke="#8888a8" stroke-width="0.9"/><circle cx="706.60" cy="188.20" r="2.64" fill="#808080" stroke="#505050" stroke-width="0.70"/><path d="M704.3 181.7V194.7M702.1 181.7H706.5M702.1 194.7H706.5" stroke="#9090a8" stroke-width="0.9"/><path d="M704.30 191.23L707.45 185.53L701.15 185.53Z" fill="#808080" stroke="#606060" stroke-width="0.70"/><path d="M696.1 174.9V182.3M693.9 174.9H698.3M693.9 182.3H698.3" stroke="#9090a8" stroke-width="0.9"/><path d="M696.10 182.03L699.25 176.34L692.95 176.34Z" fill="#808080" stroke="#606060" stroke-width="0.70"/><path d="M718.3 168.9V182.4M716.1 168.9H720.5M716.1 182.4H720.5" stroke="#3434c8" stroke-width="0.9"/><path d="M718.30 178.94L721.45 173.24L715.15 173.24Z" fill="#000080" stroke="#000040" stroke-width="0.70"/><path d="M731.6 174.6V179.9M729.4 174.6H733.8M729.4 179.9H733.8" stroke="#3030ff" stroke-width="0.9"/><path d="M731.60 173.97L734.75 179.66L728.45 179.66Z" fill="#0000ff" stroke="#0000a0" stroke-width="0.70"/><path d="M715.9 167.3V179.1M713.7 167.3H718.1M713.7 179.1H718.1" stroke="#2a2aff" stroke-width="0.9"/><path d="M715.90 169.77L719.05 175.47L712.75 175.47Z" fill="#0000ee" stroke="#000080" stroke-width="0.70"/><path d="M713.1 180.0V191.6M710.9 180.0H715.3M710.9 191.6H715.3" stroke="#3030ff" stroke-width="0.9"/><rect x="710.16" y="183.06" width="5.88" height="5.88" fill="#0000ff" stroke="#0000a0" stroke-width="1.30"/><path d="M721.3 177.8V185.7M719.1 177.8H723.5M719.1 185.7H723.5" stroke="#3434c8" stroke-width="0.9"/><path d="M721.30 178.34L724.36 181.40L721.30 184.46L718.24 181.40Z" fill="#000080" stroke="#000060" stroke-width="0.70"/><path d="M734.6 175.8V181.2M732.4 175.8H736.8M732.4 181.2H736.8" stroke="#3434c8" stroke-width="0.9"/><path d="M734.60 175.44L737.66 178.50L734.60 181.56L731.54 178.50Z" fill="#000080" stroke="#000060" stroke-width="0.70"/><path d="M723.9 168.9V180.1M721.7 168.9H726.1M721.7 180.1H726.1" stroke="#3434c8" stroke-width="0.9"/><path d="M723.90 171.54L726.96 174.60L723.90 177.66L720.84 174.60Z" fill="#000080" stroke="#000060" stroke-width="0.70"/><path d="M726.3 173.9V190.5M724.1 173.9H728.5M724.1 190.5H728.5" stroke="#3434c8" stroke-width="0.9"/><path d="M726.30 185.03L729.45 179.34L723.15 179.34Z" fill="#000080" stroke="#000040" stroke-width="0.70"/><path d="M738.9 179.5V189.0M736.7 179.5H741.1M736.7 189.0H741.1" stroke="#3030ff" stroke-width="0.9"/><rect x="735.96" y="181.66" width="5.88" height="5.88" fill="#0000ff" stroke="#0000a0" stroke-width="1.30"/><path d="M724.7 185.1V193.3M722.5 185.1H726.9M722.5 193.3H726.9" stroke="#2a2aff" stroke-width="0.9"/><path d="M724.70 186.37L727.85 192.06L721.55 192.06Z" fill="#0000ee" stroke="#000080" stroke-width="0.70"/><path d="M723.3 169.3V179.8M721.1 169.3H725.5M721.1 179.8H725.5" stroke="#3434c8" stroke-width="0.9"/><path d="M723.30 171.54L726.36 174.60L723.30 177.66L720.24 174.60Z" fill="#000080" stroke="#000060" stroke-width="0.70"/><path d="M717.5 178.6V190.2M715.3 178.6H719.7M715.3 190.2H719.7" stroke="#3030ff" stroke-width="0.9"/><rect x="714.56" y="181.26" width="5.88" height="5.88" fill="#0000ff" stroke="#0000a0" stroke-width="1.30"/><path d="M739.2 187.2V200.6M737.0 187.2H741.4M737.0 200.6H741.4" stroke="#3434c8" stroke-width="0.9"/><path d="M739.20 196.83L742.35 191.13L736.05 191.13Z" fill="#000080" stroke="#000040" stroke-width="0.70"/><path d="M713.8 164.3V177.5M711.6 164.3H716.0M711.6 177.5H716.0" stroke="#3434c8" stroke-width="0.9"/><path d="M713.80 173.94L716.95 168.24L710.65 168.24Z" fill="#000080" stroke="#000040" stroke-width="0.70"/><path d="M746.6 153.4V169.0M744.4 153.4H748.8M744.4 169.0H748.8" stroke="#3434c8" stroke-width="0.9"/><path d="M746.60 158.34L749.66 161.40L746.60 164.46L743.54 161.40Z" fill="#000080" stroke="#000060" stroke-width="0.70"/><path d="M741.1 151.9V165.6M738.9 151.9H743.3M738.9 165.6H743.3" stroke="#3434c8" stroke-width="0.9"/><path d="M741.10 161.94L744.25 156.24L737.95 156.24Z" fill="#000080" stroke="#000040" stroke-width="0.70"/><path d="M742.6 148.5V159.7M740.4 148.5H744.8M740.4 159.7H744.8" stroke="#3434c8" stroke-width="0.9"/><path d="M742.60 150.54L745.66 153.60L742.60 156.66L739.54 153.60Z" fill="#000080" stroke="#000060" stroke-width="0.70"/><path d="M762.8 176.5V182.1M760.6 176.5H765.0M760.6 182.1H765.0" stroke="#3434c8" stroke-width="0.9"/><path d="M762.80 182.83L765.95 177.13L759.65 177.13Z" fill="#000080" stroke="#000040" stroke-width="0.70"/><path d="M754.1 164.2V170.2M751.9 164.2H756.3M751.9 170.2H756.3" stroke="#3030ff" stroke-width="0.9"/><rect x="751.16" y="163.86" width="5.88" height="5.88" fill="#0000ff" stroke="#0000a0" stroke-width="1.30"/><path d="M757.8 185.5V198.3M755.6 185.5H760.0M755.6 198.3H760.0" stroke="#2a2aff" stroke-width="0.9"/><path d="M757.80 188.87L760.95 194.56L754.65 194.56Z" fill="#0000ee" stroke="#000080" stroke-width="0.70"/><path d="M760.3 172.2V179.7M758.1 172.2H762.5M758.1 179.7H762.5" stroke="#3030ff" stroke-width="0.9"/><rect x="757.36" y="172.96" width="5.88" height="5.88" fill="#0000ff" stroke="#0000a0" stroke-width="1.30"/><path d="M749.5 155.9V165.1M747.3 155.9H751.7M747.3 165.1H751.7" stroke="#3434c8" stroke-width="0.9"/><path d="M749.50 157.94L752.56 161.00L749.50 164.06L746.44 161.00Z" fill="#000080" stroke="#000060" stroke-width="0.70"/><path d="M762.2 159.6V172.2M760.0 159.6H764.4M760.0 172.2H764.4" stroke="#3030ff" stroke-width="0.9"/><path d="M762.20 162.37L765.35 168.06L759.05 168.06Z" fill="#0000ff" stroke="#0000a0" stroke-width="0.70"/><path d="M752.1 163.3V178.0M749.9 163.3H754.3M749.9 178.0H754.3" stroke="#3030ff" stroke-width="0.9"/><rect x="749.16" y="167.86" width="5.88" height="5.88" fill="#0000ff" stroke="#0000a0" stroke-width="1.30"/><path d="M742.6 163.1V173.3M740.4 163.1H744.8M740.4 173.3H744.8" stroke="#3030ff" stroke-width="0.9"/><rect x="739.66" y="165.16" width="5.88" height="5.88" fill="#0000ff" stroke="#0000a0" stroke-width="1.30"/><path d="M755.9 169.9V182.0M753.7 169.9H758.1M753.7 182.0H758.1" stroke="#3030ff" stroke-width="0.9"/><rect x="752.96" y="173.46" width="5.88" height="5.88" fill="#0000ff" stroke="#0000a0" stroke-width="1.30"/><path d="M776.8 151.4V159.3M774.6 151.4H779.0M774.6 159.3H779.0" stroke="#3434c8" stroke-width="0.9"/><path d="M776.80 158.33L779.95 152.63L773.65 152.63Z" fill="#000080" stroke="#000040" stroke-width="0.70"/><path d="M782.3 144.9V155.6M780.1 144.9H784.5M780.1 155.6H784.5" stroke="#3030ff" stroke-width="0.9"/><path d="M782.30 147.56L785.45 153.26L779.15 153.26Z" fill="#0000ff" stroke="#0000a0" stroke-width="0.70"/><path d="M771.0 156.9V171.2M768.8 156.9H773.2M768.8 171.2H773.2" stroke="#3030ff" stroke-width="0.9"/><rect x="768.06" y="160.76" width="5.88" height="5.88" fill="#0000ff" stroke="#0000a0" stroke-width="1.30"/><path d="M780.8 147.9V164.3M778.6 147.9H783.0M778.6 164.3H783.0" stroke="#3030ff" stroke-width="0.9"/><rect x="777.86" y="152.86" width="5.88" height="5.88" fill="#0000ff" stroke="#0000a0" stroke-width="1.30"/><path d="M766.0 138.2V146.0M763.8 138.2H768.2M763.8 146.0H768.2" stroke="#3434c8" stroke-width="0.9"/><path d="M766.00 138.84L769.06 141.90L766.00 144.96L762.94 141.90Z" fill="#000080" stroke="#000060" stroke-width="0.70"/><path d="M788.3 160.3V166.0M786.1 160.3H790.5M786.1 166.0H790.5" stroke="#3030ff" stroke-width="0.9"/><rect x="785.36" y="160.66" width="5.88" height="5.88" fill="#0000ff" stroke="#0000a0" stroke-width="1.30"/><path d="M783.9 148.3V155.9M781.7 148.3H786.1M781.7 155.9H786.1" stroke="#3434c8" stroke-width="0.9"/><path d="M783.90 154.94L787.05 149.24L780.75 149.24Z" fill="#000080" stroke="#000040" stroke-width="0.70"/><path d="M769.1 143.8V159.4M766.9 143.8H771.3M766.9 159.4H771.3" stroke="#3030ff" stroke-width="0.9"/><path d="M769.10 148.06L772.25 153.76L765.95 153.76Z" fill="#0000ff" stroke="#0000a0" stroke-width="0.70"/><path d="M765.1 159.1V169.9M762.9 159.1H767.3M762.9 169.9H767.3" stroke="#3030ff" stroke-width="0.9"/><path d="M765.10 161.27L768.25 166.97L761.95 166.97Z" fill="#0000ff" stroke="#0000a0" stroke-width="0.70"/><path d="M779.9 152.1V162.7M777.7 152.1H782.1M777.7 162.7H782.1" stroke="#3030ff" stroke-width="0.9"/><rect x="776.96" y="154.66" width="5.88" height="5.88" fill="#0000ff" stroke="#0000a0" stroke-width="1.30"/><path d="M774.9 139.8V154.6M772.7 139.8H777.1M772.7 154.6H777.1" stroke="#3030ff" stroke-width="0.9"/><rect x="771.96" y="143.96" width="5.88" height="5.88" fill="#0000ff" stroke="#0000a0" stroke-width="1.30"/><path d="M776.4 143.5V152.5M774.2 143.5H778.6M774.2 152.5H778.6" stroke="#3030ff" stroke-width="0.9"/><rect x="773.46" y="145.46" width="5.88" height="5.88" fill="#0000ff" stroke="#0000a0" stroke-width="1.30"/><path d="M789.4 148.4V162.1M787.2 148.4H791.6M787.2 162.1H791.6" stroke="#3030ff" stroke-width="0.9"/><rect x="786.46" y="151.96" width="5.88" height="5.88" fill="#0000ff" stroke="#0000a0" stroke-width="1.30"/><path d="M786.2 138.0V150.7M784.0 138.0H788.4M784.0 150.7H788.4" stroke="#3030ff" stroke-width="0.9"/><rect x="783.26" y="141.76" width="5.88" height="5.88" fill="#0000ff" stroke="#0000a0" stroke-width="1.30"/><path d="M780.2 166.9V171.9M778.0 166.9H782.4M778.0 171.9H782.4" stroke="#3030ff" stroke-width="0.9"/><rect x="777.26" y="166.86" width="5.88" height="5.88" fill="#0000ff" stroke="#0000a0" stroke-width="1.30"/><path d="M782.3 153.3V163.0M780.1 153.3H784.5M780.1 163.0H784.5" stroke="#3434c8" stroke-width="0.9"/><path d="M782.30 161.13L785.45 155.44L779.15 155.44Z" fill="#000080" stroke="#000040" stroke-width="0.70"/><path d="M804.3 181.3V197.0M802.1 181.3H806.5M802.1 197.0H806.5" stroke="#3030ff" stroke-width="0.9"/><path d="M804.30 185.67L807.45 191.37L801.15 191.37Z" fill="#0000ff" stroke="#0000a0" stroke-width="0.70"/><path d="M805.8 153.5V164.0M803.6 153.5H808.0M803.6 164.0H808.0" stroke="#3030ff" stroke-width="0.9"/><path d="M805.80 155.27L808.95 160.97L802.65 160.97Z" fill="#0000ff" stroke="#0000a0" stroke-width="0.70"/><path d="M794.0 180.9V188.3M791.8 180.9H796.2M791.8 188.3H796.2" stroke="#3434c8" stroke-width="0.9"/><path d="M794.00 187.94L797.15 182.24L790.85 182.24Z" fill="#000080" stroke="#000040" stroke-width="0.70"/><path d="M797.7 150.5V166.6M795.5 150.5H799.9M795.5 166.6H799.9" stroke="#3030ff" stroke-width="0.9"/><rect x="794.76" y="155.46" width="5.88" height="5.88" fill="#0000ff" stroke="#0000a0" stroke-width="1.30"/><path d="M810.5 178.8V191.6M808.3 178.8H812.7M808.3 191.6H812.7" stroke="#3434c8" stroke-width="0.9"/><path d="M810.50 182.34L813.56 185.40L810.50 188.46L807.44 185.40Z" fill="#000080" stroke="#000060" stroke-width="0.70"/><path d="M795.5 152.7V168.3M793.3 152.7H797.7M793.3 168.3H797.7" stroke="#3030ff" stroke-width="0.9"/><rect x="792.56" y="157.16" width="5.88" height="5.88" fill="#0000ff" stroke="#0000a0" stroke-width="1.30"/><path d="M797.2 177.7V191.5M795.0 177.7H799.4M795.0 191.5H799.4" stroke="#3030ff" stroke-width="0.9"/><path d="M797.20 181.47L800.35 187.16L794.05 187.16Z" fill="#0000ff" stroke="#0000a0" stroke-width="0.70"/><path d="M792.3 174.2V183.3M790.1 174.2H794.5M790.1 183.3H794.5" stroke="#3434c8" stroke-width="0.9"/><path d="M792.30 181.83L795.45 176.13L789.15 176.13Z" fill="#000080" stroke="#000040" stroke-width="0.70"/><path d="M811.2 154.7V166.5M809.0 154.7H813.4M809.0 166.5H813.4" stroke="#3434c8" stroke-width="0.9"/><path d="M811.20 163.33L814.35 157.63L808.05 157.63Z" fill="#000080" stroke="#000040" stroke-width="0.70"/><path d="M799.0 185.0V190.4M796.8 185.0H801.2M796.8 190.4H801.2" stroke="#3434c8" stroke-width="0.9"/><path d="M799.00 184.94L802.06 188.00L799.00 191.06L795.94 188.00Z" fill="#000080" stroke="#000060" stroke-width="0.70"/><path d="M796.3 170.0V183.8M794.1 170.0H798.5M794.1 183.8H798.5" stroke="#3030ff" stroke-width="0.9"/><rect x="793.36" y="173.46" width="5.88" height="5.88" fill="#0000ff" stroke="#0000a0" stroke-width="1.30"/><path d="M793.9 165.4V179.1M791.7 165.4H796.1M791.7 179.1H796.1" stroke="#3434c8" stroke-width="0.9"/><path d="M793.90 175.13L797.05 169.44L790.75 169.44Z" fill="#000080" stroke="#000040" stroke-width="0.70"/><path d="M795.5 151.3V158.2M793.3 151.3H797.7M793.3 158.2H797.7" stroke="#3434c8" stroke-width="0.9"/><path d="M795.50 158.13L798.65 152.44L792.35 152.44Z" fill="#000080" stroke="#000040" stroke-width="0.70"/><path d="M811.2 171.5V183.5M809.0 171.5H813.4M809.0 183.5H813.4" stroke="#3434c8" stroke-width="0.9"/><path d="M811.20 180.44L814.35 174.74L808.05 174.74Z" fill="#000080" stroke="#000040" stroke-width="0.70"/><path d="M821.1 163.8V172.1M818.9 163.8H823.3M818.9 172.1H823.3" stroke="#209020" stroke-width="0.9"/><rect x="818.16" y="165.36" width="5.88" height="5.88" fill="#008000" stroke="#000000" stroke-width="1.30"/><path d="M815.4 185.5V194.0M813.2 185.5H817.6M813.2 194.0H817.6" stroke="#3030ff" stroke-width="0.9"/><rect x="812.46" y="186.56" width="5.88" height="5.88" fill="#0000ff" stroke="#0000a0" stroke-width="1.30"/><path d="M817.3 165.7V178.2M815.1 165.7H819.5M815.1 178.2H819.5" stroke="#3030ff" stroke-width="0.9"/><rect x="814.36" y="169.06" width="5.88" height="5.88" fill="#0000ff" stroke="#0000a0" stroke-width="1.30"/><path d="M833.8 172.4V185.6M831.6 172.4H836.0M831.6 185.6H836.0" stroke="#209020" stroke-width="0.9"/><rect x="830.86" y="176.56" width="5.88" height="5.88" fill="#000000" stroke="#008000" stroke-width="1.60"/><path d="M836.9 175.5V187.4M834.7 175.5H839.1M834.7 187.4H839.1" stroke="#3030ff" stroke-width="0.9"/><rect x="833.96" y="178.76" width="5.88" height="5.88" fill="#0000ff" stroke="#0000a0" stroke-width="1.30"/><path d="M812.3 175.3V187.7M810.1 175.3H814.5M810.1 187.7H814.5" stroke="#209020" stroke-width="0.9"/><rect x="809.36" y="178.46" width="5.88" height="5.88" fill="#008000" stroke="#000000" stroke-width="1.30"/><path d="M831.8 164.2V179.8M829.6 164.2H834.0M829.6 179.8H834.0" stroke="#209020" stroke-width="0.9"/><rect x="828.86" y="169.16" width="5.88" height="5.88" fill="#008000" stroke="#000000" stroke-width="1.30"/><path d="M831.6 179.7V185.6M829.4 179.7H833.8M829.4 185.6H833.8" stroke="#209020" stroke-width="0.9"/><rect x="828.66" y="179.36" width="5.88" height="5.88" fill="#008000" stroke="#000000" stroke-width="1.30"/><path d="M815.9 190.2V197.3M813.7 190.2H818.1M813.7 197.3H818.1" stroke="#3030ff" stroke-width="0.9"/><rect x="812.96" y="190.56" width="5.88" height="5.88" fill="#0000ff" stroke="#0000a0" stroke-width="1.30"/><path d="M819.5 177.2V185.6M817.3 177.2H821.7M817.3 185.6H821.7" stroke="#209020" stroke-width="0.9"/><rect x="816.56" y="178.16" width="5.88" height="5.88" fill="#008000" stroke="#000000" stroke-width="1.30"/><path d="M820.6 180.7V187.3M818.4 180.7H822.8M818.4 187.3H822.8" stroke="#209020" stroke-width="0.9"/><rect x="817.66" y="181.36" width="5.88" height="5.88" fill="#008000" stroke="#000000" stroke-width="1.30"/><path d="M823.5 175.2V188.9M821.3 175.2H825.7M821.3 188.9H825.7" stroke="#3030ff" stroke-width="0.9"/><rect x="820.56" y="179.56" width="5.88" height="5.88" fill="#0000ff" stroke="#0000a0" stroke-width="1.30"/><path d="M831.9 184.0V193.0M829.7 184.0H834.1M829.7 193.0H834.1" stroke="#209020" stroke-width="0.9"/><rect x="828.96" y="185.96" width="5.88" height="5.88" fill="#008000" stroke="#000000" stroke-width="1.30"/><path d="M825.8 179.1V188.7M823.6 179.1H828.0M823.6 188.7H828.0" stroke="#209020" stroke-width="0.9"/><rect x="822.86" y="181.26" width="5.88" height="5.88" fill="#008000" stroke="#000000" stroke-width="1.30"/><path d="M818.9 173.5V182.4M816.7 173.5H821.1M816.7 182.4H821.1" stroke="#209020" stroke-width="0.9"/><rect x="815.96" y="175.06" width="5.88" height="5.88" fill="#008000" stroke="#000000" stroke-width="1.30"/><path d="M840.1 173.6V186.9M837.9 173.6H842.3M837.9 186.9H842.3" stroke="#209020" stroke-width="0.9"/><rect x="837.16" y="177.26" width="5.88" height="5.88" fill="#008000" stroke="#000000" stroke-width="1.30"/><path d="M838.1 191.7V207.1M835.9 191.7H840.3M835.9 207.1H840.3" stroke="#209020" stroke-width="0.9"/><rect x="835.16" y="196.46" width="5.88" height="5.88" fill="#008000" stroke="#000000" stroke-width="1.30"/><path d="M819.2 177.5V183.0M817.0 177.5H821.4M817.0 183.0H821.4" stroke="#209020" stroke-width="0.9"/><rect x="816.26" y="177.56" width="5.88" height="5.88" fill="#008000" stroke="#000000" stroke-width="1.30"/><path d="M839.7 180.8V190.4M837.5 180.8H841.9M837.5 190.4H841.9" stroke="#209020" stroke-width="0.9"/><rect x="836.76" y="182.86" width="5.88" height="5.88" fill="#008000" stroke="#000000" stroke-width="1.30"/><path d="M818.2 178.3V194.1M816.0 178.3H820.4M816.0 194.1H820.4" stroke="#209020" stroke-width="0.9"/><rect x="815.26" y="183.26" width="5.88" height="5.88" fill="#008000" stroke="#000000" stroke-width="1.30"/><path d="M817.4 171.5V176.7M815.2 171.5H819.6M815.2 176.7H819.6" stroke="#3030ff" stroke-width="0.9"/><rect x="814.46" y="171.16" width="5.88" height="5.88" fill="#0000ff" stroke="#0000a0" stroke-width="1.30"/><path d="M834.2 175.9V187.8M832.0 175.9H836.4M832.0 187.8H836.4" stroke="#3030ff" stroke-width="0.9"/><rect x="831.26" y="178.76" width="5.88" height="5.88" fill="#0000ff" stroke="#0000a0" stroke-width="1.30"/><path d="M868.6 170.2V184.4M866.4 170.2H870.8M866.4 184.4H870.8" stroke="#3434c8" stroke-width="0.9"/><path d="M868.60 174.34L871.66 177.40L868.60 180.46L865.54 177.40Z" fill="#000080" stroke="#000060" stroke-width="0.70"/><path d="M882.2 149.6V163.7M880.0 149.6H884.4M880.0 163.7H884.4" stroke="#3030ff" stroke-width="0.9"/><path d="M882.20 153.97L885.35 159.66L879.05 159.66Z" fill="#0000ff" stroke="#0000a0" stroke-width="0.70"/><path d="M869.9 152.7V160.4M867.7 152.7H872.1M867.7 160.4H872.1" stroke="#2a2aff" stroke-width="0.9"/><path d="M869.90 153.17L873.05 158.87L866.75 158.87Z" fill="#0000ee" stroke="#000080" stroke-width="0.70"/><path d="M876.5 172.0V178.1M874.3 172.0H878.7M874.3 178.1H878.7" stroke="#3434c8" stroke-width="0.9"/><path d="M876.50 171.54L879.56 174.60L876.50 177.66L873.44 174.60Z" fill="#000080" stroke="#000060" stroke-width="0.70"/><path d="M870.2 160.9V172.3M868.0 160.9H872.4M868.0 172.3H872.4" stroke="#3030ff" stroke-width="0.9"/><rect x="867.26" y="163.16" width="5.88" height="5.88" fill="#0000ff" stroke="#0000a0" stroke-width="1.30"/><path d="M877.2 156.1V172.0M875.0 156.1H879.4M875.0 172.0H879.4" stroke="#2a2aff" stroke-width="0.9"/><path d="M877.20 160.97L880.35 166.66L874.05 166.66Z" fill="#0000ee" stroke="#000080" stroke-width="0.70"/><path d="M870.1 169.8V178.9M867.9 169.8H872.3M867.9 178.9H872.3" stroke="#2a2aff" stroke-width="0.9"/><path d="M870.10 171.06L873.25 176.76L866.95 176.76Z" fill="#0000ee" stroke="#000080" stroke-width="0.70"/><path d="M866.4 157.9V163.1M864.2 157.9H868.6M864.2 163.1H868.6" stroke="#3434c8" stroke-width="0.9"/><path d="M866.40 157.34L869.46 160.40L866.40 163.46L863.34 160.40Z" fill="#000080" stroke="#000060" stroke-width="0.70"/><path d="M870.6 162.9V168.9M868.4 162.9H872.8M868.4 168.9H872.8" stroke="#3434c8" stroke-width="0.9"/><path d="M870.60 163.14L873.66 166.20L870.60 169.26L867.54 166.20Z" fill="#000080" stroke="#000060" stroke-width="0.70"/><path d="M868.2 167.0V177.9M866.0 167.0H870.4M866.0 177.9H870.4" stroke="#2a2aff" stroke-width="0.9"/><path d="M868.20 169.27L871.35 174.97L865.05 174.97Z" fill="#0000ee" stroke="#000080" stroke-width="0.70"/><path d="M897.7 147.9V159.2M895.5 147.9H899.9M895.5 159.2H899.9" stroke="#2a2aff" stroke-width="0.9"/><path d="M897.70 150.47L900.85 156.16L894.55 156.16Z" fill="#0000ee" stroke="#000080" stroke-width="0.70"/><path d="M888.2 167.4V182.5M886.0 167.4H890.4M886.0 182.5H890.4" stroke="#a02828" stroke-width="0.9"/><rect x="885.26" y="172.26" width="5.88" height="5.88" fill="#800000" stroke="#000000" stroke-width="1.30"/><path d="M898.8 155.9V161.1M896.6 155.9H901.0M896.6 161.1H901.0" stroke="#a02828" stroke-width="0.9"/><rect x="895.86" y="156.06" width="5.88" height="5.88" fill="#800000" stroke="#000000" stroke-width="1.30"/><path d="M885.8 161.2V170.9M883.6 161.2H888.0M883.6 170.9H888.0" stroke="#a02828" stroke-width="0.9"/><rect x="882.86" y="163.06" width="5.88" height="5.88" fill="#800000" stroke="#000000" stroke-width="1.30"/><path d="M897.0 170.3V176.0M894.8 170.3H899.2M894.8 176.0H899.2" stroke="#ff3030" stroke-width="0.9"/><rect x="894.06" y="170.46" width="5.88" height="5.88" fill="#ff0000" stroke="#000000" stroke-width="1.30"/><path d="M893.2 162.6V177.6M891.0 162.6H895.4M891.0 177.6H895.4" stroke="#a02828" stroke-width="0.9"/><rect x="890.26" y="167.46" width="5.88" height="5.88" fill="#800000" stroke="#000000" stroke-width="1.30"/><path d="M881.5 168.1V180.2M879.3 168.1H883.7M879.3 180.2H883.7" stroke="#3030ff" stroke-width="0.9"/><path d="M881.50 171.27L884.65 176.97L878.35 176.97Z" fill="#0000ff" stroke="#0000a0" stroke-width="0.70"/><path d="M884.7 160.1V166.4M882.5 160.1H886.9M882.5 166.4H886.9" stroke="#3434c8" stroke-width="0.9"/><path d="M884.70 159.94L887.76 163.00L884.70 166.06L881.64 163.00Z" fill="#000080" stroke="#000060" stroke-width="0.70"/><path d="M892.5 164.1V169.2M890.3 164.1H894.7M890.3 169.2H894.7" stroke="#a02828" stroke-width="0.9"/><rect x="889.56" y="163.76" width="5.88" height="5.88" fill="#800000" stroke="#000000" stroke-width="1.30"/><path d="M893.6 163.5V179.6M891.4 163.5H895.8M891.4 179.6H895.8" stroke="#3030ff" stroke-width="0.9"/><path d="M893.60 168.17L896.75 173.87L890.45 173.87Z" fill="#0000ff" stroke="#0000a0" stroke-width="0.70"/><path d="M884.7 164.0V174.5M882.5 164.0H886.9M882.5 174.5H886.9" stroke="#3030ff" stroke-width="0.9"/><path d="M884.70 165.67L887.85 171.37L881.55 171.37Z" fill="#0000ff" stroke="#0000a0" stroke-width="0.70"/><path d="M898.0 156.3V169.1M895.8 156.3H900.2M895.8 169.1H900.2" stroke="#f03838" stroke-width="0.9"/><rect x="895.06" y="159.46" width="5.88" height="5.88" fill="#ff0000" stroke="#a00000" stroke-width="1.30"/><path d="M882.6 154.1V158.8M880.4 154.1H884.8M880.4 158.8H884.8" stroke="#f03838" stroke-width="0.9"/><rect x="879.66" y="153.86" width="5.88" height="5.88" fill="#ff0000" stroke="#a00000" stroke-width="1.30"/><path d="M888.1 151.8V167.3M885.9 151.8H890.3M885.9 167.3H890.3" stroke="#ff3030" stroke-width="0.9"/><rect x="885.16" y="156.56" width="5.88" height="5.88" fill="#ff0000" stroke="#000000" stroke-width="1.30"/><path d="M905.7 165.0V174.3M903.5 165.0H907.9M903.5 174.3H907.9" stroke="#2a2aff" stroke-width="0.9"/><path d="M905.70 166.97L908.85 172.66L902.55 172.66Z" fill="#0000ee" stroke="#000080" stroke-width="0.70"/><path d="M910.8 151.4V165.5M908.6 151.4H913.0M908.6 165.5H913.0" stroke="#3030ff" stroke-width="0.9"/><rect x="907.86" y="155.16" width="5.88" height="5.88" fill="#0000ff" stroke="#0000a0" stroke-width="1.30"/><path d="M910.3 167.8V175.5M908.1 167.8H912.5M908.1 175.5H912.5" stroke="#3030ff" stroke-width="0.9"/><rect x="907.36" y="168.46" width="5.88" height="5.88" fill="#0000ff" stroke="#0000a0" stroke-width="1.30"/><path d="M904.8 157.6V172.7M902.6 157.6H907.0M902.6 172.7H907.0" stroke="#3434c8" stroke-width="0.9"/><path d="M904.80 161.74L907.86 164.80L904.80 167.86L901.74 164.80Z" fill="#000080" stroke="#000060" stroke-width="0.70"/><path d="M909.4 148.8V161.3M907.2 148.8H911.6M907.2 161.3H911.6" stroke="#ff3030" stroke-width="0.9"/><rect x="906.46" y="152.36" width="5.88" height="5.88" fill="#ff0000" stroke="#000000" stroke-width="1.30"/><path d="M901.1 150.4V154.9M898.9 150.4H903.3M898.9 154.9H903.3" stroke="#3434c8" stroke-width="0.9"/><path d="M901.10 149.84L904.16 152.90L901.10 155.96L898.04 152.90Z" fill="#000080" stroke="#000060" stroke-width="0.70"/><path d="M904.2 172.8V179.9M902.0 172.8H906.4M902.0 179.9H906.4" stroke="#2a2aff" stroke-width="0.9"/><path d="M904.20 172.77L907.35 178.47L901.05 178.47Z" fill="#0000ee" stroke="#000080" stroke-width="0.70"/><path d="M915.5 153.2V161.6M913.3 153.2H917.7M913.3 161.6H917.7" stroke="#ff3030" stroke-width="0.9"/><rect x="912.56" y="154.56" width="5.88" height="5.88" fill="#ff0000" stroke="#000000" stroke-width="1.30"/><path d="M907.7 153.5V159.5M905.5 153.5H909.9M905.5 159.5H909.9" stroke="#2a2aff" stroke-width="0.9"/><path d="M907.70 153.77L910.85 159.47L904.55 159.47Z" fill="#0000ee" stroke="#000080" stroke-width="0.70"/><path d="M910.0 161.6V174.3M907.8 161.6H912.2M907.8 174.3H912.2" stroke="#a02828" stroke-width="0.9"/><rect x="907.06" y="165.16" width="5.88" height="5.88" fill="#800000" stroke="#000000" stroke-width="1.30"/><path d="M940.4 146.8V151.7M938.2 146.8H942.6M938.2 151.7H942.6" stroke="#a02828" stroke-width="0.9"/><rect x="937.46" y="146.66" width="5.88" height="5.88" fill="#800000" stroke="#000000" stroke-width="1.30"/><path d="M942.2 144.5V158.9M940.0 144.5H944.4M940.0 158.9H944.4" stroke="#f03838" stroke-width="0.9"/><rect x="939.26" y="148.46" width="5.88" height="5.88" fill="#ff0000" stroke="#a00000" stroke-width="1.30"/><path d="M936.8 143.3V157.7M934.6 143.3H939.0M934.6 157.7H939.0" stroke="#a01818" stroke-width="0.9"/><path d="M933.35 150.20H940.25M936.80 146.75V153.65" stroke="#a00000" stroke-width="1.90"/><path d="M938.1 141.9V147.8M935.9 141.9H940.3M935.9 147.8H940.3" stroke="#a030a0" stroke-width="0.9"/><path d="M938.10 142.06L941.25 147.76L934.95 147.76Z" fill="#800080" stroke="#600060" stroke-width="0.70"/><path d="M941.2 141.3V149.0M939.0 141.3H943.4M939.0 149.0H943.4" stroke="#f03838" stroke-width="0.9"/><rect x="938.26" y="142.26" width="5.88" height="5.88" fill="#ff0000" stroke="#a00000" stroke-width="1.30"/><path d="M940.8 147.6V154.6M938.6 147.6H943.0M938.6 154.6H943.0" stroke="#a01818" stroke-width="0.9"/><path d="M937.35 151.30H944.25M940.80 147.85V154.75" stroke="#a00000" stroke-width="1.90"/><path d="M941.8 152.7V159.5M939.6 152.7H944.0M939.6 159.5H944.0" stroke="#a01818" stroke-width="0.9"/><path d="M938.35 156.30H945.25M941.80 152.85V159.75" stroke="#a00000" stroke-width="1.90"/><path d="M942.0 136.9V151.0M939.8 136.9H944.2M939.8 151.0H944.2" stroke="#f03838" stroke-width="0.9"/><rect x="939.06" y="140.66" width="5.88" height="5.88" fill="#ff0000" stroke="#a00000" stroke-width="1.30"/><path d="M952.9 153.0V161.9M950.7 153.0H955.1M950.7 161.9H955.1" stroke="#f03838" stroke-width="0.9"/><rect x="949.96" y="154.26" width="5.88" height="5.88" fill="#ff0000" stroke="#a00000" stroke-width="1.30"/><path d="M945.6 138.3V148.2M943.4 138.3H947.8M943.4 148.2H947.8" stroke="#ff3030" stroke-width="0.9"/><rect x="942.66" y="140.66" width="5.88" height="5.88" fill="#ff0000" stroke="#000000" stroke-width="1.30"/><path d="M955.2 149.2V155.6M953.0 149.2H957.4M953.0 155.6H957.4" stroke="#f03838" stroke-width="0.9"/><rect x="952.26" y="149.46" width="5.88" height="5.88" fill="#ff0000" stroke="#a00000" stroke-width="1.30"/><path d="M950.7 138.1V150.9M948.5 138.1H952.9M948.5 150.9H952.9" stroke="#a02828" stroke-width="0.9"/><rect x="947.76" y="141.96" width="5.88" height="5.88" fill="#800000" stroke="#000000" stroke-width="1.30"/><path d="M945.8 137.0V148.8M943.6 137.0H948.0M943.6 148.8H948.0" stroke="#f03838" stroke-width="0.9"/><rect x="942.86" y="140.26" width="5.88" height="5.88" fill="#ff0000" stroke="#a00000" stroke-width="1.30"/><path d="M948.5 142.6V151.5M946.3 142.6H950.7M946.3 151.5H950.7" stroke="#a01818" stroke-width="0.9"/><path d="M945.05 147.10H951.95M948.50 143.65V150.55" stroke="#a00000" stroke-width="1.90"/><path d="M955.2 150.0V160.3M953.0 150.0H957.4M953.0 160.3H957.4" stroke="#ff3030" stroke-width="0.9"/><rect x="952.26" y="152.06" width="5.88" height="5.88" fill="#ff0000" stroke="#000000" stroke-width="1.30"/><path d="M948.1 138.0V144.3M945.9 138.0H950.3M945.9 144.3H950.3" stroke="#a01818" stroke-width="0.9"/><path d="M944.65 141.20H951.55M948.10 137.75V144.65" stroke="#a00000" stroke-width="1.90"/><path d="M951.8 130.8V144.1M949.6 130.8H954.0M949.6 144.1H954.0" stroke="#a01818" stroke-width="0.9"/><path d="M948.35 137.50H955.25M951.80 134.05V140.95" stroke="#a00000" stroke-width="1.90"/><path d="M945.9 136.7V141.9M943.7 136.7H948.1M943.7 141.9H948.1" stroke="#2a2aff" stroke-width="0.9"/><path d="M945.90 136.37L949.05 142.06L942.75 142.06Z" fill="#0000ee" stroke="#000080" stroke-width="0.70"/><path d="M953.4 131.2V138.1M951.2 131.2H955.6M951.2 138.1H955.6" stroke="#ff3030" stroke-width="0.9"/><rect x="950.46" y="131.66" width="5.88" height="5.88" fill="#ff0000" stroke="#000000" stroke-width="1.30"/><path d="M962.7 137.8V147.1M960.5 137.8H964.9M960.5 147.1H964.9" stroke="#a030a0" stroke-width="0.9"/><circle cx="962.70" cy="142.60" r="2.64" fill="#800080" stroke="#600060" stroke-width="0.70"/><path d="M957.0 149.1V157.4M954.8 149.1H959.2M954.8 157.4H959.2" stroke="#ff3030" stroke-width="0.9"/><rect x="954.06" y="150.06" width="5.88" height="5.88" fill="#ff0000" stroke="#000000" stroke-width="1.30"/><path d="M963.1 156.3V167.5M960.9 156.3H965.3M960.9 167.5H965.3" stroke="#2a2aff" stroke-width="0.9"/><path d="M963.10 158.97L966.25 164.66L959.95 164.66Z" fill="#0000ee" stroke="#000080" stroke-width="0.70"/><path d="M959.7 157.2V165.3M957.5 157.2H961.9M957.5 165.3H961.9" stroke="#ff3030" stroke-width="0.9"/><rect x="956.76" y="157.86" width="5.88" height="5.88" fill="#ff0000" stroke="#000000" stroke-width="1.30"/><path d="M956.9 154.7V162.4M954.7 154.7H959.1M954.7 162.4H959.1" stroke="#f03838" stroke-width="0.9"/><rect x="953.96" y="155.66" width="5.88" height="5.88" fill="#ff0000" stroke="#a00000" stroke-width="1.30"/><path d="M963.9 146.2V153.6M961.7 146.2H966.1M961.7 153.6H966.1" stroke="#f03838" stroke-width="0.9"/><rect x="960.96" y="146.76" width="5.88" height="5.88" fill="#ff0000" stroke="#a00000" stroke-width="1.30"/><path d="M958.7 138.5V153.1M956.5 138.5H960.9M956.5 153.1H960.9" stroke="#a01818" stroke-width="0.9"/><path d="M955.25 145.70H962.15M958.70 142.25V149.15" stroke="#a00000" stroke-width="1.90"/><path d="M956.1 152.8V167.9M953.9 152.8H958.3M953.9 167.9H958.3" stroke="#a01818" stroke-width="0.9"/><path d="M952.65 160.50H959.55M956.10 157.05V163.95" stroke="#a00000" stroke-width="1.90"/><path d="M973.3 165.7V174.6M971.1 165.7H975.5M971.1 174.6H975.5" stroke="#f03838" stroke-width="0.9"/><rect x="970.36" y="167.36" width="5.88" height="5.88" fill="#ff0000" stroke="#a00000" stroke-width="1.30"/><path d="M968.2 150.0V159.8M966.0 150.0H970.4M966.0 159.8H970.4" stroke="#a01818" stroke-width="0.9"/><path d="M964.75 154.80H971.65M968.20 151.35V158.25" stroke="#a00000" stroke-width="1.90"/><path d="M973.8 161.8V176.6M971.6 161.8H976.0M971.6 176.6H976.0" stroke="#a01818" stroke-width="0.9"/><path d="M970.35 168.70H977.25M973.80 165.25V172.15" stroke="#a00000" stroke-width="1.90"/><path d="M972.0 168.7V180.7M969.8 168.7H974.2M969.8 180.7H974.2" stroke="#f03838" stroke-width="0.9"/><rect x="969.06" y="171.86" width="5.88" height="5.88" fill="#ff0000" stroke="#a00000" stroke-width="1.30"/><path d="M973.2 151.6V165.3M971.0 151.6H975.4M971.0 165.3H975.4" stroke="#f03838" stroke-width="0.9"/><rect x="970.26" y="155.66" width="5.88" height="5.88" fill="#ff0000" stroke="#a00000" stroke-width="1.30"/><path d="M973.3 169.8V185.6M971.1 169.8H975.5M971.1 185.6H975.5" stroke="#f03838" stroke-width="0.9"/><rect x="970.36" y="174.56" width="5.88" height="5.88" fill="#ff0000" stroke="#a00000" stroke-width="1.30"/><path d="M971.4 158.9V169.8M969.2 158.9H973.6M969.2 169.8H973.6" stroke="#a01818" stroke-width="0.9"/><path d="M967.95 164.40H974.85M971.40 160.95V167.85" stroke="#a00000" stroke-width="1.90"/><path d="M967.7 171.3V178.4M965.5 171.3H969.9M965.5 178.4H969.9" stroke="#a01818" stroke-width="0.9"/><path d="M964.25 175.00H971.15M967.70 171.55V178.45" stroke="#a00000" stroke-width="1.90"/><path d="M966.7 148.7V161.9M964.5 148.7H968.9M964.5 161.9H968.9" stroke="#ff3030" stroke-width="0.9"/><rect x="963.76" y="152.66" width="5.88" height="5.88" fill="#ff0000" stroke="#000000" stroke-width="1.30"/><path d="M582.7 141.9V146.8M580.5 141.9H584.9M580.5 146.8H584.9" stroke="#8888a8" stroke-width="0.9"/><circle cx="582.70" cy="144.80" r="2.64" fill="#808080" stroke="#505050" stroke-width="0.70"/><path d="M584.3 149.5V162.1M582.1 149.5H586.5M582.1 162.1H586.5" stroke="#f03838" stroke-width="0.9"/><rect x="581.36" y="153.16" width="5.88" height="5.88" fill="#ff0000" stroke="#a00000" stroke-width="1.30"/><path d="M590.7 136.6V146.4M588.5 136.6H592.9M588.5 146.4H592.9" stroke="#f03838" stroke-width="0.9"/><rect x="587.76" y="138.66" width="5.88" height="5.88" fill="#ff0000" stroke="#a00000" stroke-width="1.30"/><path d="M597.2 129.9V144.6M595.0 129.9H599.4M595.0 144.6H599.4" stroke="#f03838" stroke-width="0.9"/><rect x="594.26" y="133.86" width="5.88" height="5.88" fill="#ff0000" stroke="#a00000" stroke-width="1.30"/><path d="M595.5 138.4V147.1M593.3 138.4H597.7M593.3 147.1H597.7" stroke="#a02828" stroke-width="0.9"/><rect x="592.56" y="139.66" width="5.88" height="5.88" fill="#800000" stroke="#000000" stroke-width="1.30"/><path d="M588.2 159.0V173.8M586.0 159.0H590.4M586.0 173.8H590.4" stroke="#a030a0" stroke-width="0.9"/><path d="M588.20 163.27L591.35 168.97L585.05 168.97Z" fill="#800080" stroke="#600060" stroke-width="0.70"/><path d="M605.2 161.6V176.9M603.0 161.6H607.4M603.0 176.9H607.4" stroke="#f03838" stroke-width="0.9"/><rect x="602.26" y="166.06" width="5.88" height="5.88" fill="#ff0000" stroke="#a00000" stroke-width="1.30"/><path d="M614.8 172.8V182.0M612.6 172.8H617.0M612.6 182.0H617.0" stroke="#f03838" stroke-width="0.9"/><rect x="611.86" y="174.06" width="5.88" height="5.88" fill="#ff0000" stroke="#a00000" stroke-width="1.30"/><path d="M608.4 155.2V165.8M606.2 155.2H610.6M606.2 165.8H610.6" stroke="#f03838" stroke-width="0.9"/><rect x="605.46" y="157.96" width="5.88" height="5.88" fill="#ff0000" stroke="#a00000" stroke-width="1.30"/><path d="M618.0 132.7V144.8M615.8 132.7H620.2M615.8 144.8H620.2" stroke="#8888a8" stroke-width="0.9"/><circle cx="618.00" cy="138.40" r="2.64" fill="#808080" stroke="#505050" stroke-width="0.70"/><path d="M629.3 138.5V149.2M627.1 138.5H631.5M627.1 149.2H631.5" stroke="#a030a0" stroke-width="0.9"/><circle cx="629.30" cy="143.90" r="2.64" fill="#800080" stroke="#600060" stroke-width="0.70"/><path d="M621.3 169.0V179.4M619.1 169.0H623.5M619.1 179.4H623.5" stroke="#a02828" stroke-width="0.9"/><rect x="618.36" y="170.86" width="5.88" height="5.88" fill="#800000" stroke="#000000" stroke-width="1.30"/><path d="M642.2 141.8V153.6M640.0 141.8H644.4M640.0 153.6H644.4" stroke="#f03838" stroke-width="0.9"/><rect x="639.26" y="145.06" width="5.88" height="5.88" fill="#ff0000" stroke="#a00000" stroke-width="1.30"/><path d="M651.2 141.3V150.0M649.0 141.3H653.4M649.0 150.0H653.4" stroke="#a030a0" stroke-width="0.9"/><circle cx="651.20" cy="145.80" r="2.64" fill="#800080" stroke="#600060" stroke-width="0.70"/><path d="M630.9 162.8V178.8M628.7 162.8H633.1M628.7 178.8H633.1" stroke="#9090a8" stroke-width="0.9"/><path d="M630.90 173.73L634.05 168.03L627.75 168.03Z" fill="#808080" stroke="#606060" stroke-width="0.70"/><path d="M648.6 175.4V182.6M646.4 175.4H650.8M646.4 182.6H650.8" stroke="#9090a8" stroke-width="0.9"/><path d="M648.60 181.73L651.75 176.03L645.45 176.03Z" fill="#808080" stroke="#606060" stroke-width="0.70"/><path d="M627.7 176.5V182.1M625.5 176.5H629.9M625.5 182.1H629.9" stroke="#a030a0" stroke-width="0.9"/><path d="M627.70 176.06L630.85 181.76L624.55 181.76Z" fill="#800080" stroke="#600060" stroke-width="0.70"/><path d="M640.6 170.5V180.7M638.4 170.5H642.8M638.4 180.7H642.8" stroke="#a030a0" stroke-width="0.9"/><path d="M640.60 172.27L643.75 177.97L637.45 177.97Z" fill="#800080" stroke="#600060" stroke-width="0.70"/><path d="M664.7 185.0V193.9M662.5 185.0H666.9M662.5 193.9H666.9" stroke="#209020" stroke-width="0.9"/><rect x="661.76" y="186.96" width="5.88" height="5.88" fill="#008000" stroke="#000000" stroke-width="1.30"/><path d="M667.3 161.9V173.3M665.1 161.9H669.5M665.1 173.3H669.5" stroke="#a030a0" stroke-width="0.9"/><circle cx="667.30" cy="167.30" r="2.64" fill="#800080" stroke="#600060" stroke-width="0.70"/><path d="M680.8 187.2V200.6M678.6 187.2H683.0M678.6 200.6H683.0" stroke="#a030a0" stroke-width="0.9"/><path d="M680.80 190.87L683.95 196.56L677.65 196.56Z" fill="#800080" stroke="#600060" stroke-width="0.70"/><path d="M694.0 172.6V180.5M691.8 172.6H696.2M691.8 180.5H696.2" stroke="#9090a8" stroke-width="0.9"/><path d="M694.00 179.44L697.15 173.74L690.85 173.74Z" fill="#808080" stroke="#606060" stroke-width="0.70"/><path d="M697.9 174.7V187.9M695.7 174.7H700.1M695.7 187.9H700.1" stroke="#9090a8" stroke-width="0.9"/><path d="M697.90 184.73L701.05 179.03L694.75 179.03Z" fill="#808080" stroke="#606060" stroke-width="0.70"/><path d="M701.8 170.2V185.9M699.6 170.2H704.0M699.6 185.9H704.0" stroke="#9090a8" stroke-width="0.9"/><path d="M701.80 180.73L704.95 175.03L698.65 175.03Z" fill="#808080" stroke="#606060" stroke-width="0.70"/><path d="M695.3 187.2V196.7M693.1 187.2H697.5M693.1 196.7H697.5" stroke="#9090a8" stroke-width="0.9"/><path d="M695.30 195.23L698.45 189.53L692.15 189.53Z" fill="#808080" stroke="#606060" stroke-width="0.70"/><path d="M704.5 187.0V200.7M702.3 187.0H706.7M702.3 200.7H706.7" stroke="#9090a8" stroke-width="0.9"/><path d="M704.50 196.53L707.65 190.84L701.35 190.84Z" fill="#808080" stroke="#606060" stroke-width="0.70"/><path d="M699.2 185.9V192.7M697.0 185.9H701.4M697.0 192.7H701.4" stroke="#9090a8" stroke-width="0.9"/><path d="M699.20 192.63L702.35 186.94L696.05 186.94Z" fill="#808080" stroke="#606060" stroke-width="0.70"/><path d="M706.5 161.7V170.8M704.3 161.7H708.7M704.3 170.8H708.7" stroke="#3434c8" stroke-width="0.9"/><path d="M706.50 162.94L709.56 166.00L706.50 169.06L703.44 166.00Z" fill="#000080" stroke="#000060" stroke-width="0.70"/><circle cx="706.5" cy="166.0" r="5.2" fill="none" stroke="#3434c8" stroke-width="0.9"/><path d="M628.9 140.4V147.5M626.7 140.4H631.1M626.7 147.5H631.1" stroke="#a030a0" stroke-width="0.9"/><circle cx="628.90" cy="143.90" r="2.64" fill="#800080" stroke="#600060" stroke-width="0.70"/><circle cx="628.9" cy="143.9" r="5.2" fill="none" stroke="#a030a0" stroke-width="0.9"/><path d="M725.5 181.5V192.4M723.3 181.5H727.7M723.3 192.4H727.7" stroke="#3030ff" stroke-width="0.9"/><rect x="722.56" y="183.86" width="5.88" height="5.88" fill="#0000ff" stroke="#0000a0" stroke-width="1.30"/><path d="M734.7 187.5V195.0M732.5 187.5H736.9M732.5 195.0H736.9" stroke="#3030ff" stroke-width="0.9"/><rect x="731.76" y="187.86" width="5.88" height="5.88" fill="#0000ff" stroke="#0000a0" stroke-width="1.30"/><path d="M721.6 185.4V201.5M719.4 185.4H723.8M719.4 201.5H723.8" stroke="#3030ff" stroke-width="0.9"/><rect x="718.66" y="190.46" width="5.88" height="5.88" fill="#0000ff" stroke="#0000a0" stroke-width="1.30"/><path d="M717.6 165.5V178.6M715.4 165.5H719.8M715.4 178.6H719.8" stroke="#3434c8" stroke-width="0.9"/><path d="M717.60 169.34L720.66 172.40L717.60 175.46L714.54 172.40Z" fill="#000080" stroke="#000060" stroke-width="0.70"/><path d="M732.1 151.7V166.8M729.9 151.7H734.3M729.9 166.8H734.3" stroke="#3434c8" stroke-width="0.9"/><path d="M732.10 156.14L735.16 159.20L732.10 162.26L729.04 159.20Z" fill="#000080" stroke="#000060" stroke-width="0.70"/><path d="M717.6 189.3V203.4M715.4 189.3H719.8M715.4 203.4H719.8" stroke="#3434c8" stroke-width="0.9"/><path d="M717.60 199.13L720.75 193.44L714.45 193.44Z" fill="#000080" stroke="#000040" stroke-width="0.70"/><path d="M736.0 167.9V177.7M733.8 167.9H738.2M733.8 177.7H738.2" stroke="#f03838" stroke-width="0.9"/><rect x="733.06" y="169.46" width="5.88" height="5.88" fill="#ff0000" stroke="#a00000" stroke-width="1.30"/><path d="M745.3 153.0V159.3M743.1 153.0H747.5M743.1 159.3H747.5" stroke="#3434c8" stroke-width="0.9"/><path d="M745.30 153.54L748.36 156.60L745.30 159.66L742.24 156.60Z" fill="#000080" stroke="#000060" stroke-width="0.70"/><path d="M755.8 146.0V157.4M753.6 146.0H758.0M753.6 157.4H758.0" stroke="#3434c8" stroke-width="0.9"/><path d="M755.80 148.24L758.86 151.30L755.80 154.36L752.74 151.30Z" fill="#000080" stroke="#000060" stroke-width="0.70"/><path d="M746.6 157.0V172.9M744.4 157.0H748.8M744.4 172.9H748.8" stroke="#3434c8" stroke-width="0.9"/><path d="M746.60 161.44L749.66 164.50L746.60 167.56L743.54 164.50Z" fill="#000080" stroke="#000060" stroke-width="0.70"/><path d="M749.2 184.2V195.7M747.0 184.2H751.4M747.0 195.7H751.4" stroke="#3434c8" stroke-width="0.9"/><path d="M749.20 186.44L752.26 189.50L749.20 192.56L746.14 189.50Z" fill="#000080" stroke="#000060" stroke-width="0.70"/><path d="M762.4 178.6V189.1M760.2 178.6H764.6M760.2 189.1H764.6" stroke="#3434c8" stroke-width="0.9"/><path d="M762.40 181.14L765.46 184.20L762.40 187.26L759.34 184.20Z" fill="#000080" stroke="#000060" stroke-width="0.70"/><path d="M749.2 189.4V201.4M747.0 189.4H751.4M747.0 201.4H751.4" stroke="#3434c8" stroke-width="0.9"/><path d="M749.20 196.53L752.35 190.84L746.05 190.84Z" fill="#000080" stroke="#000040" stroke-width="0.70"/><path d="M758.4 157.2V169.8M756.2 157.2H760.6M756.2 169.8H760.6" stroke="#a02828" stroke-width="0.9"/><rect x="755.46" y="160.26" width="5.88" height="5.88" fill="#800000" stroke="#000000" stroke-width="1.30"/><path d="M768.9 146.5V156.3M766.7 146.5H771.1M766.7 156.3H771.1" stroke="#3030ff" stroke-width="0.9"/><rect x="765.96" y="148.36" width="5.88" height="5.88" fill="#0000ff" stroke="#0000a0" stroke-width="1.30"/><path d="M770.3 140.8V148.2M768.1 140.8H772.5M768.1 148.2H772.5" stroke="#3030ff" stroke-width="0.9"/><rect x="767.36" y="141.76" width="5.88" height="5.88" fill="#0000ff" stroke="#0000a0" stroke-width="1.30"/><path d="M765.0 164.9V174.5M762.8 164.9H767.2M762.8 174.5H767.2" stroke="#f03838" stroke-width="0.9"/><rect x="762.06" y="166.76" width="5.88" height="5.88" fill="#ff0000" stroke="#a00000" stroke-width="1.30"/><path d="M779.6 139.1V148.5M777.4 139.1H781.8M777.4 148.5H781.8" stroke="#3434c8" stroke-width="0.9"/><path d="M779.60 147.33L782.75 141.63L776.45 141.63Z" fill="#000080" stroke="#000040" stroke-width="0.70"/><path d="M770.8 144.7V149.4M768.6 144.7H773.0M768.6 149.4H773.0" stroke="#3434c8" stroke-width="0.9"/><path d="M770.80 150.33L773.95 144.63L767.65 144.63Z" fill="#000080" stroke="#000040" stroke-width="0.70"/><path d="M773.8 140.8V154.1M771.6 140.8H776.0M771.6 154.1H776.0" stroke="#3030ff" stroke-width="0.9"/><rect x="770.86" y="144.26" width="5.88" height="5.88" fill="#0000ff" stroke="#0000a0" stroke-width="1.30"/><path d="M769.4 149.2V156.3M767.2 149.2H771.6M767.2 156.3H771.6" stroke="#3030ff" stroke-width="0.9"/><rect x="766.46" y="150.06" width="5.88" height="5.88" fill="#0000ff" stroke="#0000a0" stroke-width="1.30"/><path d="M767.9 177.5V187.5M765.7 177.5H770.1M765.7 187.5H770.1" stroke="#3434c8" stroke-width="0.9"/><path d="M767.90 179.74L770.96 182.80L767.90 185.86L764.84 182.80Z" fill="#000080" stroke="#000060" stroke-width="0.70"/><path d="M788.4 144.3V156.7M786.2 144.3H790.6M786.2 156.7H790.6" stroke="#3434c8" stroke-width="0.9"/><path d="M788.40 153.23L791.55 147.53L785.25 147.53Z" fill="#000080" stroke="#000040" stroke-width="0.70"/><path d="M792.8 147.9V155.3M790.6 147.9H795.0M790.6 155.3H795.0" stroke="#3434c8" stroke-width="0.9"/><path d="M792.80 154.63L795.95 148.94L789.65 148.94Z" fill="#000080" stroke="#000040" stroke-width="0.70"/><path d="M805.9 152.9V163.9M803.7 152.9H808.1M803.7 163.9H808.1" stroke="#3030ff" stroke-width="0.9"/><rect x="802.96" y="155.96" width="5.88" height="5.88" fill="#0000ff" stroke="#0000a0" stroke-width="1.30"/><path d="M805.9 161.1V174.6M803.7 161.1H808.1M803.7 174.6H808.1" stroke="#3030ff" stroke-width="0.9"/><rect x="802.96" y="164.66" width="5.88" height="5.88" fill="#0000ff" stroke="#0000a0" stroke-width="1.30"/><path d="M788.4 170.0V183.2M786.2 170.0H790.6M786.2 183.2H790.6" stroke="#3030ff" stroke-width="0.9"/><rect x="785.46" y="173.46" width="5.88" height="5.88" fill="#0000ff" stroke="#0000a0" stroke-width="1.30"/><path d="M786.9 165.1V173.8M784.7 165.1H789.1M784.7 173.8H789.1" stroke="#2a2aff" stroke-width="0.9"/><path d="M786.90 165.97L790.05 171.66L783.75 171.66Z" fill="#0000ee" stroke="#000080" stroke-width="0.70"/><path d="M795.7 174.7V189.0M793.5 174.7H797.9M793.5 189.0H797.9" stroke="#2a2aff" stroke-width="0.9"/><path d="M795.70 179.17L798.85 184.87L792.55 184.87Z" fill="#0000ee" stroke="#000080" stroke-width="0.70"/><path d="M816.2 159.9V175.2M814.0 159.9H818.4M814.0 175.2H818.4" stroke="#209020" stroke-width="0.9"/><rect x="813.26" y="164.66" width="5.88" height="5.88" fill="#008000" stroke="#000000" stroke-width="1.30"/><path d="M832.3 172.0V177.1M830.1 172.0H834.5M830.1 177.1H834.5" stroke="#209020" stroke-width="0.9"/><rect x="829.36" y="172.06" width="5.88" height="5.88" fill="#008000" stroke="#000000" stroke-width="1.30"/><path d="M835.2 182.7V196.8M833.0 182.7H837.4M833.0 196.8H837.4" stroke="#209020" stroke-width="0.9"/><rect x="832.26" y="186.66" width="5.88" height="5.88" fill="#008000" stroke="#000000" stroke-width="1.30"/><path d="M813.2 183.3V189.8M811.0 183.3H815.4M811.0 189.8H815.4" stroke="#209020" stroke-width="0.9"/><rect x="810.26" y="183.66" width="5.88" height="5.88" fill="#008000" stroke="#000000" stroke-width="1.30"/><path d="M817.6 186.0V199.0M815.4 186.0H819.8M815.4 199.0H819.8" stroke="#3030ff" stroke-width="0.9"/><rect x="814.66" y="188.06" width="5.88" height="5.88" fill="#0000ff" stroke="#0000a0" stroke-width="1.30"/><path d="M827.9 191.9V208.9M825.7 191.9H830.1M825.7 208.9H830.1" stroke="#3030ff" stroke-width="0.9"/><rect x="824.96" y="193.96" width="5.88" height="5.88" fill="#0000ff" stroke="#0000a0" stroke-width="1.30"/><path d="M823.5 174.8V187.8M821.3 174.8H825.7M821.3 187.8H825.7" stroke="#3030ff" stroke-width="0.9"/><rect x="820.56" y="177.86" width="5.88" height="5.88" fill="#0000ff" stroke="#0000a0" stroke-width="1.30"/><path d="M871.7 154.6V163.8M869.5 154.6H873.9M869.5 163.8H873.9" stroke="#2a2aff" stroke-width="0.9"/><path d="M871.70 155.77L874.85 161.47L868.55 161.47Z" fill="#0000ee" stroke="#000080" stroke-width="0.70"/><path d="M868.8 169.7V176.7M866.6 169.7H871.0M866.6 176.7H871.0" stroke="#2a2aff" stroke-width="0.9"/><path d="M868.80 170.37L871.95 176.06L865.65 176.06Z" fill="#0000ee" stroke="#000080" stroke-width="0.70"/><path d="M873.8 154.9V161.5M871.6 154.9H876.0M871.6 161.5H876.0" stroke="#2a2aff" stroke-width="0.9"/><path d="M873.80 155.17L876.95 160.87L870.65 160.87Z" fill="#0000ee" stroke="#000080" stroke-width="0.70"/><path d="M869.2 167.8V179.2M867.0 167.8H871.4M867.0 179.2H871.4" stroke="#2a2aff" stroke-width="0.9"/><path d="M869.20 170.56L872.35 176.26L866.05 176.26Z" fill="#0000ee" stroke="#000080" stroke-width="0.70"/><path d="M878.4 177.0V183.2M876.2 177.0H880.6M876.2 183.2H880.6" stroke="#2a2aff" stroke-width="0.9"/><path d="M878.40 177.27L881.55 182.97L875.25 182.97Z" fill="#0000ee" stroke="#000080" stroke-width="0.70"/><path d="M876.9 166.1V171.5M874.7 166.1H879.1M874.7 171.5H879.1" stroke="#2a2aff" stroke-width="0.9"/><path d="M876.90 165.97L880.05 171.66L873.75 171.66Z" fill="#0000ee" stroke="#000080" stroke-width="0.70"/><path d="M890.7 149.5V157.9M888.5 149.5H892.9M888.5 157.9H892.9" stroke="#f03838" stroke-width="0.9"/><rect x="887.76" y="150.76" width="5.88" height="5.88" fill="#ff0000" stroke="#a00000" stroke-width="1.30"/><path d="M895.3 154.8V161.8M893.1 154.8H897.5M893.1 161.8H897.5" stroke="#f03838" stroke-width="0.9"/><rect x="892.36" y="155.36" width="5.88" height="5.88" fill="#ff0000" stroke="#a00000" stroke-width="1.30"/><path d="M884.6 159.6V170.4M882.4 159.6H886.8M882.4 170.4H886.8" stroke="#3434c8" stroke-width="0.9"/><path d="M884.60 161.44L887.66 164.50L884.60 167.56L881.54 164.50Z" fill="#000080" stroke="#000060" stroke-width="0.70"/><path d="M889.2 170.0V181.3M887.0 170.0H891.4M887.0 181.3H891.4" stroke="#3434c8" stroke-width="0.9"/><path d="M889.20 172.14L892.26 175.20L889.20 178.26L886.14 175.20Z" fill="#000080" stroke="#000060" stroke-width="0.70"/><path d="M896.8 154.8V164.4M894.6 154.8H899.0M894.6 164.4H899.0" stroke="#a02828" stroke-width="0.9"/><rect x="893.86" y="156.96" width="5.88" height="5.88" fill="#800000" stroke="#000000" stroke-width="1.30"/><path d="M887.6 164.8V175.6M885.4 164.8H889.8M885.4 175.6H889.8" stroke="#3030ff" stroke-width="0.9"/><rect x="884.66" y="167.66" width="5.88" height="5.88" fill="#0000ff" stroke="#0000a0" stroke-width="1.30"/><path d="M910.7 148.8V154.8M908.5 148.8H912.9M908.5 154.8H912.9" stroke="#a02828" stroke-width="0.9"/><rect x="907.76" y="149.26" width="5.88" height="5.88" fill="#800000" stroke="#000000" stroke-width="1.30"/><path d="M913.7 150.4V164.1M911.5 150.4H915.9M911.5 164.1H915.9" stroke="#a02828" stroke-width="0.9"/><rect x="910.76" y="153.86" width="5.88" height="5.88" fill="#800000" stroke="#000000" stroke-width="1.30"/><path d="M909.1 165.9V175.0M906.9 165.9H911.3M906.9 175.0H911.3" stroke="#a02828" stroke-width="0.9"/><rect x="906.16" y="167.66" width="5.88" height="5.88" fill="#800000" stroke="#000000" stroke-width="1.30"/><path d="M906.0 159.7V169.0M903.8 159.7H908.2M903.8 169.0H908.2" stroke="#f03838" stroke-width="0.9"/><rect x="903.06" y="161.56" width="5.88" height="5.88" fill="#ff0000" stroke="#a00000" stroke-width="1.30"/><path d="M904.5 175.1V187.5M902.3 175.1H906.7M902.3 187.5H906.7" stroke="#2a2aff" stroke-width="0.9"/><path d="M904.50 178.27L907.65 183.97L901.35 183.97Z" fill="#0000ee" stroke="#000080" stroke-width="0.70"/><path d="M935.4 130.0V137.4M933.2 130.0H937.6M933.2 137.4H937.6" stroke="#8888a8" stroke-width="0.9"/><circle cx="935.40" cy="133.30" r="2.64" fill="#808080" stroke="#505050" stroke-width="0.70"/><path d="M934.3 132.8V143.1M932.1 132.8H936.5M932.1 143.1H936.5" stroke="#8888a8" stroke-width="0.9"/><circle cx="934.30" cy="138.40" r="2.64" fill="#808080" stroke="#505050" stroke-width="0.70"/><path d="M930.2 140.4V155.2M928.0 140.4H932.4M928.0 155.2H932.4" stroke="#8888a8" stroke-width="0.9"/><circle cx="930.20" cy="147.60" r="2.64" fill="#808080" stroke="#505050" stroke-width="0.70"/><path d="M928.2 150.4V159.5M926.0 150.4H930.4M926.0 159.5H930.4" stroke="#8888a8" stroke-width="0.9"/><circle cx="928.20" cy="154.80" r="2.64" fill="#808080" stroke="#505050" stroke-width="0.70"/><path d="M928.5 144.9V159.9M926.3 144.9H930.7M926.3 159.9H930.7" stroke="#a02828" stroke-width="0.9"/><rect x="925.56" y="149.56" width="5.88" height="5.88" fill="#800000" stroke="#000000" stroke-width="1.30"/><path d="M925.1 152.0V161.4M922.9 152.0H927.3M922.9 161.4H927.3" stroke="#8888a8" stroke-width="0.9"/><circle cx="925.10" cy="156.90" r="2.64" fill="#808080" stroke="#505050" stroke-width="0.70"/><circle cx="925.1" cy="156.9" r="5.2" fill="none" stroke="#8888a8" stroke-width="0.9"/><path d="M950.6 130.9V142.3M948.4 130.9H952.8M948.4 142.3H952.8" stroke="#f03838" stroke-width="0.9"/><rect x="947.66" y="133.46" width="5.88" height="5.88" fill="#ff0000" stroke="#a00000" stroke-width="1.30"/><path d="M945.9 133.2V147.1M943.7 133.2H948.1M943.7 147.1H948.1" stroke="#a01818" stroke-width="0.9"/><path d="M942.45 139.70H949.35M945.90 136.25V143.15" stroke="#a00000" stroke-width="1.90"/><path d="M942.9 147.4V153.7M940.7 147.4H945.1M940.7 153.7H945.1" stroke="#f03838" stroke-width="0.9"/><rect x="939.96" y="147.76" width="5.88" height="5.88" fill="#ff0000" stroke="#a00000" stroke-width="1.30"/><path d="M938.8 149.6V164.6M936.6 149.6H941.0M936.6 164.6H941.0" stroke="#f03838" stroke-width="0.9"/><rect x="935.86" y="153.86" width="5.88" height="5.88" fill="#ff0000" stroke="#a00000" stroke-width="1.30"/><path d="M961.3 154.2V166.0M959.1 154.2H963.5M959.1 166.0H963.5" stroke="#f03838" stroke-width="0.9"/><rect x="958.36" y="156.96" width="5.88" height="5.88" fill="#ff0000" stroke="#a00000" stroke-width="1.30"/><path d="M969.0 171.8V181.5M966.8 171.8H971.2M966.8 181.5H971.2" stroke="#f03838" stroke-width="0.9"/><rect x="966.06" y="173.26" width="5.88" height="5.88" fill="#ff0000" stroke="#a00000" stroke-width="1.30"/><path d="M966.8 162.6V173.4M964.6 162.6H969.0M964.6 173.4H969.0" stroke="#f03838" stroke-width="0.9"/><rect x="963.86" y="165.16" width="5.88" height="5.88" fill="#ff0000" stroke="#a00000" stroke-width="1.30"/><path d="M970.2 177.5V183.7M968.0 177.5H972.4M968.0 183.7H972.4" stroke="#f03838" stroke-width="0.9"/><rect x="967.26" y="178.06" width="5.88" height="5.88" fill="#ff0000" stroke="#a00000" stroke-width="1.30"/><path d="M942.9 157.1V172.5M940.7 157.1H945.1M940.7 172.5H945.1" stroke="#a030a0" stroke-width="0.9"/><path d="M942.90 161.37L946.05 167.06L939.75 167.06Z" fill="#800080" stroke="#600060" stroke-width="0.70"/><path d="M972.1 152.7V157.6M969.9 152.7H974.3M969.9 157.6H974.3" stroke="#a030a0" stroke-width="0.9"/><path d="M972.10 152.17L975.25 157.87L968.95 157.87Z" fill="#800080" stroke="#600060" stroke-width="0.70"/><path d="M586.9 127.2V180.2M584.7 127.2H589.1M584.7 180.2H589.1" stroke="#a83434" stroke-width="0.9"/><rect x="583.96" y="147.06" width="5.88" height="5.88" fill="#ff0000" stroke="#a00000" stroke-width="1.30"/><path d="M588.2 118.2V169.0M586.0 118.2H590.4M586.0 169.0H590.4" stroke="#a83434" stroke-width="0.9"/><rect x="585.26" y="142.06" width="5.88" height="5.88" fill="#ff0000" stroke="#a00000" stroke-width="1.30"/><path d="M591.7 110.4V170.6M589.5 110.4H593.9M589.5 170.6H593.9" stroke="#a83434" stroke-width="0.9"/><rect x="588.76" y="137.06" width="5.88" height="5.88" fill="#ff0000" stroke="#a00000" stroke-width="1.30"/><path d="M595.9 114.3V170.6M593.7 114.3H598.1M593.7 170.6H598.1" stroke="#a83434" stroke-width="0.9"/><rect x="592.96" y="137.06" width="5.88" height="5.88" fill="#ff0000" stroke="#a00000" stroke-width="1.30"/><path d="M599.7 109.5V181.8M597.5 109.5H601.9M597.5 181.8H601.9" stroke="#a83434" stroke-width="0.9"/><rect x="596.76" y="139.06" width="5.88" height="5.88" fill="#ff0000" stroke="#a00000" stroke-width="1.30"/><path d="M618.4 117.3V210.4M616.2 117.3H620.6M616.2 210.4H620.6" stroke="#a83434" stroke-width="0.9"/><rect x="615.46" y="157.06" width="5.88" height="5.88" fill="#ff0000" stroke="#a00000" stroke-width="1.30"/><path d="M620.5 131.6V216.5M618.3 131.6H622.7M618.3 216.5H622.7" stroke="#a83434" stroke-width="0.9"/><rect x="617.56" y="165.06" width="5.88" height="5.88" fill="#ff0000" stroke="#a00000" stroke-width="1.30"/><path d="M930.0 129.2V176.8M927.8 129.2H932.2M927.8 176.8H932.2" stroke="#a83434" stroke-width="0.9"/><rect x="927.06" y="147.06" width="5.88" height="5.88" fill="#ff0000" stroke="#a00000" stroke-width="1.30"/><path d="M942.3 118.4V180.4M940.1 118.4H944.5M940.1 180.4H944.5" stroke="#a83434" stroke-width="0.9"/><rect x="939.36" y="147.06" width="5.88" height="5.88" fill="#ff0000" stroke="#a00000" stroke-width="1.30"/><path d="M946.6 110.7V172.2M944.4 110.7H948.8M944.4 172.2H948.8" stroke="#a83434" stroke-width="0.9"/><rect x="943.66" y="142.06" width="5.88" height="5.88" fill="#ff0000" stroke="#a00000" stroke-width="1.30"/><path d="M950.6 113.8V172.2M948.4 113.8H952.8M948.4 172.2H952.8" stroke="#a83434" stroke-width="0.9"/><rect x="947.66" y="139.06" width="5.88" height="5.88" fill="#ff0000" stroke="#a00000" stroke-width="1.30"/><path d="M954.6 109.2V182.9M952.4 109.2H956.8M952.4 182.9H956.8" stroke="#a83434" stroke-width="0.9"/><rect x="951.66" y="142.06" width="5.88" height="5.88" fill="#ff0000" stroke="#a00000" stroke-width="1.30"/><path d="M965.9 149.1V178.3M963.7 149.1H968.1M963.7 178.3H968.1" stroke="#f03838" stroke-width="0.9"/><rect x="962.96" y="159.06" width="5.88" height="5.88" fill="#ff0000" stroke="#a00000" stroke-width="1.30"/></g>
<path d="M600.50 7.90V12.90M600.50 324.40V319.40M635.90 7.90V12.90M635.90 324.40V319.40M671.30 7.90V12.90M671.30 324.40V319.40M706.70 7.90V12.90M706.70 324.40V319.40M742.10 7.90V12.90M742.10 324.40V319.40M777.50 7.90V12.90M777.50 324.40V319.40M812.90 7.90V12.90M812.90 324.40V319.40M848.30 7.90V12.90M848.30 324.40V319.40M883.70 7.90V12.90M883.70 324.40V319.40M919.10 7.90V12.90M919.10 324.40V319.40M954.50 7.90V12.90M954.50 324.40V319.40M557.80 36.30H563.00M996.50 36.30H991.30M557.80 58.20H563.00M996.50 58.20H991.30M557.80 80.10H563.00M996.50 80.10H991.30M557.80 102.00H563.00M996.50 102.00H991.30M557.80 123.90H563.00M996.50 123.90H991.30M557.80 145.80H563.00M996.50 145.80H991.30M557.80 167.70H563.00M996.50 167.70H991.30M557.80 189.60H563.00M996.50 189.60H991.30M557.80 211.50H563.00M996.50 211.50H991.30M557.80 233.40H563.00M996.50 233.40H991.30M557.80 255.30H563.00M996.50 255.30H991.30M557.80 277.20H563.00M996.50 277.20H991.30M557.80 299.10H563.00M996.50 299.10H991.30" stroke="#707070" stroke-width="1.4" fill="none"/>
<rect x="556.80" y="6.90" width="440.70" height="318.50" fill="none" stroke="#303030" stroke-width="1.9"/>
<text x="600.50" y="337.80" font-size="12" text-anchor="middle" >0.00</text>
<text x="635.90" y="337.80" font-size="12" text-anchor="middle" >0.10</text>
<text x="671.30" y="337.80" font-size="12" text-anchor="middle" >0.20</text>
<text x="706.70" y="337.80" font-size="12" text-anchor="middle" >0.30</text>
<text x="742.10" y="337.80" font-size="12" text-anchor="middle" >0.40</text>
<text x="777.50" y="337.80" font-size="12" text-anchor="middle" >0.50</text>
<text x="812.90" y="337.80" font-size="12" text-anchor="middle" >0.60</text>
<text x="848.30" y="337.80" font-size="12" text-anchor="middle" >0.70</text>
<text x="883.70" y="337.80" font-size="12" text-anchor="middle" >0.80</text>
<text x="919.10" y="337.80" font-size="12" text-anchor="middle" >0.90</text>
<text x="954.50" y="337.80" font-size="12" text-anchor="middle" >1.00</text>
<text x="554.90" y="39.90" font-size="12.3" text-anchor="end" >-0.30</text>
<text x="554.90" y="61.80" font-size="12.3" text-anchor="end" >-0.25</text>
<text x="554.90" y="83.70" font-size="12.3" text-anchor="end" >-0.20</text>
<text x="554.90" y="105.60" font-size="12.3" text-anchor="end" >-0.15</text>
<text x="554.90" y="127.50" font-size="12.3" text-anchor="end" >-0.10</text>
<text x="554.90" y="149.40" font-size="12.3" text-anchor="end" >-0.05</text>
<text x="554.90" y="171.30" font-size="12.3" text-anchor="end" >0.00</text>
<text x="554.90" y="193.20" font-size="12.3" text-anchor="end" >0.05</text>
<text x="554.90" y="215.10" font-size="12.3" text-anchor="end" >0.10</text>
<text x="554.90" y="237.00" font-size="12.3" text-anchor="end" >0.15</text>
<text x="554.90" y="258.90" font-size="12.3" text-anchor="end" >0.20</text>
<text x="554.90" y="280.80" font-size="12.3" text-anchor="end" >0.25</text>
<text x="554.90" y="302.70" font-size="12.3" text-anchor="end" >0.30</text>
<text x="717.30" y="35.40" font-size="19.1" text-anchor="start" textLength="47.6" lengthAdjust="spacingAndGlyphs" stroke="#000" stroke-width="0.35">3873</text>
<text x="772.10" y="35.40" font-size="19.1" text-anchor="start" textLength="62.8" lengthAdjust="spacingAndGlyphs" stroke="#000" stroke-width="0.35">Roddy</text>
<text x="706.20" y="54.90" font-size="13.6" text-anchor="start" textLength="140.5" lengthAdjust="spacingAndGlyphs" >Period: 19.24 ± 0.02 h</text>
<text x="568.80" y="311.10" font-size="13.8" text-anchor="start" textLength="173.0" lengthAdjust="spacingAndGlyphs" >JDo(LTC): 2456152.694697</text>
<text transform="translate(518.50,269.00) rotate(-90)" x="0" y="0" font-size="11" textLength="206.6" lengthAdjust="spacingAndGlyphs">Reduced Magnitude(V) alpha(17.8°)</text>
<rect x="841.30" y="214.30" width="69.60" height="101.70" fill="#000"/>
<rect x="839.30" y="212.30" width="69.00" height="100.90" fill="#fff" stroke="#303030" stroke-width="0.9"/>
<text x="856.30" y="221.80" font-size="9.7" text-anchor="start" textLength="46.2" lengthAdjust="spacingAndGlyphs" >Year: 2012</text>
<path d="M848.20 226.67L851.24 232.18L845.15 232.18Z" fill="#0000ee" stroke="#000080" stroke-width="0.70"/>
<text x="856.20" y="232.80" font-size="9.7" text-anchor="start" textLength="51.4" lengthAdjust="spacingAndGlyphs" >5530 - 08/13</text>
<circle cx="848.20" cy="240.72" r="2.73" fill="#808080" stroke="#505050" stroke-width="0.70"/>
<text x="856.20" y="243.82" font-size="9.7" text-anchor="start" textLength="51.4" lengthAdjust="spacingAndGlyphs" >5537 - 08/17</text>
<rect x="845.16" y="248.70" width="6.08" height="6.08" fill="#008000" stroke="#000000" stroke-width="1.30"/>
<text x="856.20" y="254.84" font-size="9.7" text-anchor="start" textLength="51.4" lengthAdjust="spacingAndGlyphs" >5542 - 08/19</text>
<path d="M844.63 262.76H851.76M848.20 259.19V266.32" stroke="#000000" stroke-width="1.90"/>
<text x="856.20" y="265.86" font-size="9.7" text-anchor="start" textLength="51.4" lengthAdjust="spacingAndGlyphs" >5549 - 08/20</text>
<circle cx="848.20" cy="273.78" r="2.73" fill="#800080" stroke="#600060" stroke-width="0.70"/>
<text x="856.20" y="276.88" font-size="9.7" text-anchor="start" textLength="51.4" lengthAdjust="spacingAndGlyphs" >5553 - 08/21</text>
<rect x="845.16" y="281.76" width="6.08" height="6.08" fill="#000000" stroke="#008000" stroke-width="1.60"/>
<text x="856.20" y="287.90" font-size="9.7" text-anchor="start" textLength="51.4" lengthAdjust="spacingAndGlyphs" >5558 - 08/22</text>
<path d="M848.20 292.79L851.24 298.30L845.15 298.30Z" fill="#800080" stroke="#600060" stroke-width="0.70"/>
<text x="856.20" y="298.92" font-size="9.7" text-anchor="start" textLength="51.4" lengthAdjust="spacingAndGlyphs" >5562 - 08/25</text>
<rect x="845.16" y="303.80" width="6.08" height="6.08" fill="#ff0000" stroke="#000000" stroke-width="1.30"/>
<text x="856.20" y="309.94" font-size="9.7" text-anchor="start" textLength="51.4" lengthAdjust="spacingAndGlyphs" >5566 - 08/26</text>
<rect x="918.50" y="213.80" width="69.60" height="100.20" fill="#000"/>
<rect x="916.50" y="211.80" width="69.00" height="99.40" fill="#fff" stroke="#303030" stroke-width="0.9"/>
<text x="933.50" y="221.30" font-size="9.7" text-anchor="start" textLength="46.2" lengthAdjust="spacingAndGlyphs" >Year: 2012</text>
<path d="M925.40 232.23L928.44 226.72L922.36 226.72Z" fill="#000080" stroke="#000040" stroke-width="0.70"/>
<text x="933.40" y="232.30" font-size="9.7" text-anchor="start" textLength="51.4" lengthAdjust="spacingAndGlyphs" >5571 - 08/27</text>
<rect x="922.36" y="236.99" width="6.08" height="6.08" fill="#0000ff" stroke="#0000a0" stroke-width="1.30"/>
<text x="933.40" y="243.13" font-size="9.7" text-anchor="start" textLength="51.4" lengthAdjust="spacingAndGlyphs" >5576 - 08/31</text>
<rect x="922.36" y="247.82" width="6.08" height="6.08" fill="#ff0000" stroke="#a00000" stroke-width="1.30"/>
<text x="933.40" y="253.96" font-size="9.7" text-anchor="start" textLength="51.4" lengthAdjust="spacingAndGlyphs" >5584 - 09/06</text>
<path d="M925.40 258.66L928.44 264.17L922.36 264.17Z" fill="#0000ff" stroke="#0000a0" stroke-width="0.70"/>
<text x="933.40" y="264.79" font-size="9.7" text-anchor="start" textLength="51.4" lengthAdjust="spacingAndGlyphs" >5594 - 09/09</text>
<path d="M921.83 272.52H928.97M925.40 268.96V276.09" stroke="#a00000" stroke-width="1.90"/>
<text x="933.40" y="275.62" font-size="9.7" text-anchor="start" textLength="51.4" lengthAdjust="spacingAndGlyphs" >5605 - 09/10</text>
<rect x="922.36" y="280.31" width="6.08" height="6.08" fill="#800000" stroke="#000000" stroke-width="1.30"/>
<text x="933.40" y="286.45" font-size="9.7" text-anchor="start" textLength="51.4" lengthAdjust="spacingAndGlyphs" >5614 - 09/14</text>
<path d="M925.40 297.21L928.44 291.70L922.36 291.70Z" fill="#808080" stroke="#606060" stroke-width="0.70"/>
<text x="933.40" y="297.28" font-size="9.7" text-anchor="start" textLength="51.4" lengthAdjust="spacingAndGlyphs" >5619 - 09/15</text>
<path d="M925.40 301.85L928.56 305.01L925.40 308.17L922.24 305.01Z" fill="#000080" stroke="#000060" stroke-width="0.70"/>
<text x="933.40" y="308.11" font-size="9.7" text-anchor="start" textLength="51.4" lengthAdjust="spacingAndGlyphs" >5628 - 09/16</text>
</svg>
</body></html>
